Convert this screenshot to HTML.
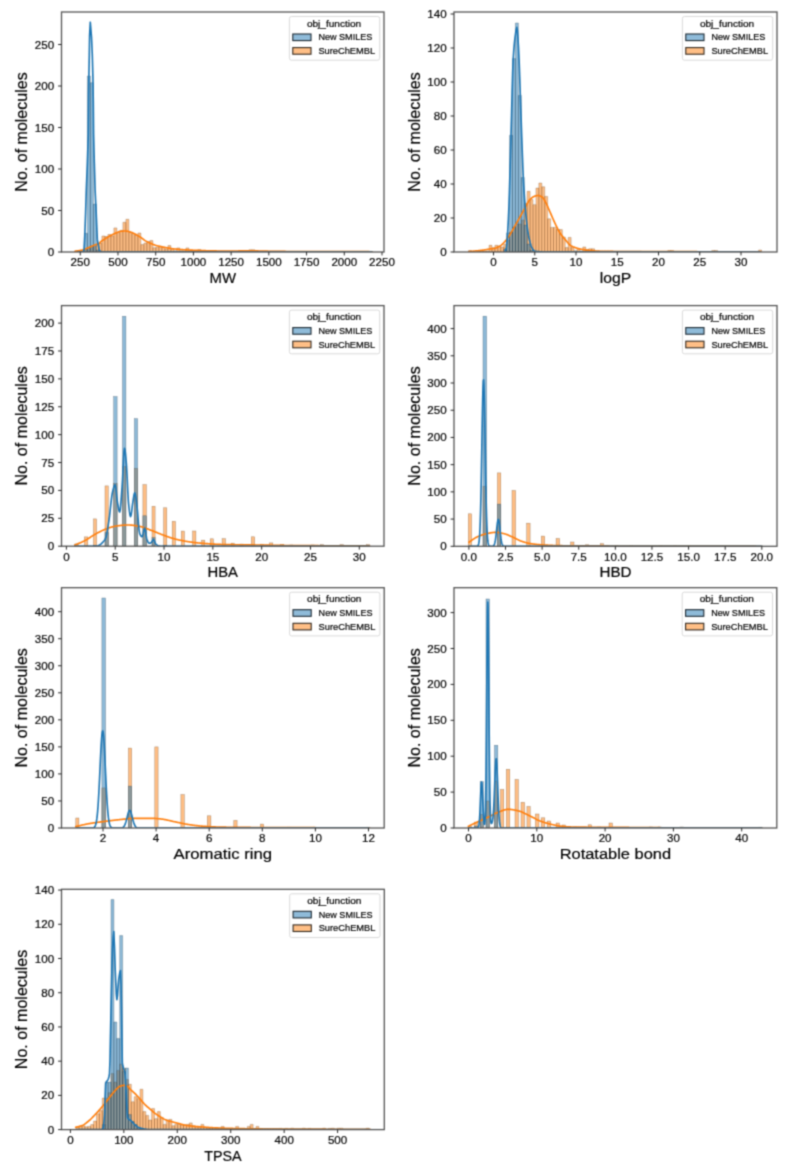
<!DOCTYPE html><html><head><meta charset="utf-8"><style>html,body{margin:0;padding:0;background:#fff;overflow:hidden;}svg{display:block;}svg text{stroke:#000000;stroke-width:0.2px;}</style></head><body>
<svg width="790" height="1174" viewBox="0 0 790 1174" font-family='"Liberation Sans", sans-serif' fill="#000000">
<rect width="790" height="1174" fill="#fff"/>
<defs><filter id="bl" x="0" y="0" width="790" height="1174" filterUnits="userSpaceOnUse" color-interpolation-filters="sRGB"><feConvolveMatrix order="3" kernelMatrix="1 3 1 3 9 3 1 3 1" edgeMode="none"/></filter></defs>
<g filter="url(#bl)">
<g>
<clipPath id="c1"><rect x="61.5" y="12" width="322.5" height="240"/></clipPath>
<g clip-path="url(#c1)">
<path d="M74.9 252V251.2H77.9V252ZM77.9 252V251.2H80.9V252ZM80.9 252V250.5H83.9V252ZM83.9 252V249.5H86.9V252ZM86.9 252V247.7H89.9V252ZM89.9 252V246.2H92.9V252ZM92.9 252V246.2H95.9V252ZM95.9 252V245.2H98.9V252ZM98.9 252V243.1H101.9V252ZM101.9 252V236H104.9V252ZM104.9 252V236.5H107.9V252ZM107.9 252V234.5H110.9V252ZM110.9 252V236H113.9V252ZM113.9 252V227.9H116.9V252ZM116.9 252V232.5H119.9V252ZM119.9 252V230.4H122.9V252ZM122.9 252V222.3H125.9V252ZM125.9 252V219.3H128.9V252ZM128.9 252V232.5H131.9V252ZM131.9 252V233.5H134.9V252ZM134.9 252V235H137.9V252ZM137.9 252V233H140.9V252ZM140.9 252V244.6H143.9V252ZM143.9 252V243.1H146.9V252ZM146.9 252V241.6H149.9V252ZM149.9 252V240.6H152.9V252ZM152.9 252V247.7H155.9V252ZM155.9 252V247.2H158.9V252ZM158.9 252V246.1H161.9V252ZM161.9 252V247.2H164.9V252ZM164.9 252V249H167.9V252ZM167.9 252V245.6H170.9V252ZM170.9 252V249.5H173.9V252ZM173.9 252V250.8H176.9V252ZM176.9 252V247.9H179.9V252ZM179.9 252V250.8H182.9V252ZM182.9 252V250.8H185.9V252ZM185.9 252V247.9H188.9V252ZM188.9 252V250.8H191.9V252ZM191.9 252V250.8H194.9V252ZM194.9 252V250.8H197.9V252ZM197.9 252V249.5H200.9V252ZM200.9 252V250.8H203.9V252ZM203.9 252V250.8H206.9V252ZM206.9 252V250.8H209.9V252ZM209.9 252V251.1H212.9V252ZM212.9 252V251.1H215.9V252ZM215.9 252V251.1H218.9V252ZM218.9 252V251.1H221.9V252ZM221.9 252V251.1H224.9V252ZM224.9 252V251.1H227.9V252ZM227.9 252V251.1H230.9V252ZM230.9 252V251.1H233.9V252ZM233.9 252V251.1H236.9V252ZM236.9 252V251.1H239.9V252ZM239.9 252V251.1H242.9V252ZM242.9 252V251.1H245.9V252ZM245.9 252V251.1H248.9V252ZM248.9 252V249.8H251.9V252ZM251.9 252V249.8H254.9V252ZM254.9 252V251.1H257.9V252ZM257.9 252V251.1H260.9V252ZM260.9 252V251.1H263.9V252ZM263.9 252V251.1H266.9V252ZM266.9 252V251.1H269.9V252ZM269.9 252V251.1H272.9V252ZM272.9 252V251.1H275.9V252ZM275.9 252V251.1H278.9V252ZM278.9 252V251.1H281.9V252ZM281.9 252V251.1H284.9V252ZM284.9 252V251.4H287.9V252ZM287.9 252V251.4H290.9V252ZM290.9 252V251.4H293.9V252ZM293.9 252V251.4H296.9V252ZM296.9 252V251.4H299.9V252ZM299.9 252V251.4H302.9V252ZM302.9 252V251.4H305.9V252ZM305.9 252V251.4H308.9V252ZM308.9 252V251.4H311.9V252ZM311.9 252V251.4H314.9V252ZM314.9 252V251.4H317.9V252ZM317.9 252V251.4H320.9V252ZM320.9 252V251.4H323.9V252ZM323.9 252V251.4H326.9V252ZM326.9 252V251.4H329.9V252ZM329.9 252V251.4H332.9V252ZM332.9 252V251.4H335.9V252ZM335.9 252V251.4H338.9V252ZM338.9 252V251.4H341.9V252ZM341.9 252V251.4H344.9V252ZM344.9 252V251.4H347.9V252ZM347.9 252V251.4H350.9V252ZM350.9 252V251.4H353.9V252ZM353.9 252V251.4H356.9V252ZM356.9 252V251.4H359.9V252ZM359.9 252V251.4H362.9V252ZM362.9 252V251.4H365.9V252ZM365.9 252V251.4H368.9V252ZM368.9 252V251.4H371.9V252Z" fill="#ff7f0e" fill-opacity="0.5" stroke="#5a3410" stroke-opacity="0.5" stroke-width="0.5"/>
<path d="M84.4 252V233.3H87.4V252ZM87.4 252V76H90.4V252ZM90.4 252V82.7H93.4V252ZM93.4 252V204H96.4V252ZM96.4 252V250H99.4V252Z" fill="#1f77b4" fill-opacity="0.5" stroke="#0d2a40" stroke-opacity="0.5" stroke-width="0.5"/>
<polyline points="75,251.2 75.5,251.13 76,251.07 76.5,251 77,250.94 77.5,250.88 78,250.81 78.5,250.74 79,250.67 79.5,250.59 80,250.5 80.5,250.4 81,250.3 81.5,250.19 82,250.06 82.5,249.93 83,249.8 83.5,249.65 84,249.5 84.5,249.34 85,249.16 85.5,248.96 86,248.76 86.5,248.55 87,248.33 87.5,248.1 88,247.87 88.5,247.65 89,247.43 89.5,247.21 90,247 90.5,246.79 91,246.58 91.5,246.36 92,246.15 92.5,245.93 93,245.72 93.5,245.5 94,245.3 94.5,245.1 95,244.91 95.5,244.72 96,244.56 96.5,244.4 97,244.28 97.5,244.17 98,244.06 98.5,243.9 99,243.59 99.5,243.11 100,242.54 100.5,241.97 101,241.5 101.51,241.11 102.03,240.74 102.54,240.39 103.05,240.06 103.56,239.74 104.07,239.43 104.59,239.12 105.1,238.8 105.61,238.48 106.12,238.17 106.63,237.86 107.14,237.55 107.65,237.24 108.16,236.94 108.67,236.65 109.18,236.36 109.69,236.08 110.2,235.8 110.71,235.53 111.22,235.26 111.73,234.99 112.24,234.73 112.75,234.47 113.26,234.22 113.77,233.98 114.28,233.74 114.79,233.51 115.3,233.3 115.8,233.09 116.3,232.87 116.8,232.65 117.3,232.43 117.8,232.21 118.3,232 118.8,231.81 119.3,231.63 119.8,231.48 120.3,231.36 120.8,231.26 121.3,231.2 121.81,231.16 122.33,231.12 122.84,231.09 123.35,231.06 123.86,231.03 124.38,231.02 124.89,231 125.4,231 125.9,231.02 126.4,231.06 126.9,231.14 127.4,231.23 127.9,231.34 128.4,231.45 128.9,231.58 129.4,231.7 129.91,231.83 130.42,231.99 130.93,232.17 131.43,232.37 131.94,232.58 132.45,232.81 132.96,233.04 133.47,233.29 133.97,233.54 134.48,233.79 134.99,234.05 135.5,234.3 136.01,234.56 136.52,234.83 137.03,235.11 137.54,235.4 138.05,235.7 138.56,236.01 139.07,236.33 139.58,236.65 140.09,236.97 140.6,237.3 141.1,237.64 141.6,238 142.1,238.37 142.6,238.75 143.1,239.14 143.6,239.52 144.1,239.9 144.6,240.26 145.1,240.59 145.6,240.9 146.11,241.19 146.62,241.47 147.13,241.74 147.64,242 148.15,242.24 148.66,242.49 149.17,242.72 149.68,242.95 150.19,243.18 150.7,243.4 151.21,243.62 151.72,243.84 152.23,244.06 152.74,244.28 153.25,244.49 153.76,244.69 154.27,244.88 154.78,245.07 155.29,245.24 155.8,245.4 156.3,245.54 156.8,245.68 157.3,245.81 157.8,245.93 158.3,246.05 158.8,246.16 159.3,246.28 159.8,246.38 160.3,246.49 160.8,246.6 161.31,246.71 161.82,246.81 162.33,246.92 162.84,247.02 163.35,247.12 163.86,247.22 164.37,247.31 164.88,247.41 165.39,247.5 165.9,247.6 166.4,247.69 166.9,247.79 167.4,247.89 167.9,247.98 168.4,248.08 168.9,248.17 169.4,248.26 169.9,248.34 170.4,248.42 170.9,248.5 171.41,248.57 171.93,248.64 172.44,248.71 172.95,248.77 173.46,248.83 173.97,248.89 174.49,248.95 175,249 175.5,249.05 176,249.1 176.5,249.14 177,249.19 177.5,249.24 178,249.28 178.5,249.32 179,249.37 179.5,249.41 180,249.45 180.5,249.49 181,249.53 181.5,249.56 182,249.6 182.5,249.64 183,249.67 183.5,249.7 184,249.74 184.5,249.77 185,249.8 185.5,249.83 186,249.86 186.5,249.89 187,249.92 187.5,249.95 188,249.97 188.5,250 189,250.03 189.5,250.05 190,250.08 190.5,250.1 191,250.12 191.5,250.15 192,250.17 192.5,250.19 193,250.22 193.5,250.24 194,250.26 194.5,250.28 195,250.3 195.5,250.32 196,250.34 196.5,250.36 197,250.38 197.5,250.4 198,250.42 198.5,250.44 199,250.46 199.5,250.48 200,250.5 200.5,250.51 201,250.53 201.5,250.55 202,250.57 202.5,250.59 203,250.6 203.5,250.62 204,250.64 204.5,250.65 205,250.67 205.5,250.68 206,250.7 206.5,250.71 207,250.73 207.5,250.74 208,250.75 208.5,250.77 209,250.78 209.5,250.79 210,250.8 210.5,250.81 211,250.82 211.5,250.83 212,250.84 212.5,250.85 213,250.86 213.5,250.87 214,250.89 214.5,250.9 215,250.91 215.5,250.92 216,250.93 216.5,250.94 217,250.95 217.5,250.96 218,250.97 218.5,250.98 219,250.98 219.5,250.99 220,251 220.5,251.01 221,251.02 221.5,251.03 222,251.03 222.5,251.04 223,251.05 223.5,251.06 224,251.06 224.5,251.07 225,251.07 225.5,251.08 226,251.08 226.5,251.09 227,251.09 227.5,251.09 228,251.1 228.5,251.1 229,251.1 229.5,251.1 230,251.1 230.5,251.1 231,251.1 231.5,251.09 232,251.09 232.5,251.08 233,251.08 233.5,251.07 234,251.06 234.5,251.05 235,251.04 235.5,251.03 236,251.01 236.5,251 237,250.99 237.5,250.97 238,250.96 238.5,250.94 239,250.93 239.5,250.91 240,250.9 240.5,250.89 241,250.87 241.5,250.86 242,250.84 242.5,250.83 243,250.81 243.5,250.8 244,250.79 244.5,250.77 245,250.76 245.5,250.75 246,250.74 246.5,250.73 247,250.72 247.5,250.72 248,250.71 248.5,250.71 249,250.7 249.5,250.7 250,250.7 250.5,250.7 251,250.71 251.5,250.71 252,250.72 252.5,250.74 253,250.75 253.5,250.76 254,250.78 254.5,250.8 255,250.82 255.5,250.84 256,250.86 256.5,250.88 257,250.9 257.5,250.92 258,250.94 258.5,250.96 259,250.97 259.5,250.99 260,251 260.5,251.01 261,251.02 261.5,251.04 262,251.05 262.5,251.06 263,251.07 263.5,251.09 264,251.1 264.5,251.11 265,251.12 265.5,251.14 266,251.15 266.5,251.16 267,251.17 267.5,251.18 268,251.2 268.5,251.21 269,251.22 269.5,251.23 270,251.24 270.5,251.25 271,251.26 271.5,251.27 272,251.28 272.5,251.29 273,251.3 273.5,251.31 274,251.32 274.5,251.33 275,251.34 275.5,251.34 276,251.35 276.5,251.36 277,251.37 277.5,251.37 278,251.38 278.5,251.39 279,251.39 279.5,251.4 280,251.4 280.5,251.4 281,251.41 281.5,251.41 282,251.42 282.5,251.42 283,251.42 283.5,251.43 284,251.43 284.5,251.44 285,251.44 285.5,251.44 286,251.45 286.5,251.45 287,251.45 287.5,251.46 288,251.46 288.5,251.46 289,251.47 289.5,251.47 290,251.47 290.5,251.48 291,251.48 291.5,251.48 292,251.49 292.5,251.49 293,251.49 293.5,251.5 294,251.5 294.5,251.5 295,251.5 295.5,251.51 296,251.51 296.5,251.51 297,251.51 297.5,251.52 298,251.52 298.5,251.52 299,251.52 299.5,251.53 300,251.53 300.5,251.53 301,251.53 301.5,251.54 302,251.54 302.5,251.54 303,251.54 303.5,251.54 304,251.55 304.5,251.55 305,251.55 305.5,251.55 306,251.55 306.5,251.56 307,251.56 307.5,251.56 308,251.56 308.5,251.56 309,251.57 309.5,251.57 310,251.57 310.5,251.57 311,251.57 311.5,251.57 312,251.58 312.5,251.58 313,251.58 313.5,251.58 314,251.58 314.5,251.58 315,251.59 315.5,251.59 316,251.59 316.5,251.59 317,251.59 317.5,251.59 318,251.59 318.5,251.6 319,251.6 319.5,251.6 320,251.6 320.5,251.6 321,251.6 321.5,251.6 322,251.61 322.5,251.61 323,251.61 323.5,251.61 324,251.61 324.5,251.61 325,251.61 325.5,251.61 326,251.62 326.5,251.62 327,251.62 327.5,251.62 328,251.62 328.5,251.62 329,251.62 329.5,251.62 330,251.63 330.5,251.63 331,251.63 331.5,251.63 332,251.63 332.5,251.63 333,251.63 333.5,251.63 334,251.63 334.5,251.63 335,251.64 335.5,251.64 336,251.64 336.5,251.64 337,251.64 337.5,251.64 338,251.64 338.5,251.64 339,251.64 339.5,251.64 340,251.65 340.5,251.65 341,251.65 341.5,251.65 342,251.65 342.5,251.65 343,251.65 343.5,251.65 344,251.65 344.5,251.65 345,251.65 345.5,251.66 346,251.66 346.5,251.66 347,251.66 347.5,251.66 348,251.66 348.5,251.66 349,251.66 349.5,251.66 350,251.66 350.5,251.66 351,251.66 351.5,251.67 352,251.67 352.5,251.67 353,251.67 353.5,251.67 354,251.67 354.5,251.67 355,251.67 355.5,251.67 356,251.67 356.5,251.67 357,251.67 357.5,251.67 358,251.68 358.5,251.68 359,251.68 359.5,251.68 360,251.68 360.5,251.68 361,251.68 361.5,251.68 362,251.68 362.5,251.68 363,251.68 363.5,251.68 364,251.69 364.5,251.69 365,251.69 365.5,251.69 366,251.69 366.5,251.69 367,251.69 367.5,251.69 368,251.69 368.5,251.69 369,251.69 369.5,251.7 370,251.7 370.5,251.7 371,251.7 371.5,251.7 372,251.7" fill="none" stroke="#ff7f0e" stroke-width="1.65" stroke-linejoin="round" stroke-linecap="round"/>
<polyline points="78,252 83,252 84,250 84.8,235.6 85.6,213 86.3,190 87.4,162 88.3,134 88.6,96 88.9,76 89.3,55 89.6,35 90.3,22.2 91.5,37 92.3,55 92.9,77 93.3,102 93.6,134 94.3,162 95.1,190 96.2,213 97.3,239.4 99.2,250 101,252 110,252 372,252" fill="none" stroke="#1f77b4" stroke-width="1.65" stroke-linejoin="round" stroke-linecap="round"/>
</g>
<rect x="61.5" y="12" width="322.5" height="240" fill="none" stroke="#555555" stroke-width="1.3"/>
<line x1="80.25" y1="252" x2="80.25" y2="255.4" stroke="#2a2a2a" stroke-width="1"/>
<text x="80.25" y="266.3" text-anchor="middle" font-size="11.6">250</text>
<line x1="117.97" y1="252" x2="117.97" y2="255.4" stroke="#2a2a2a" stroke-width="1"/>
<text x="117.97" y="266.3" text-anchor="middle" font-size="11.6">500</text>
<line x1="155.69" y1="252" x2="155.69" y2="255.4" stroke="#2a2a2a" stroke-width="1"/>
<text x="155.69" y="266.3" text-anchor="middle" font-size="11.6">750</text>
<line x1="193.41" y1="252" x2="193.41" y2="255.4" stroke="#2a2a2a" stroke-width="1"/>
<text x="193.41" y="266.3" text-anchor="middle" font-size="11.6">1000</text>
<line x1="231.12" y1="252" x2="231.12" y2="255.4" stroke="#2a2a2a" stroke-width="1"/>
<text x="231.12" y="266.3" text-anchor="middle" font-size="11.6">1250</text>
<line x1="268.84" y1="252" x2="268.84" y2="255.4" stroke="#2a2a2a" stroke-width="1"/>
<text x="268.84" y="266.3" text-anchor="middle" font-size="11.6">1500</text>
<line x1="306.56" y1="252" x2="306.56" y2="255.4" stroke="#2a2a2a" stroke-width="1"/>
<text x="306.56" y="266.3" text-anchor="middle" font-size="11.6">1750</text>
<line x1="344.28" y1="252" x2="344.28" y2="255.4" stroke="#2a2a2a" stroke-width="1"/>
<text x="344.28" y="266.3" text-anchor="middle" font-size="11.6">2000</text>
<line x1="382" y1="252" x2="382" y2="255.4" stroke="#2a2a2a" stroke-width="1"/>
<text x="382" y="266.3" text-anchor="middle" font-size="11.6">2250</text>
<line x1="58.1" y1="252" x2="61.5" y2="252" stroke="#2a2a2a" stroke-width="1"/>
<text x="54.1" y="256" text-anchor="end" font-size="11.6">0</text>
<line x1="58.1" y1="210.5" x2="61.5" y2="210.5" stroke="#2a2a2a" stroke-width="1"/>
<text x="54.1" y="214.5" text-anchor="end" font-size="11.6">50</text>
<line x1="58.1" y1="169" x2="61.5" y2="169" stroke="#2a2a2a" stroke-width="1"/>
<text x="54.1" y="173" text-anchor="end" font-size="11.6">100</text>
<line x1="58.1" y1="127.5" x2="61.5" y2="127.5" stroke="#2a2a2a" stroke-width="1"/>
<text x="54.1" y="131.5" text-anchor="end" font-size="11.6">150</text>
<line x1="58.1" y1="86" x2="61.5" y2="86" stroke="#2a2a2a" stroke-width="1"/>
<text x="54.1" y="90" text-anchor="end" font-size="11.6">200</text>
<line x1="58.1" y1="44.5" x2="61.5" y2="44.5" stroke="#2a2a2a" stroke-width="1"/>
<text x="54.1" y="48.5" text-anchor="end" font-size="11.6">250</text>
<text x="222.75" y="282.9" text-anchor="middle" font-size="15.4" textLength="26.5" lengthAdjust="spacingAndGlyphs">MW</text>
<text transform="translate(27.4 132) rotate(-90)" x="0" y="0" text-anchor="middle" font-size="15.8" textLength="119.4" lengthAdjust="spacingAndGlyphs">No. of molecules</text>
<rect x="289.4" y="16.5" width="90.3" height="43.7" rx="2" ry="2" fill="#fff" fill-opacity="0.8" stroke="#d6d6d6" stroke-width="0.9"/>
<text x="306.9" y="26.6" font-size="9.2" textLength="54.3" lengthAdjust="spacingAndGlyphs">obj_function</text>
<rect x="292.8" y="34" width="18.2" height="6.6" fill="#8fbbd9" stroke="#1e2a33" stroke-width="1.1"/>
<rect x="292.8" y="47.6" width="18.2" height="6.6" fill="#ffbf86" stroke="#33291f" stroke-width="1.1"/>
<text x="318.4" y="40.3" font-size="9.8" textLength="53.9" lengthAdjust="spacingAndGlyphs">New SMILES</text>
<text x="318.4" y="53.9" font-size="9.8" textLength="56.7" lengthAdjust="spacingAndGlyphs">SureChEMBL</text>
</g>
<g>
<clipPath id="c2"><rect x="454" y="12" width="323" height="240"/></clipPath>
<g clip-path="url(#c2)">
<path d="M468.55 252V250.5H471.48V252ZM471.48 252V251.5H474.41V252ZM477.34 252V251.5H480.27V252ZM480.27 252V251H483.2V252ZM483.2 252V251H486.13V252ZM486.13 252V251H489.06V252ZM489.06 252V245.3H491.99V252ZM491.99 252V247.8H494.92V252ZM494.92 252V245.3H497.85V252ZM497.85 252V246H500.78V252ZM500.78 252V247H503.71V252ZM503.71 252V244H506.64V252ZM506.64 252V240H509.57V252ZM509.57 252V232H512.5V252ZM512.5 252V227H515.43V252ZM515.43 252V224H518.36V252ZM518.36 252V224H521.29V252ZM521.29 252V220H524.22V252ZM524.22 252V203.4H527.15V252ZM527.15 252V191.3H530.08V252ZM530.08 252V199.6H533.01V252ZM533.01 252V204.7H535.94V252ZM535.94 252V188.1H538.87V252ZM538.87 252V183H541.8V252ZM541.8 252V186.8H544.73V252ZM544.73 252V196.4H547.66V252ZM547.66 252V218.8H550.59V252ZM550.59 252V227.4H553.52V252ZM553.52 252V227.4H556.45V252ZM556.45 252V229.6H559.38V252ZM559.38 252V229.6H562.31V252ZM562.31 252V237H565.24V252ZM565.24 252V247.6H568.17V252ZM568.17 252V237.4H571.1V252ZM571.1 252V247.6H574.03V252ZM574.03 252V250.7H576.96V252ZM576.96 252V249.5H579.89V252ZM579.89 252V251H582.82V252ZM582.82 252V247H585.75V252ZM585.75 252V249.5H588.68V252ZM588.68 252V248.8H591.61V252ZM591.61 252V248.8H594.54V252ZM594.54 252V251H597.47V252ZM597.47 252V251.2H600.4V252ZM600.4 252V251.2H603.33V252ZM603.33 252V251.2H606.26V252ZM606.26 252V251.2H609.19V252ZM609.19 252V251.2H612.12V252ZM612.12 252V251.2H615.05V252ZM615.05 252V251.2H617.98V252ZM617.98 252V251.2H620.91V252ZM620.91 252V251.2H623.84V252ZM623.84 252V251.2H626.77V252ZM626.77 252V251.2H629.7V252ZM629.7 252V251.2H632.63V252ZM632.63 252V251.2H635.56V252ZM635.56 252V251.2H638.49V252ZM638.49 252V251.2H641.42V252ZM667.79 252V250.5H670.72V252ZM670.72 252V250.5H673.65V252ZM711.74 252V250.5H714.67V252ZM714.67 252V250.5H717.6V252ZM758.62 252V250H761.55V252Z" fill="#ff7f0e" fill-opacity="0.5" stroke="#5a3410" stroke-opacity="0.5" stroke-width="0.5"/>
<path d="M503.71 252V249H506.64V252ZM506.64 252V232.9H509.57V252ZM509.57 252V135.3H512.5V252ZM512.5 252V58.6H515.43V252ZM515.43 252V23H518.36V252ZM518.36 252V95.4H521.29V252ZM521.29 252V177.5H524.22V252ZM524.22 252V225H527.15V252ZM527.15 252V244H530.08V252ZM530.08 252V250H533.01V252Z" fill="#1f77b4" fill-opacity="0.5" stroke="#0d2a40" stroke-opacity="0.5" stroke-width="0.5"/>
<polyline points="469,251.5 469.5,251.46 470,251.41 470.5,251.37 471,251.32 471.5,251.28 472,251.24 472.5,251.2 473,251.16 473.5,251.12 474,251.07 474.5,251.03 475,250.99 475.5,250.94 476,250.9 476.5,250.86 477,250.81 477.5,250.76 478,250.71 478.5,250.66 479,250.61 479.5,250.56 480,250.5 480.5,250.44 481,250.38 481.5,250.32 482,250.25 482.5,250.18 483,250.11 483.5,250.03 484,249.96 484.5,249.88 485,249.8 485.5,249.72 486,249.64 486.5,249.56 487,249.48 487.5,249.4 488,249.32 488.5,249.24 489,249.16 489.5,249.08 490,249 490.5,248.93 491,248.85 491.5,248.79 492,248.72 492.5,248.65 493,248.58 493.5,248.5 494,248.41 494.5,248.31 495,248.2 495.5,248.07 496,247.92 496.5,247.74 497,247.54 497.5,247.33 498,247.09 498.5,246.84 499,246.57 499.5,246.29 500,246 500.5,245.68 501,245.32 501.5,244.92 502,244.48 502.5,244.02 503,243.53 503.5,243.02 504,242.49 504.5,241.95 505,241.4 505.5,240.83 506,240.22 506.5,239.58 507,238.92 507.5,238.22 508,237.51 508.5,236.78 509,236.03 509.5,235.27 510,234.5 510.53,233.66 511.06,232.78 511.59,231.87 512.12,230.94 512.65,229.99 513.18,229.02 513.71,228.06 514.24,227.09 514.77,226.14 515.3,225.2 515.82,224.29 516.34,223.38 516.87,222.48 517.39,221.57 517.91,220.67 518.43,219.76 518.96,218.84 519.48,217.93 520,217 520.55,216.01 521.1,215.01 521.65,214 522.2,212.99 522.75,211.98 523.3,210.97 523.85,209.98 524.4,209 524.91,208.08 525.42,207.13 525.93,206.15 526.44,205.18 526.95,204.21 527.45,203.27 527.96,202.37 528.47,201.52 528.98,200.76 529.49,200.08 530,199.5 530.5,199 531,198.53 531.5,198.09 532,197.68 532.5,197.31 533,196.99 533.5,196.72 534,196.5 534.5,196.31 535,196.13 535.5,195.96 536,195.81 536.5,195.68 537,195.59 537.5,195.52 538,195.5 538.5,195.53 539,195.62 539.5,195.76 540,195.95 540.5,196.17 541,196.43 541.5,196.71 542,197 542.5,197.39 543,197.94 543.5,198.62 544,199.4 544.5,200.26 545,201.16 545.5,202.09 546,203 546.5,203.95 547,205 547.5,206.11 548,207.28 548.5,208.47 549,209.67 549.5,210.85 550,212 550.53,213.19 551.05,214.4 551.58,215.61 552.11,216.82 552.64,218.04 553.16,219.24 553.69,220.44 554.22,221.62 554.75,222.77 555.27,223.9 555.8,225 556.32,226.08 556.85,227.16 557.38,228.23 557.9,229.27 558.42,230.28 558.95,231.25 559.48,232.16 560,233 560.54,233.8 561.07,234.56 561.61,235.28 562.15,235.97 562.68,236.63 563.22,237.28 563.75,237.91 564.29,238.53 564.83,239.15 565.36,239.77 565.9,240.4 566.41,241.02 566.92,241.66 567.44,242.31 567.95,242.95 568.46,243.55 568.98,244.1 569.49,244.59 570,245 570.5,245.34 571,245.65 571.5,245.94 572,246.2 572.5,246.45 573,246.69 573.5,246.91 574,247.11 574.5,247.31 575,247.5 575.5,247.68 576,247.86 576.5,248.03 577,248.2 577.5,248.35 578,248.5 578.5,248.64 579,248.77 579.5,248.89 580,249 580.5,249.1 581,249.2 581.5,249.3 582,249.39 582.5,249.48 583,249.57 583.5,249.65 584,249.74 584.5,249.81 585,249.89 585.5,249.96 586,250.03 586.5,250.1 587,250.17 587.5,250.23 588,250.29 588.5,250.35 589,250.4 589.5,250.45 590,250.5 590.5,250.55 591,250.59 591.5,250.64 592,250.69 592.5,250.73 593,250.77 593.5,250.82 594,250.86 594.5,250.9 595,250.94 595.5,250.97 596,251.01 596.5,251.04 597,251.07 597.5,251.1 598,251.12 598.5,251.15 599,251.17 599.5,251.19 600,251.2 600.5,251.21 601,251.23 601.5,251.24 602,251.25 602.5,251.26 603,251.27 603.5,251.28 604,251.3 604.5,251.31 605,251.32 605.5,251.33 606,251.34 606.5,251.35 607,251.35 607.5,251.36 608,251.37 608.5,251.38 609,251.39 609.5,251.39 610,251.4 610.5,251.41 611,251.42 611.5,251.42 612,251.43 612.5,251.44 613,251.44 613.5,251.45 614,251.45 614.5,251.46 615,251.46 615.5,251.47 616,251.47 616.5,251.48 617,251.48 617.5,251.48 618,251.49 618.5,251.49 619,251.49 619.5,251.5 620,251.5 620.5,251.5 621,251.51 621.5,251.51 622,251.51 622.5,251.51 623,251.52 623.5,251.52 624,251.52 624.5,251.52 625,251.53 625.5,251.53 626,251.53 626.5,251.53 627,251.53 627.5,251.54 628,251.54 628.5,251.54 629,251.54 629.5,251.54 630,251.55 630.5,251.55 631,251.55 631.5,251.55 632,251.55 632.5,251.55 633,251.56 633.5,251.56 634,251.56 634.5,251.56 635,251.56 635.5,251.56 636,251.56 636.5,251.57 637,251.57 637.5,251.57 638,251.57 638.5,251.57 639,251.57 639.5,251.57 640,251.58 640.5,251.58 641,251.58 641.5,251.58 642,251.58 642.5,251.58 643,251.58 643.5,251.58 644,251.59 644.5,251.59 645,251.59 645.5,251.59 646,251.59 646.5,251.59 647,251.59 647.5,251.59 648,251.59 648.5,251.6 649,251.6 649.5,251.6 650,251.6 650.5,251.6 651,251.6 651.5,251.6 652,251.61 652.5,251.61 653,251.61 653.5,251.61 654,251.61 654.5,251.61 655,251.61 655.5,251.61 656,251.61 656.5,251.62 657,251.62 657.5,251.62 658,251.62 658.5,251.62 659,251.62 659.5,251.62 660,251.62 660.5,251.62 661,251.63 661.5,251.63 662,251.63 662.5,251.63 663,251.63 663.5,251.63 664,251.63 664.5,251.63 665,251.63 665.5,251.64 666,251.64 666.5,251.64 667,251.64 667.5,251.64 668,251.64 668.5,251.64 669,251.64 669.5,251.64 670,251.64 670.5,251.65 671,251.65 671.5,251.65 672,251.65 672.5,251.65 673,251.65 673.5,251.65 674,251.65 674.5,251.65 675,251.65 675.5,251.66 676,251.66 676.5,251.66 677,251.66 677.5,251.66 678,251.66 678.5,251.66 679,251.66 679.5,251.66 680,251.66 680.5,251.66 681,251.67 681.5,251.67 682,251.67 682.5,251.67 683,251.67 683.5,251.67 684,251.67 684.5,251.67 685,251.67 685.5,251.67 686,251.67 686.5,251.68 687,251.68 687.5,251.68 688,251.68 688.5,251.68 689,251.68 689.5,251.68 690,251.68 690.5,251.68 691,251.68 691.5,251.68 692,251.69 692.5,251.69 693,251.69 693.5,251.69 694,251.69 694.5,251.69 695,251.69 695.5,251.69 696,251.69 696.5,251.69 697,251.69 697.5,251.7 698,251.7 698.5,251.7 699,251.7 699.5,251.7 700,251.7 700.5,251.7 701,251.7 701.5,251.7 702,251.7 702.5,251.7 703,251.71 703.5,251.71 704,251.71 704.5,251.71 705,251.71 705.5,251.71 706,251.71 706.5,251.71 707,251.71 707.5,251.71 708,251.71 708.5,251.72 709,251.72 709.5,251.72 710,251.72 710.5,251.72 711,251.72 711.5,251.72 712,251.72 712.5,251.72 713,251.72 713.5,251.72 714,251.72 714.5,251.73 715,251.73 715.5,251.73 716,251.73 716.5,251.73 717,251.73 717.5,251.73 718,251.73 718.5,251.73 719,251.73 719.5,251.73 720,251.73 720.5,251.74 721,251.74 721.5,251.74 722,251.74 722.5,251.74 723,251.74 723.5,251.74 724,251.74 724.5,251.74 725,251.74 725.5,251.74 726,251.74 726.5,251.75 727,251.75 727.5,251.75 728,251.75 728.5,251.75 729,251.75 729.5,251.75 730,251.75 730.5,251.75 731,251.75 731.5,251.75 732,251.75 732.5,251.76 733,251.76 733.5,251.76 734,251.76 734.5,251.76 735,251.76 735.5,251.76 736,251.76 736.5,251.76 737,251.76 737.5,251.76 738,251.76 738.5,251.76 739,251.77 739.5,251.77 740,251.77 740.5,251.77 741,251.77 741.5,251.77 742,251.77 742.5,251.77 743,251.77 743.5,251.77 744,251.77 744.5,251.77 745,251.78 745.5,251.78 746,251.78 746.5,251.78 747,251.78 747.5,251.78 748,251.78 748.5,251.78 749,251.78 749.5,251.78 750,251.78 750.5,251.78 751,251.79 751.5,251.79 752,251.79 752.5,251.79 753,251.79 753.5,251.79 754,251.79 754.5,251.79 755,251.79 755.5,251.79 756,251.79 756.5,251.79 757,251.8 757.5,251.8 758,251.8 758.5,251.8 759,251.8 759.5,251.8 760,251.8" fill="none" stroke="#ff7f0e" stroke-width="1.65" stroke-linejoin="round" stroke-linecap="round"/>
<polyline points="505,252 505.65,250.28 506.3,248 506.82,243.92 507.35,237.23 507.88,228.67 508.4,219 508.92,206.82 509.44,191.01 509.96,172.99 510.48,154.18 511,136 511.55,115.34 512.1,92.89 512.65,72.74 513.2,59 513.78,50.43 514.35,43.64 514.92,38.28 515.5,34 516.15,29.61 516.8,27.4 517.37,30.46 517.93,37.88 518.5,47 519.1,59.99 519.7,77.24 520.3,95 521,115.6 521.7,136 522.3,152.85 522.9,168.97 523.5,182 524.06,191.42 524.62,199.75 525.18,207.07 525.74,213.46 526.3,219 526.84,223.75 527.38,228.07 527.92,231.92 528.46,235.24 529,238 529.5,240.21 530,242.26 530.5,244.1 531,245.7 531.5,247.01 532,248 532.5,248.79 533,249.51 533.5,250.14 534,250.65 534.5,251.01 535,251.2 535.5,251.29 536,251.36 536.5,251.44 537,251.51 537.5,251.57 538,251.63 538.5,251.69 539,251.74 539.5,251.78 540,251.82 540.5,251.86 541,251.89 541.5,251.91 542,251.94 542.5,251.96 543,251.97 543.5,251.99 544,251.99 544.5,252 545,252 545.5,252 546,252 546.5,252 547,252 547.5,252 548,252 548.5,252 549,252 549.5,252 550,252 550.5,252 551,252 551.5,252 552,252 552.5,252 553,252 553.5,252 554,252 554.5,252 555,252 555.5,252 556,252 556.5,252 557,252 557.5,252 558,252 558.5,252 559,252 559.5,252 560,252 560.5,252 561,252 561.5,252 562,252 562.5,252 563,252 563.5,252 564,252 564.5,252 565,252 565.5,252 566,252 566.5,252 567,252 567.5,252 568,252 568.5,252 569,252 569.5,252 570,252 570.5,252 571,252 571.5,252 572,252 572.5,252 573,252 573.5,252 574,252 574.5,252 575,252 575.5,252 576,252 576.5,252 577,252 577.5,252 578,252 578.5,252 579,252 579.5,252 580,252 580.5,252 581,252 581.5,252 582,252 582.5,252 583,252 583.5,252 584,252 584.5,252 585,252 585.5,252 586,252 586.5,252 587,252 587.5,252 588,252 588.5,252 589,252 589.5,252 590,252 590.5,252 591,252 591.5,252 592,252 592.5,252 593,252 593.5,252 594,252 594.5,252 595,252 595.5,252 596,252 596.5,252 597,252 597.5,252 598,252 598.5,252 599,252 599.5,252 600,252 600.5,252 601,252 601.5,252 602,252 602.5,252 603,252 603.5,252 604,252 604.5,252 605,252 605.5,252 606,252 606.5,252 607,252 607.5,252 608,252 608.5,252 609,252 609.5,252 610,252 610.5,252 611,252 611.5,252 612,252 612.5,252 613,252 613.5,252 614,252 614.5,252 615,252 615.5,252 616,252 616.5,252 617,252 617.5,252 618,252 618.5,252 619,252 619.5,252 620,252 620.5,252 621,252 621.5,252 622,252 622.5,252 623,252 623.5,252 624,252 624.5,252 625,252 625.5,252 626,252 626.5,252 627,252 627.5,252 628,252 628.5,252 629,252 629.5,252 630,252 630.5,252 631,252 631.5,252 632,252 632.5,252 633,252 633.5,252 634,252 634.5,252 635,252 635.5,252 636,252 636.5,252 637,252 637.5,252 638,252 638.5,252 639,252 639.5,252 640,252 640.5,252 641,252 641.5,252 642,252 642.5,252 643,252 643.5,252 644,252 644.5,252 645,252 645.5,252 646,252 646.5,252 647,252 647.5,252 648,252 648.5,252 649,252 649.5,252 650,252 650.5,252 651,252 651.5,252 652,252 652.5,252 653,252 653.5,252 654,252 654.5,252 655,252 655.5,252 656,252 656.5,252 657,252 657.5,252 658,252 658.5,252 659,252 659.5,252 660,252 660.5,252 661,252 661.5,252 662,252 662.5,252 663,252 663.5,252 664,252 664.5,252 665,252 665.5,252 666,252 666.5,252 667,252 667.5,252 668,252 668.5,252 669,252 669.5,252 670,252 670.5,252 671,252 671.5,252 672,252 672.5,252 673,252 673.5,252 674,252 674.5,252 675,252 675.5,252 676,252 676.5,252 677,252 677.5,252 678,252 678.5,252 679,252 679.5,252 680,252 680.5,252 681,252 681.5,252 682,252 682.5,252 683,252 683.5,252 684,252 684.5,252 685,252 685.5,252 686,252 686.5,252 687,252 687.5,252 688,252 688.5,252 689,252 689.5,252 690,252 690.5,252 691,252 691.5,252 692,252 692.5,252 693,252 693.5,252 694,252 694.5,252 695,252 695.5,252 696,252 696.5,252 697,252 697.5,252 698,252 698.5,252 699,252 699.5,252 700,252 700.5,252 701,252 701.5,252 702,252 702.5,252 703,252 703.5,252 704,252 704.5,252 705,252 705.5,252 706,252 706.5,252 707,252 707.5,252 708,252 708.5,252 709,252 709.5,252 710,252 710.5,252 711,252 711.5,252 712,252 712.5,252 713,252 713.5,252 714,252 714.5,252 715,252 715.5,252 716,252 716.5,252 717,252 717.5,252 718,252 718.5,252 719,252 719.5,252 720,252 720.5,252 721,252 721.5,252 722,252 722.5,252 723,252 723.5,252 724,252 724.5,252 725,252 725.5,252 726,252 726.5,252 727,252 727.5,252 728,252 728.5,252 729,252 729.5,252 730,252 730.5,252 731,252 731.5,252 732,252 732.5,252 733,252 733.5,252 734,252 734.5,252 735,252 735.5,252 736,252 736.5,252 737,252 737.5,252 738,252 738.5,252 739,252 739.5,252 740,252 740.5,252 741,252 741.5,252 742,252 742.5,252 743,252 743.5,252 744,252 744.5,252 745,252 745.5,252 746,252 746.5,252 747,252 747.5,252 748,252 748.5,252 749,252 749.5,252 750,252 750.5,252 751,252 751.5,252 752,252 752.5,252 753,252 753.5,252 754,252 754.5,252 755,252 755.5,252 756,252 756.5,252 757,252 757.5,252 758,252 758.5,252 759,252 759.5,252 760,252" fill="none" stroke="#1f77b4" stroke-width="1.65" stroke-linejoin="round" stroke-linecap="round"/>
</g>
<rect x="454" y="12" width="323" height="240" fill="none" stroke="#555555" stroke-width="1.3"/>
<line x1="493.5" y1="252" x2="493.5" y2="255.4" stroke="#2a2a2a" stroke-width="1"/>
<text x="493.5" y="266.3" text-anchor="middle" font-size="11.6">0</text>
<line x1="534.75" y1="252" x2="534.75" y2="255.4" stroke="#2a2a2a" stroke-width="1"/>
<text x="534.75" y="266.3" text-anchor="middle" font-size="11.6">5</text>
<line x1="576" y1="252" x2="576" y2="255.4" stroke="#2a2a2a" stroke-width="1"/>
<text x="576" y="266.3" text-anchor="middle" font-size="11.6">10</text>
<line x1="617.25" y1="252" x2="617.25" y2="255.4" stroke="#2a2a2a" stroke-width="1"/>
<text x="617.25" y="266.3" text-anchor="middle" font-size="11.6">15</text>
<line x1="658.5" y1="252" x2="658.5" y2="255.4" stroke="#2a2a2a" stroke-width="1"/>
<text x="658.5" y="266.3" text-anchor="middle" font-size="11.6">20</text>
<line x1="699.75" y1="252" x2="699.75" y2="255.4" stroke="#2a2a2a" stroke-width="1"/>
<text x="699.75" y="266.3" text-anchor="middle" font-size="11.6">25</text>
<line x1="741" y1="252" x2="741" y2="255.4" stroke="#2a2a2a" stroke-width="1"/>
<text x="741" y="266.3" text-anchor="middle" font-size="11.6">30</text>
<line x1="450.6" y1="252" x2="454" y2="252" stroke="#2a2a2a" stroke-width="1"/>
<text x="446.6" y="256" text-anchor="end" font-size="11.6">0</text>
<line x1="450.6" y1="218" x2="454" y2="218" stroke="#2a2a2a" stroke-width="1"/>
<text x="446.6" y="222" text-anchor="end" font-size="11.6">20</text>
<line x1="450.6" y1="184" x2="454" y2="184" stroke="#2a2a2a" stroke-width="1"/>
<text x="446.6" y="188" text-anchor="end" font-size="11.6">40</text>
<line x1="450.6" y1="150" x2="454" y2="150" stroke="#2a2a2a" stroke-width="1"/>
<text x="446.6" y="154" text-anchor="end" font-size="11.6">60</text>
<line x1="450.6" y1="116" x2="454" y2="116" stroke="#2a2a2a" stroke-width="1"/>
<text x="446.6" y="120" text-anchor="end" font-size="11.6">80</text>
<line x1="450.6" y1="82" x2="454" y2="82" stroke="#2a2a2a" stroke-width="1"/>
<text x="446.6" y="86" text-anchor="end" font-size="11.6">100</text>
<line x1="450.6" y1="48" x2="454" y2="48" stroke="#2a2a2a" stroke-width="1"/>
<text x="446.6" y="52" text-anchor="end" font-size="11.6">120</text>
<line x1="450.6" y1="14" x2="454" y2="14" stroke="#2a2a2a" stroke-width="1"/>
<text x="446.6" y="18" text-anchor="end" font-size="11.6">140</text>
<text x="615.5" y="282.9" text-anchor="middle" font-size="15.4" textLength="31.5" lengthAdjust="spacingAndGlyphs">logP</text>
<text transform="translate(419.9 132) rotate(-90)" x="0" y="0" text-anchor="middle" font-size="15.8" textLength="119.4" lengthAdjust="spacingAndGlyphs">No. of molecules</text>
<rect x="682.4" y="16.5" width="90.3" height="43.7" rx="2" ry="2" fill="#fff" fill-opacity="0.8" stroke="#d6d6d6" stroke-width="0.9"/>
<text x="699.9" y="26.6" font-size="9.2" textLength="54.3" lengthAdjust="spacingAndGlyphs">obj_function</text>
<rect x="685.8" y="34" width="18.2" height="6.6" fill="#8fbbd9" stroke="#1e2a33" stroke-width="1.1"/>
<rect x="685.8" y="47.6" width="18.2" height="6.6" fill="#ffbf86" stroke="#33291f" stroke-width="1.1"/>
<text x="711.4" y="40.3" font-size="9.8" textLength="53.9" lengthAdjust="spacingAndGlyphs">New SMILES</text>
<text x="711.4" y="53.9" font-size="9.8" textLength="56.7" lengthAdjust="spacingAndGlyphs">SureChEMBL</text>
</g>
<g>
<clipPath id="c3"><rect x="61.5" y="305.6" width="322.5" height="240.6"/></clipPath>
<g clip-path="url(#c3)">
<rect x="74.9" y="543.9" width="3.3" height="2.3" fill="#ff7f0e" fill-opacity="0.5" stroke="#5a3410" stroke-opacity="0.5" stroke-width="0.5"/>
<rect x="84.4" y="536.9" width="3.4" height="9.3" fill="#ff7f0e" fill-opacity="0.5" stroke="#5a3410" stroke-opacity="0.5" stroke-width="0.5"/>
<rect x="93.5" y="518.9" width="3.1" height="27.3" fill="#ff7f0e" fill-opacity="0.5" stroke="#5a3410" stroke-opacity="0.5" stroke-width="0.5"/>
<rect x="105" y="485.9" width="3.3" height="60.3" fill="#ff7f0e" fill-opacity="0.5" stroke="#5a3410" stroke-opacity="0.5" stroke-width="0.5"/>
<rect x="113.7" y="483.3" width="3.4" height="62.9" fill="#ff7f0e" fill-opacity="0.5" stroke="#5a3410" stroke-opacity="0.5" stroke-width="0.5"/>
<rect x="122.5" y="466.6" width="3.4" height="79.6" fill="#ff7f0e" fill-opacity="0.5" stroke="#5a3410" stroke-opacity="0.5" stroke-width="0.5"/>
<rect x="134.4" y="468.3" width="3.2" height="77.9" fill="#ff7f0e" fill-opacity="0.5" stroke="#5a3410" stroke-opacity="0.5" stroke-width="0.5"/>
<rect x="142.9" y="484.6" width="3.5" height="61.6" fill="#ff7f0e" fill-opacity="0.5" stroke="#5a3410" stroke-opacity="0.5" stroke-width="0.5"/>
<rect x="152" y="506.3" width="3.1" height="39.9" fill="#ff7f0e" fill-opacity="0.5" stroke="#5a3410" stroke-opacity="0.5" stroke-width="0.5"/>
<rect x="163.6" y="507.8" width="3.2" height="38.4" fill="#ff7f0e" fill-opacity="0.5" stroke="#5a3410" stroke-opacity="0.5" stroke-width="0.5"/>
<rect x="172.2" y="521.3" width="3.3" height="24.9" fill="#ff7f0e" fill-opacity="0.5" stroke="#5a3410" stroke-opacity="0.5" stroke-width="0.5"/>
<rect x="181.3" y="531.1" width="3.1" height="15.1" fill="#ff7f0e" fill-opacity="0.5" stroke="#5a3410" stroke-opacity="0.5" stroke-width="0.5"/>
<rect x="192.6" y="531" width="3.3" height="15.2" fill="#ff7f0e" fill-opacity="0.5" stroke="#5a3410" stroke-opacity="0.5" stroke-width="0.5"/>
<rect x="201.6" y="540.2" width="3.2" height="6" fill="#ff7f0e" fill-opacity="0.5" stroke="#5a3410" stroke-opacity="0.5" stroke-width="0.5"/>
<rect x="210.2" y="538.8" width="3.2" height="7.4" fill="#ff7f0e" fill-opacity="0.5" stroke="#5a3410" stroke-opacity="0.5" stroke-width="0.5"/>
<rect x="222.1" y="538.7" width="3.4" height="7.5" fill="#ff7f0e" fill-opacity="0.5" stroke="#5a3410" stroke-opacity="0.5" stroke-width="0.5"/>
<rect x="231.2" y="543.2" width="3.1" height="3" fill="#ff7f0e" fill-opacity="0.5" stroke="#5a3410" stroke-opacity="0.5" stroke-width="0.5"/>
<rect x="240" y="544.1" width="3.1" height="2.1" fill="#ff7f0e" fill-opacity="0.5" stroke="#5a3410" stroke-opacity="0.5" stroke-width="0.5"/>
<rect x="251.3" y="536.8" width="3.4" height="9.4" fill="#ff7f0e" fill-opacity="0.5" stroke="#5a3410" stroke-opacity="0.5" stroke-width="0.5"/>
<rect x="260.3" y="544.2" width="3.1" height="2" fill="#ff7f0e" fill-opacity="0.5" stroke="#5a3410" stroke-opacity="0.5" stroke-width="0.5"/>
<rect x="269.5" y="542.9" width="3.3" height="3.3" fill="#ff7f0e" fill-opacity="0.5" stroke="#5a3410" stroke-opacity="0.5" stroke-width="0.5"/>
<rect x="280.6" y="544.4" width="3.2" height="1.8" fill="#ff7f0e" fill-opacity="0.5" stroke="#5a3410" stroke-opacity="0.5" stroke-width="0.5"/>
<rect x="289.8" y="545" width="3.1" height="1.2" fill="#ff7f0e" fill-opacity="0.5" stroke="#5a3410" stroke-opacity="0.5" stroke-width="0.5"/>
<rect x="311" y="545" width="3.2" height="1.2" fill="#ff7f0e" fill-opacity="0.5" stroke="#5a3410" stroke-opacity="0.5" stroke-width="0.5"/>
<rect x="320.2" y="544.7" width="3.1" height="1.5" fill="#ff7f0e" fill-opacity="0.5" stroke="#5a3410" stroke-opacity="0.5" stroke-width="0.5"/>
<rect x="340" y="544.7" width="3.2" height="1.5" fill="#ff7f0e" fill-opacity="0.5" stroke="#5a3410" stroke-opacity="0.5" stroke-width="0.5"/>
<rect x="366.4" y="544.7" width="3.2" height="1.5" fill="#ff7f0e" fill-opacity="0.5" stroke="#5a3410" stroke-opacity="0.5" stroke-width="0.5"/>
<rect x="93.5" y="545.2" width="3.1" height="1" fill="#1f77b4" fill-opacity="0.5" stroke="#0d2a40" stroke-opacity="0.5" stroke-width="0.5"/>
<rect x="105" y="532.7" width="3.3" height="13.5" fill="#1f77b4" fill-opacity="0.5" stroke="#0d2a40" stroke-opacity="0.5" stroke-width="0.5"/>
<rect x="113.7" y="396.6" width="3.4" height="149.6" fill="#1f77b4" fill-opacity="0.5" stroke="#0d2a40" stroke-opacity="0.5" stroke-width="0.5"/>
<rect x="122.5" y="316.3" width="3.4" height="229.9" fill="#1f77b4" fill-opacity="0.5" stroke="#0d2a40" stroke-opacity="0.5" stroke-width="0.5"/>
<rect x="134.4" y="418.7" width="3.2" height="127.5" fill="#1f77b4" fill-opacity="0.5" stroke="#0d2a40" stroke-opacity="0.5" stroke-width="0.5"/>
<rect x="142.9" y="515.8" width="3.5" height="30.4" fill="#1f77b4" fill-opacity="0.5" stroke="#0d2a40" stroke-opacity="0.5" stroke-width="0.5"/>
<rect x="152" y="537.6" width="3.1" height="8.6" fill="#1f77b4" fill-opacity="0.5" stroke="#0d2a40" stroke-opacity="0.5" stroke-width="0.5"/>
<rect x="163.6" y="545.2" width="3.2" height="1" fill="#1f77b4" fill-opacity="0.5" stroke="#0d2a40" stroke-opacity="0.5" stroke-width="0.5"/>
<polyline points="74.8,545.1 75.31,544.87 75.83,544.65 76.34,544.43 76.86,544.21 77.38,543.99 77.89,543.77 78.41,543.55 78.92,543.34 79.44,543.12 79.95,542.9 80.47,542.68 80.98,542.45 81.49,542.23 82.01,542 82.52,541.76 83.04,541.52 83.55,541.28 84.07,541.02 84.58,540.77 85.1,540.5 85.61,540.23 86.11,539.94 86.62,539.64 87.12,539.34 87.63,539.02 88.13,538.69 88.64,538.36 89.14,538.03 89.65,537.69 90.16,537.35 90.66,537.01 91.17,536.68 91.67,536.35 92.18,536.02 92.68,535.7 93.19,535.39 93.69,535.09 94.2,534.8 94.72,534.51 95.24,534.22 95.75,533.93 96.27,533.64 96.79,533.35 97.31,533.06 97.83,532.78 98.35,532.49 98.86,532.21 99.38,531.94 99.9,531.67 100.42,531.4 100.94,531.14 101.45,530.88 101.97,530.63 102.49,530.39 103.01,530.15 103.53,529.92 104.05,529.7 104.56,529.49 105.08,529.29 105.6,529.1 106.12,528.91 106.64,528.73 107.15,528.54 107.67,528.36 108.19,528.18 108.71,528 109.23,527.82 109.75,527.65 110.26,527.48 110.78,527.32 111.3,527.16 111.82,527.01 112.34,526.86 112.85,526.72 113.37,526.59 113.89,526.47 114.41,526.35 114.93,526.24 115.45,526.14 115.96,526.05 116.48,525.97 117,525.9 117.52,525.84 118.04,525.77 118.55,525.71 119.07,525.65 119.59,525.59 120.11,525.53 120.63,525.48 121.15,525.42 121.66,525.37 122.18,525.32 122.7,525.27 123.22,525.23 123.74,525.19 124.25,525.15 124.77,525.12 125.29,525.09 125.81,525.06 126.33,525.04 126.85,525.02 127.36,525.01 127.88,525 128.4,525 128.91,525 129.43,525.02 129.94,525.04 130.45,525.07 130.97,525.1 131.48,525.14 132,525.19 132.51,525.25 133.02,525.31 133.54,525.37 134.05,525.44 134.56,525.52 135.08,525.6 135.59,525.68 136.1,525.76 136.62,525.85 137.13,525.94 137.65,526.03 138.16,526.12 138.67,526.21 139.19,526.31 139.7,526.4 140.22,526.5 140.74,526.62 141.25,526.74 141.77,526.88 142.29,527.03 142.81,527.18 143.33,527.35 143.85,527.53 144.36,527.71 144.88,527.89 145.4,528.09 145.92,528.28 146.44,528.48 146.95,528.69 147.47,528.89 147.99,529.1 148.51,529.3 149.03,529.51 149.55,529.71 150.06,529.91 150.58,530.11 151.1,530.3 151.62,530.49 152.14,530.69 152.65,530.89 153.17,531.09 153.69,531.29 154.21,531.5 154.73,531.71 155.25,531.92 155.76,532.13 156.28,532.34 156.8,532.55 157.32,532.76 157.84,532.97 158.35,533.18 158.87,533.39 159.39,533.6 159.91,533.81 160.43,534.01 160.95,534.21 161.46,534.41 161.98,534.61 162.5,534.8 163.02,534.99 163.54,535.18 164.05,535.37 164.57,535.57 165.09,535.76 165.61,535.95 166.13,536.14 166.65,536.33 167.16,536.52 167.68,536.71 168.2,536.89 168.72,537.07 169.24,537.25 169.75,537.43 170.27,537.6 170.79,537.77 171.31,537.94 171.83,538.1 172.35,538.26 172.86,538.41 173.38,538.56 173.9,538.7 174.42,538.84 174.94,538.97 175.45,539.11 175.97,539.24 176.49,539.36 177.01,539.49 177.53,539.61 178.05,539.74 178.56,539.86 179.08,539.97 179.6,540.09 180.12,540.2 180.64,540.31 181.15,540.42 181.67,540.52 182.19,540.63 182.71,540.73 183.23,540.83 183.75,540.92 184.26,541.02 184.78,541.11 185.3,541.2 185.82,541.29 186.34,541.38 186.85,541.46 187.37,541.55 187.89,541.63 188.41,541.71 188.93,541.79 189.45,541.87 189.96,541.95 190.48,542.03 191,542.1 191.52,542.17 192.04,542.24 192.55,542.31 193.07,542.38 193.59,542.45 194.11,542.51 194.63,542.57 195.15,542.63 195.66,542.69 196.18,542.75 196.7,542.8 197.22,542.85 197.74,542.9 198.25,542.95 198.77,543 199.29,543.04 199.81,543.09 200.33,543.13 200.85,543.17 201.36,543.22 201.88,543.26 202.4,543.3 202.92,543.33 203.44,543.37 203.95,543.41 204.47,543.45 204.99,543.48 205.51,543.52 206.03,543.56 206.55,543.59 207.06,543.63 207.58,543.66 208.1,543.7 208.62,543.74 209.14,543.77 209.65,543.81 210.17,543.85 210.69,543.88 211.21,543.92 211.73,543.96 212.25,544 212.76,544.03 213.28,544.07 213.8,544.1 214.32,544.14 214.84,544.17 215.35,544.2 215.87,544.23 216.39,544.26 216.91,544.29 217.43,544.32 217.95,544.34 218.46,544.36 218.98,544.38 219.5,544.4 220,544.42 220.5,544.43 221,544.44 221.5,544.46 222,544.47 222.5,544.49 223,544.5 223.5,544.51 224,544.52 224.5,544.54 225,544.55 225.5,544.56 226,544.57 226.5,544.58 227,544.59 227.5,544.6 228,544.61 228.5,544.62 229,544.63 229.5,544.64 230,544.65 230.5,544.66 231,544.67 231.5,544.68 232,544.68 232.5,544.69 233,544.7 233.5,544.71 234,544.72 234.5,544.72 235,544.73 235.5,544.74 236,544.75 236.5,544.75 237,544.76 237.5,544.77 238,544.77 238.5,544.78 239,544.79 239.5,544.79 240,544.8 240.5,544.81 241,544.81 241.5,544.82 242,544.82 242.5,544.83 243,544.84 243.5,544.84 244,544.85 244.5,544.85 245,544.86 245.5,544.86 246,544.87 246.5,544.87 247,544.87 247.5,544.88 248,544.88 248.5,544.89 249,544.89 249.5,544.9 250,544.9 250.5,544.9 251,544.91 251.5,544.91 252,544.92 252.5,544.92 253,544.93 253.5,544.93 254,544.93 254.5,544.94 255,544.94 255.5,544.95 256,544.95 256.5,544.96 257,544.96 257.5,544.97 258,544.98 258.5,544.98 259,544.99 259.5,544.99 260,545 260.5,545.01 261,545.01 261.5,545.02 262,545.03 262.5,545.04 263,545.05 263.5,545.06 264,545.07 264.5,545.08 265,545.09 265.5,545.1 266,545.11 266.5,545.12 267,545.13 267.5,545.15 268,545.16 268.5,545.17 269,545.18 269.5,545.19 270,545.2 270.5,545.22 271,545.23 271.5,545.24 272,545.25 272.5,545.26 273,545.27 273.5,545.29 274,545.3 274.5,545.31 275,545.32 275.5,545.33 276,545.34 276.5,545.35 277,545.36 277.5,545.36 278,545.37 278.5,545.38 279,545.39 279.5,545.39 280,545.4 280.5,545.41 281,545.41 281.5,545.42 282,545.42 282.5,545.43 283,545.43 283.5,545.44 284,545.44 284.5,545.45 285,545.46 285.5,545.46 286,545.47 286.5,545.47 287,545.48 287.5,545.48 288,545.49 288.5,545.49 289,545.5 289.5,545.5 290,545.51 290.5,545.51 291,545.51 291.5,545.52 292,545.52 292.5,545.53 293,545.53 293.5,545.54 294,545.54 294.5,545.55 295,545.55 295.5,545.56 296,545.56 296.5,545.56 297,545.57 297.5,545.57 298,545.58 298.5,545.58 299,545.58 299.5,545.59 300,545.59 300.5,545.59 301,545.6 301.5,545.6 302,545.61 302.5,545.61 303,545.61 303.5,545.62 304,545.62 304.5,545.62 305,545.63 305.5,545.63 306,545.63 306.5,545.64 307,545.64 307.5,545.64 308,545.65 308.5,545.65 309,545.65 309.5,545.65 310,545.66 310.5,545.66 311,545.66 311.5,545.66 312,545.67 312.5,545.67 313,545.67 313.5,545.67 314,545.68 314.5,545.68 315,545.68 315.5,545.68 316,545.69 316.5,545.69 317,545.69 317.5,545.69 318,545.69 318.5,545.69 319,545.7 319.5,545.7 320,545.7 320.5,545.7 321,545.7 321.5,545.7 322,545.71 322.5,545.71 323,545.71 323.5,545.71 324,545.71 324.5,545.71 325,545.72 325.5,545.72 326,545.72 326.5,545.72 327,545.72 327.5,545.72 328,545.72 328.5,545.72 329,545.73 329.5,545.73 330,545.73 330.5,545.73 331,545.73 331.5,545.73 332,545.73 332.5,545.73 333,545.73 333.5,545.74 334,545.74 334.5,545.74 335,545.74 335.5,545.74 336,545.74 336.5,545.74 337,545.74 337.5,545.74 338,545.75 338.5,545.75 339,545.75 339.5,545.75 340,545.75 340.5,545.75 341,545.75 341.5,545.75 342,545.75 342.5,545.75 343,545.75 343.5,545.76 344,545.76 344.5,545.76 345,545.76 345.5,545.76 346,545.76 346.5,545.76 347,545.76 347.5,545.76 348,545.76 348.5,545.76 349,545.76 349.5,545.77 350,545.77 350.5,545.77 351,545.77 351.5,545.77 352,545.77 352.5,545.77 353,545.77 353.5,545.77 354,545.77 354.5,545.77 355,545.77 355.5,545.78 356,545.78 356.5,545.78 357,545.78 357.5,545.78 358,545.78 358.5,545.78 359,545.78 359.5,545.78 360,545.78 360.5,545.78 361,545.78 361.5,545.79 362,545.79 362.5,545.79 363,545.79 363.5,545.79 364,545.79 364.5,545.79 365,545.79 365.5,545.79 366,545.79 366.5,545.79 367,545.8 367.5,545.8 368,545.8 368.5,545.8 369,545.8 369.5,545.8" fill="none" stroke="#ff7f0e" stroke-width="1.65" stroke-linejoin="round" stroke-linecap="round"/>
<polyline points="74.9,546.2 75.4,546.2 75.9,546.2 76.41,546.2 76.91,546.2 77.41,546.2 77.91,546.2 78.42,546.2 78.92,546.2 79.42,546.2 79.92,546.2 80.43,546.2 80.93,546.2 81.43,546.2 81.93,546.2 82.43,546.2 82.94,546.2 83.44,546.2 83.94,546.2 84.44,546.2 84.95,546.2 85.45,546.2 85.95,546.2 86.45,546.2 86.96,546.2 87.46,546.2 87.96,546.2 88.46,546.2 88.97,546.2 89.47,546.2 89.97,546.2 90.47,546.2 90.97,546.2 91.48,546.2 91.98,546.2 92.48,546.2 92.98,546.2 93.49,546.2 93.99,546.2 94.49,546.2 94.99,546.2 95.5,546.2 96,546.2 96.5,546.2 97,546.15 97.5,546.02 98,545.83 98.5,545.58 99,545.3 99.5,545 100,544.7 100.55,544.33 101.1,543.87 101.65,543.36 102.2,542.8 102.77,542.22 103.33,541.63 103.9,540.98 104.47,540.22 105.03,539.31 105.6,538.2 106.17,536.51 106.73,534.01 107.3,530.91 107.87,527.41 108.43,523.71 109,520 109.57,515.78 110.13,510.76 110.7,505.43 111.27,500.3 111.83,495.89 112.4,492.7 112.94,490.4 113.48,488.23 114.02,486.41 114.56,485.16 115.1,484.7 115.67,486.77 116.25,491.65 116.83,497.33 117.4,501.8 117.98,505.19 118.55,508.5 119.12,511.01 119.7,512 120.28,509.62 120.85,503.65 121.42,495.89 122,488.1 122.5,479.95 123,469.58 123.5,459.3 124,451.44 124.5,448.3 125,449.86 125.5,453.88 126,459.39 126.5,465.4 127.13,476.76 127.77,491.2 128.4,501.8 128.95,507.23 129.5,511.97 130.05,515.33 130.6,516.6 131.18,514.9 131.75,510.82 132.32,505.94 132.9,501.8 133.5,497.94 134.1,494.31 134.7,492.7 135.27,494.03 135.85,497.37 136.43,501.78 137,506.3 137.54,511.52 138.08,518.24 138.62,525.1 139.16,530.71 139.7,533.7 140.27,534.9 140.85,535.85 141.43,536.48 142,536.7 142.56,535.8 143.12,533.64 143.68,531.06 144.24,528.9 144.8,528 145.4,530.23 146,534.72 146.6,538.2 147.2,540.03 147.8,541.63 148.4,542.77 149,543.2 149.53,543.17 150.05,543.09 150.57,542.96 151.1,542.8 151.68,542.16 152.25,541 152.82,539.9 153.4,539.4 153.97,540.01 154.55,541.4 155.12,542.92 155.7,543.9 156.21,544.32 156.72,544.72 157.23,545.08 157.74,545.4 158.26,545.67 158.77,545.89 159.28,546.06 159.79,546.16 160.3,546.2 160.8,546.2 161.3,546.2 161.8,546.2 162.3,546.2 162.8,546.2 163.3,546.2 163.8,546.2 164.3,546.2 164.8,546.2 165.3,546.2 165.81,546.2 166.31,546.2 166.81,546.2 167.31,546.2 167.81,546.2 168.31,546.2 168.81,546.2 169.31,546.2 169.81,546.2 170.31,546.2 170.81,546.2 171.31,546.2 171.81,546.2 172.31,546.2 172.81,546.2 173.31,546.2 173.81,546.2 174.31,546.2 174.81,546.2 175.31,546.2 175.81,546.2 176.32,546.2 176.82,546.2 177.32,546.2 177.82,546.2 178.32,546.2 178.82,546.2 179.32,546.2 179.82,546.2 180.32,546.2 180.82,546.2 181.32,546.2 181.82,546.2 182.32,546.2 182.82,546.2 183.32,546.2 183.82,546.2 184.32,546.2 184.82,546.2 185.32,546.2 185.82,546.2 186.32,546.2 186.83,546.2 187.33,546.2 187.83,546.2 188.33,546.2 188.83,546.2 189.33,546.2 189.83,546.2 190.33,546.2 190.83,546.2 191.33,546.2 191.83,546.2 192.33,546.2 192.83,546.2 193.33,546.2 193.83,546.2 194.33,546.2 194.83,546.2 195.33,546.2 195.83,546.2 196.33,546.2 196.83,546.2 197.34,546.2 197.84,546.2 198.34,546.2 198.84,546.2 199.34,546.2 199.84,546.2 200.34,546.2 200.84,546.2 201.34,546.2 201.84,546.2 202.34,546.2 202.84,546.2 203.34,546.2 203.84,546.2 204.34,546.2 204.84,546.2 205.34,546.2 205.84,546.2 206.34,546.2 206.84,546.2 207.34,546.2 207.85,546.2 208.35,546.2 208.85,546.2 209.35,546.2 209.85,546.2 210.35,546.2 210.85,546.2 211.35,546.2 211.85,546.2 212.35,546.2 212.85,546.2 213.35,546.2 213.85,546.2 214.35,546.2 214.85,546.2 215.35,546.2 215.85,546.2 216.35,546.2 216.85,546.2 217.35,546.2 217.86,546.2 218.36,546.2 218.86,546.2 219.36,546.2 219.86,546.2 220.36,546.2 220.86,546.2 221.36,546.2 221.86,546.2 222.36,546.2 222.86,546.2 223.36,546.2 223.86,546.2 224.36,546.2 224.86,546.2 225.36,546.2 225.86,546.2 226.36,546.2 226.86,546.2 227.36,546.2 227.86,546.2 228.37,546.2 228.87,546.2 229.37,546.2 229.87,546.2 230.37,546.2 230.87,546.2 231.37,546.2 231.87,546.2 232.37,546.2 232.87,546.2 233.37,546.2 233.87,546.2 234.37,546.2 234.87,546.2 235.37,546.2 235.87,546.2 236.37,546.2 236.87,546.2 237.37,546.2 237.87,546.2 238.37,546.2 238.88,546.2 239.38,546.2 239.88,546.2 240.38,546.2 240.88,546.2 241.38,546.2 241.88,546.2 242.38,546.2 242.88,546.2 243.38,546.2 243.88,546.2 244.38,546.2 244.88,546.2 245.38,546.2 245.88,546.2 246.38,546.2 246.88,546.2 247.38,546.2 247.88,546.2 248.38,546.2 248.88,546.2 249.39,546.2 249.89,546.2 250.39,546.2 250.89,546.2 251.39,546.2 251.89,546.2 252.39,546.2 252.89,546.2 253.39,546.2 253.89,546.2 254.39,546.2 254.89,546.2 255.39,546.2 255.89,546.2 256.39,546.2 256.89,546.2 257.39,546.2 257.89,546.2 258.39,546.2 258.89,546.2 259.39,546.2 259.9,546.2 260.4,546.2 260.9,546.2 261.4,546.2 261.9,546.2 262.4,546.2 262.9,546.2 263.4,546.2 263.9,546.2 264.4,546.2 264.9,546.2 265.4,546.2 265.9,546.2 266.4,546.2 266.9,546.2 267.4,546.2 267.9,546.2 268.4,546.2 268.9,546.2 269.4,546.2 269.9,546.2 270.41,546.2 270.91,546.2 271.41,546.2 271.91,546.2 272.41,546.2 272.91,546.2 273.41,546.2 273.91,546.2 274.41,546.2 274.91,546.2 275.41,546.2 275.91,546.2 276.41,546.2 276.91,546.2 277.41,546.2 277.91,546.2 278.41,546.2 278.91,546.2 279.41,546.2 279.91,546.2 280.41,546.2 280.92,546.2 281.42,546.2 281.92,546.2 282.42,546.2 282.92,546.2 283.42,546.2 283.92,546.2 284.42,546.2 284.92,546.2 285.42,546.2 285.92,546.2 286.42,546.2 286.92,546.2 287.42,546.2 287.92,546.2 288.42,546.2 288.92,546.2 289.42,546.2 289.92,546.2 290.42,546.2 290.92,546.2 291.43,546.2 291.93,546.2 292.43,546.2 292.93,546.2 293.43,546.2 293.93,546.2 294.43,546.2 294.93,546.2 295.43,546.2 295.93,546.2 296.43,546.2 296.93,546.2 297.43,546.2 297.93,546.2 298.43,546.2 298.93,546.2 299.43,546.2 299.93,546.2 300.43,546.2 300.93,546.2 301.43,546.2 301.94,546.2 302.44,546.2 302.94,546.2 303.44,546.2 303.94,546.2 304.44,546.2 304.94,546.2 305.44,546.2 305.94,546.2 306.44,546.2 306.94,546.2 307.44,546.2 307.94,546.2 308.44,546.2 308.94,546.2 309.44,546.2 309.94,546.2 310.44,546.2 310.94,546.2 311.44,546.2 311.94,546.2 312.45,546.2 312.95,546.2 313.45,546.2 313.95,546.2 314.45,546.2 314.95,546.2 315.45,546.2 315.95,546.2 316.45,546.2 316.95,546.2 317.45,546.2 317.95,546.2 318.45,546.2 318.95,546.2 319.45,546.2 319.95,546.2 320.45,546.2 320.95,546.2 321.45,546.2 321.95,546.2 322.46,546.2 322.96,546.2 323.46,546.2 323.96,546.2 324.46,546.2 324.96,546.2 325.46,546.2 325.96,546.2 326.46,546.2 326.96,546.2 327.46,546.2 327.96,546.2 328.46,546.2 328.96,546.2 329.46,546.2 329.96,546.2 330.46,546.2 330.96,546.2 331.46,546.2 331.96,546.2 332.46,546.2 332.97,546.2 333.47,546.2 333.97,546.2 334.47,546.2 334.97,546.2 335.47,546.2 335.97,546.2 336.47,546.2 336.97,546.2 337.47,546.2 337.97,546.2 338.47,546.2 338.97,546.2 339.47,546.2 339.97,546.2 340.47,546.2 340.97,546.2 341.47,546.2 341.97,546.2 342.47,546.2 342.97,546.2 343.48,546.2 343.98,546.2 344.48,546.2 344.98,546.2 345.48,546.2 345.98,546.2 346.48,546.2 346.98,546.2 347.48,546.2 347.98,546.2 348.48,546.2 348.98,546.2 349.48,546.2 349.98,546.2 350.48,546.2 350.98,546.2 351.48,546.2 351.98,546.2 352.48,546.2 352.98,546.2 353.48,546.2 353.99,546.2 354.49,546.2 354.99,546.2 355.49,546.2 355.99,546.2 356.49,546.2 356.99,546.2 357.49,546.2 357.99,546.2 358.49,546.2 358.99,546.2 359.49,546.2 359.99,546.2 360.49,546.2 360.99,546.2 361.49,546.2 361.99,546.2 362.49,546.2 362.99,546.2 363.49,546.2 363.99,546.2 364.5,546.2 365,546.2 365.5,546.2 366,546.2 366.5,546.2 367,546.2 367.5,546.2 368,546.2 368.5,546.2 369,546.2 369.5,546.2" fill="none" stroke="#1f77b4" stroke-width="1.65" stroke-linejoin="round" stroke-linecap="round"/>
</g>
<rect x="61.5" y="305.6" width="322.5" height="240.6" fill="none" stroke="#555555" stroke-width="1.3"/>
<line x1="66.4" y1="546.2" x2="66.4" y2="549.6" stroke="#2a2a2a" stroke-width="1"/>
<text x="66.4" y="560.5" text-anchor="middle" font-size="11.6">0</text>
<line x1="115.22" y1="546.2" x2="115.22" y2="549.6" stroke="#2a2a2a" stroke-width="1"/>
<text x="115.22" y="560.5" text-anchor="middle" font-size="11.6">5</text>
<line x1="164.03" y1="546.2" x2="164.03" y2="549.6" stroke="#2a2a2a" stroke-width="1"/>
<text x="164.03" y="560.5" text-anchor="middle" font-size="11.6">10</text>
<line x1="212.85" y1="546.2" x2="212.85" y2="549.6" stroke="#2a2a2a" stroke-width="1"/>
<text x="212.85" y="560.5" text-anchor="middle" font-size="11.6">15</text>
<line x1="261.67" y1="546.2" x2="261.67" y2="549.6" stroke="#2a2a2a" stroke-width="1"/>
<text x="261.67" y="560.5" text-anchor="middle" font-size="11.6">20</text>
<line x1="310.48" y1="546.2" x2="310.48" y2="549.6" stroke="#2a2a2a" stroke-width="1"/>
<text x="310.48" y="560.5" text-anchor="middle" font-size="11.6">25</text>
<line x1="359.3" y1="546.2" x2="359.3" y2="549.6" stroke="#2a2a2a" stroke-width="1"/>
<text x="359.3" y="560.5" text-anchor="middle" font-size="11.6">30</text>
<line x1="58.1" y1="546.2" x2="61.5" y2="546.2" stroke="#2a2a2a" stroke-width="1"/>
<text x="54.1" y="550.2" text-anchor="end" font-size="11.6">0</text>
<line x1="58.1" y1="518.31" x2="61.5" y2="518.31" stroke="#2a2a2a" stroke-width="1"/>
<text x="54.1" y="522.31" text-anchor="end" font-size="11.6">25</text>
<line x1="58.1" y1="490.43" x2="61.5" y2="490.43" stroke="#2a2a2a" stroke-width="1"/>
<text x="54.1" y="494.43" text-anchor="end" font-size="11.6">50</text>
<line x1="58.1" y1="462.54" x2="61.5" y2="462.54" stroke="#2a2a2a" stroke-width="1"/>
<text x="54.1" y="466.54" text-anchor="end" font-size="11.6">75</text>
<line x1="58.1" y1="434.65" x2="61.5" y2="434.65" stroke="#2a2a2a" stroke-width="1"/>
<text x="54.1" y="438.65" text-anchor="end" font-size="11.6">100</text>
<line x1="58.1" y1="406.76" x2="61.5" y2="406.76" stroke="#2a2a2a" stroke-width="1"/>
<text x="54.1" y="410.76" text-anchor="end" font-size="11.6">125</text>
<line x1="58.1" y1="378.88" x2="61.5" y2="378.88" stroke="#2a2a2a" stroke-width="1"/>
<text x="54.1" y="382.88" text-anchor="end" font-size="11.6">150</text>
<line x1="58.1" y1="350.99" x2="61.5" y2="350.99" stroke="#2a2a2a" stroke-width="1"/>
<text x="54.1" y="354.99" text-anchor="end" font-size="11.6">175</text>
<line x1="58.1" y1="323.1" x2="61.5" y2="323.1" stroke="#2a2a2a" stroke-width="1"/>
<text x="54.1" y="327.1" text-anchor="end" font-size="11.6">200</text>
<text x="222.75" y="577.1" text-anchor="middle" font-size="15.4" textLength="30.5" lengthAdjust="spacingAndGlyphs">HBA</text>
<text transform="translate(27.4 425.9) rotate(-90)" x="0" y="0" text-anchor="middle" font-size="15.8" textLength="119.4" lengthAdjust="spacingAndGlyphs">No. of molecules</text>
<rect x="289.4" y="310.1" width="90.3" height="43.7" rx="2" ry="2" fill="#fff" fill-opacity="0.8" stroke="#d6d6d6" stroke-width="0.9"/>
<text x="306.9" y="320.2" font-size="9.2" textLength="54.3" lengthAdjust="spacingAndGlyphs">obj_function</text>
<rect x="292.8" y="327.6" width="18.2" height="6.6" fill="#8fbbd9" stroke="#1e2a33" stroke-width="1.1"/>
<rect x="292.8" y="341.2" width="18.2" height="6.6" fill="#ffbf86" stroke="#33291f" stroke-width="1.1"/>
<text x="318.4" y="333.9" font-size="9.8" textLength="53.9" lengthAdjust="spacingAndGlyphs">New SMILES</text>
<text x="318.4" y="347.5" font-size="9.8" textLength="56.7" lengthAdjust="spacingAndGlyphs">SureChEMBL</text>
</g>
<g>
<clipPath id="c4"><rect x="454" y="305.6" width="323" height="240.7"/></clipPath>
<g clip-path="url(#c4)">
<rect x="468.3" y="513.8" width="3.3" height="32.5" fill="#ff7f0e" fill-opacity="0.5" stroke="#5a3410" stroke-opacity="0.5" stroke-width="0.5"/>
<rect x="483" y="486.2" width="3.6" height="60.1" fill="#ff7f0e" fill-opacity="0.5" stroke="#5a3410" stroke-opacity="0.5" stroke-width="0.5"/>
<rect x="497.4" y="472.9" width="3.4" height="73.4" fill="#ff7f0e" fill-opacity="0.5" stroke="#5a3410" stroke-opacity="0.5" stroke-width="0.5"/>
<rect x="512" y="490.5" width="3.6" height="55.8" fill="#ff7f0e" fill-opacity="0.5" stroke="#5a3410" stroke-opacity="0.5" stroke-width="0.5"/>
<rect x="526.7" y="523.2" width="3.4" height="23.1" fill="#ff7f0e" fill-opacity="0.5" stroke="#5a3410" stroke-opacity="0.5" stroke-width="0.5"/>
<rect x="541.3" y="536.1" width="3.4" height="10.2" fill="#ff7f0e" fill-opacity="0.5" stroke="#5a3410" stroke-opacity="0.5" stroke-width="0.5"/>
<rect x="556.1" y="538.5" width="3.5" height="7.8" fill="#ff7f0e" fill-opacity="0.5" stroke="#5a3410" stroke-opacity="0.5" stroke-width="0.5"/>
<rect x="570.6" y="542" width="3.4" height="4.3" fill="#ff7f0e" fill-opacity="0.5" stroke="#5a3410" stroke-opacity="0.5" stroke-width="0.5"/>
<rect x="585.4" y="544.8" width="3.4" height="1.5" fill="#ff7f0e" fill-opacity="0.5" stroke="#5a3410" stroke-opacity="0.5" stroke-width="0.5"/>
<rect x="600.3" y="543.7" width="3.3" height="2.6" fill="#ff7f0e" fill-opacity="0.5" stroke="#5a3410" stroke-opacity="0.5" stroke-width="0.5"/>
<rect x="614.85" y="545.5" width="3.4" height="0.8" fill="#ff7f0e" fill-opacity="0.5" stroke="#5a3410" stroke-opacity="0.5" stroke-width="0.5"/>
<rect x="629.5" y="545.7" width="3.4" height="0.6" fill="#ff7f0e" fill-opacity="0.5" stroke="#5a3410" stroke-opacity="0.5" stroke-width="0.5"/>
<rect x="658.78" y="545.7" width="3.4" height="0.6" fill="#ff7f0e" fill-opacity="0.5" stroke="#5a3410" stroke-opacity="0.5" stroke-width="0.5"/>
<rect x="673.43" y="545.8" width="3.4" height="0.5" fill="#ff7f0e" fill-opacity="0.5" stroke="#5a3410" stroke-opacity="0.5" stroke-width="0.5"/>
<rect x="688.07" y="545.8" width="3.4" height="0.5" fill="#ff7f0e" fill-opacity="0.5" stroke="#5a3410" stroke-opacity="0.5" stroke-width="0.5"/>
<rect x="483" y="316.2" width="3.6" height="230.1" fill="#1f77b4" fill-opacity="0.5" stroke="#0d2a40" stroke-opacity="0.5" stroke-width="0.5"/>
<rect x="497.4" y="504.1" width="3.4" height="42.2" fill="#1f77b4" fill-opacity="0.5" stroke="#0d2a40" stroke-opacity="0.5" stroke-width="0.5"/>
<polyline points="468.9,542.3 469.41,541.96 469.91,541.61 470.42,541.25 470.93,540.89 471.43,540.53 471.94,540.16 472.45,539.8 472.95,539.44 473.46,539.09 473.97,538.75 474.47,538.42 474.98,538.11 475.49,537.82 475.99,537.55 476.5,537.3 477.01,537.06 477.53,536.83 478.04,536.6 478.56,536.37 479.07,536.15 479.59,535.94 480.1,535.73 480.61,535.52 481.13,535.32 481.64,535.13 482.16,534.94 482.67,534.76 483.19,534.59 483.7,534.43 484.21,534.27 484.73,534.12 485.24,533.98 485.76,533.85 486.27,533.72 486.79,533.61 487.3,533.5 487.81,533.4 488.31,533.3 488.82,533.2 489.32,533.1 489.83,533 490.34,532.91 490.84,532.82 491.35,532.73 491.85,532.65 492.36,532.57 492.86,532.51 493.37,532.45 493.88,532.4 494.38,532.36 494.89,532.33 495.39,532.31 495.9,532.3 496.41,532.31 496.91,532.33 497.42,532.37 497.92,532.42 498.43,532.48 498.94,532.56 499.44,532.64 499.95,532.74 500.45,532.84 500.96,532.95 501.46,533.06 501.97,533.18 502.48,533.3 502.98,533.43 503.49,533.55 503.99,533.68 504.5,533.8 505.01,533.93 505.51,534.08 506.02,534.24 506.52,534.42 507.03,534.61 507.54,534.81 508.04,535.02 508.55,535.24 509.05,535.46 509.56,535.69 510.06,535.92 510.57,536.15 511.08,536.39 511.58,536.62 512.09,536.85 512.59,537.08 513.1,537.3 513.61,537.52 514.11,537.76 514.62,538 515.12,538.25 515.63,538.5 516.14,538.76 516.64,539.02 517.15,539.27 517.65,539.53 518.16,539.78 518.66,540.03 519.17,540.27 519.68,540.5 520.18,540.72 520.69,540.93 521.19,541.12 521.7,541.3 522.21,541.47 522.71,541.64 523.22,541.8 523.72,541.97 524.23,542.12 524.74,542.28 525.24,542.43 525.75,542.57 526.25,542.71 526.76,542.85 527.26,542.98 527.77,543.1 528.28,543.21 528.78,543.32 529.29,543.42 529.79,543.52 530.3,543.6 530.81,543.68 531.33,543.76 531.84,543.84 532.36,543.91 532.87,543.98 533.39,544.05 533.9,544.12 534.41,544.18 534.93,544.24 535.44,544.3 535.96,544.36 536.47,544.41 536.99,544.46 537.5,544.51 538.01,544.56 538.53,544.61 539.04,544.65 539.56,544.69 540.07,544.73 540.59,544.77 541.1,544.8 541.6,544.83 542.1,544.86 542.6,544.89 543.1,544.93 543.6,544.96 544.1,544.99 544.6,545.02 545.1,545.05 545.6,545.07 546.1,545.1 546.6,545.13 547.1,545.16 547.6,545.19 548.1,545.21 548.6,545.24 549.1,545.26 549.6,545.29 550.1,545.31 550.6,545.34 551.1,545.36 551.6,545.38 552.1,545.41 552.6,545.43 553.1,545.45 553.6,545.47 554.1,545.49 554.6,545.51 555.1,545.52 555.6,545.54 556.1,545.56 556.6,545.57 557.1,545.59 557.6,545.6 558.1,545.62 558.6,545.63 559.1,545.64 559.6,545.65 560.1,545.66 560.6,545.67 561.1,545.68 561.6,545.69 562.1,545.69 562.6,545.7 563.11,545.71 563.61,545.71 564.12,545.71 564.62,545.72 565.13,545.72 565.63,545.73 566.14,545.73 566.64,545.74 567.15,545.74 567.65,545.75 568.16,545.75 568.66,545.75 569.17,545.76 569.68,545.76 570.18,545.76 570.69,545.77 571.19,545.77 571.7,545.78 572.2,545.78 572.71,545.78 573.21,545.78 573.72,545.79 574.22,545.79 574.73,545.79 575.24,545.8 575.74,545.8 576.25,545.8 576.75,545.8 577.26,545.81 577.76,545.81 578.27,545.81 578.77,545.81 579.28,545.82 579.78,545.82 580.29,545.82 580.79,545.82 581.3,545.83 581.81,545.83 582.31,545.83 582.82,545.83 583.32,545.83 583.83,545.84 584.33,545.84 584.84,545.84 585.34,545.84 585.85,545.84 586.35,545.85 586.86,545.85 587.36,545.85 587.87,545.85 588.38,545.85 588.88,545.86 589.39,545.86 589.89,545.86 590.4,545.86 590.9,545.86 591.41,545.87 591.91,545.87 592.42,545.87 592.92,545.87 593.43,545.87 593.94,545.87 594.44,545.88 594.95,545.88 595.45,545.88 595.96,545.88 596.46,545.88 596.97,545.89 597.47,545.89 597.98,545.89 598.48,545.89 598.99,545.9 599.49,545.9 600,545.9 600.5,545.9 601,545.9 601.5,545.91 602,545.91 602.5,545.91 603,545.91 603.5,545.92 604,545.92 604.5,545.92 605,545.92 605.5,545.93 606,545.93 606.5,545.93 607,545.93 607.5,545.94 608,545.94 608.5,545.94 609,545.94 609.5,545.95 610,545.95 610.5,545.95 611,545.95 611.5,545.96 612,545.96 612.5,545.96 613,545.96 613.5,545.96 614,545.97 614.5,545.97 615,545.97 615.5,545.97 616,545.98 616.5,545.98 617,545.98 617.5,545.98 618,545.99 618.5,545.99 619,545.99 619.5,545.99 620,546 620.5,546 621,546 621.5,546 622,546.01 622.5,546.01 623,546.01 623.5,546.01 624,546.01 624.5,546.02 625,546.02 625.5,546.02 626,546.02 626.5,546.03 627,546.03 627.5,546.03 628,546.03 628.5,546.03 629,546.04 629.5,546.04 630,546.04 630.5,546.04 631,546.04 631.5,546.05 632,546.05 632.5,546.05 633,546.05 633.5,546.05 634,546.06 634.5,546.06 635,546.06 635.5,546.06 636,546.06 636.5,546.06 637,546.07 637.5,546.07 638,546.07 638.5,546.07 639,546.07 639.5,546.07 640,546.08 640.5,546.08 641,546.08 641.5,546.08 642,546.08 642.5,546.08 643,546.08 643.5,546.09 644,546.09 644.5,546.09 645,546.09 645.5,546.09 646,546.09 646.5,546.09 647,546.09 647.5,546.1 648,546.1 648.5,546.1 649,546.1 649.5,546.1 650,546.1 650.5,546.1 651,546.1 651.5,546.1 652.01,546.1 652.51,546.1 653.01,546.1 653.51,546.11 654.01,546.11 654.51,546.11 655.01,546.11 655.51,546.11 656.02,546.11 656.52,546.11 657.02,546.11 657.52,546.11 658.02,546.11 658.52,546.11 659.02,546.11 659.53,546.11 660.03,546.11 660.53,546.12 661.03,546.12 661.53,546.12 662.03,546.12 662.53,546.12 663.03,546.12 663.54,546.12 664.04,546.12 664.54,546.12 665.04,546.12 665.54,546.12 666.04,546.12 666.54,546.12 667.05,546.12 667.55,546.12 668.05,546.12 668.55,546.13 669.05,546.13 669.55,546.13 670.05,546.13 670.56,546.13 671.06,546.13 671.56,546.13 672.06,546.13 672.56,546.13 673.06,546.13 673.56,546.13 674.06,546.13 674.57,546.13 675.07,546.13 675.57,546.13 676.07,546.13 676.57,546.13 677.07,546.14 677.57,546.14 678.08,546.14 678.58,546.14 679.08,546.14 679.58,546.14 680.08,546.14 680.58,546.14 681.08,546.14 681.58,546.14 682.09,546.14 682.59,546.14 683.09,546.14 683.59,546.14 684.09,546.14 684.59,546.14 685.09,546.14 685.6,546.14 686.1,546.14 686.6,546.14 687.1,546.14 687.6,546.15 688.1,546.15 688.6,546.15 689.1,546.15 689.61,546.15 690.11,546.15 690.61,546.15 691.11,546.15 691.61,546.15 692.11,546.15 692.61,546.15 693.12,546.15 693.62,546.15 694.12,546.15 694.62,546.15 695.12,546.15 695.62,546.15 696.12,546.15 696.63,546.15 697.13,546.15 697.63,546.15 698.13,546.15 698.63,546.15 699.13,546.15 699.63,546.16 700.13,546.16 700.64,546.16 701.14,546.16 701.64,546.16 702.14,546.16 702.64,546.16 703.14,546.16 703.64,546.16 704.15,546.16 704.65,546.16 705.15,546.16 705.65,546.16 706.15,546.16 706.65,546.16 707.15,546.16 707.65,546.16 708.16,546.16 708.66,546.16 709.16,546.16 709.66,546.16 710.16,546.16 710.66,546.16 711.16,546.16 711.67,546.16 712.17,546.16 712.67,546.16 713.17,546.16 713.67,546.17 714.17,546.17 714.67,546.17 715.17,546.17 715.68,546.17 716.18,546.17 716.68,546.17 717.18,546.17 717.68,546.17 718.18,546.17 718.68,546.17 719.19,546.17 719.69,546.17 720.19,546.17 720.69,546.17 721.19,546.17 721.69,546.17 722.19,546.17 722.7,546.17 723.2,546.17 723.7,546.17 724.2,546.17 724.7,546.17 725.2,546.17 725.7,546.17 726.2,546.17 726.71,546.17 727.21,546.17 727.71,546.17 728.21,546.17 728.71,546.18 729.21,546.18 729.71,546.18 730.22,546.18 730.72,546.18 731.22,546.18 731.72,546.18 732.22,546.18 732.72,546.18 733.22,546.18 733.72,546.18 734.23,546.18 734.73,546.18 735.23,546.18 735.73,546.18 736.23,546.18 736.73,546.18 737.23,546.18 737.74,546.18 738.24,546.18 738.74,546.18 739.24,546.18 739.74,546.18 740.24,546.18 740.74,546.18 741.24,546.18 741.75,546.18 742.25,546.18 742.75,546.18 743.25,546.19 743.75,546.19 744.25,546.19 744.75,546.19 745.26,546.19 745.76,546.19 746.26,546.19 746.76,546.19 747.26,546.19 747.76,546.19 748.26,546.19 748.77,546.19 749.27,546.19 749.77,546.19 750.27,546.19 750.77,546.19 751.27,546.19 751.77,546.19 752.27,546.19 752.78,546.19 753.28,546.19 753.78,546.19 754.28,546.19 754.78,546.19 755.28,546.19 755.78,546.19 756.29,546.2 756.79,546.2 757.29,546.2 757.79,546.2 758.29,546.2 758.79,546.2 759.29,546.2 759.79,546.2 760.3,546.2 760.8,546.2 761.3,546.2 761.8,546.2" fill="none" stroke="#ff7f0e" stroke-width="1.65" stroke-linejoin="round" stroke-linecap="round"/>
<polyline points="468.9,546.3 469.2,546.3 469.5,546.3 469.8,546.3 470.1,546.3 470.4,546.3 470.7,546.3 471,546.3 471.3,546.3 471.6,546.3 471.9,546.3 472.2,546.3 472.5,546.3 472.8,546.3 473.1,546.3 473.4,546.3 473.7,546.3 474,546.3 474.3,546.3 474.6,546.3 474.9,546.3 475.2,546.3 475.5,546.3 475.8,546.3 476.1,546.3 476.4,546.3 476.7,546.3 477,546.3 477.3,546.3 477.6,546.3 477.9,546.3 478.2,545.34 478.5,544.61 478.8,543.41 479.1,541.54 479.4,538.69 479.7,534.54 480,528.72 480.3,520.86 480.6,510.7 480.9,498.1 481.2,483.17 481.5,466.29 481.8,448.2 482.1,429.92 482.4,412.74 482.7,398 483,386.99 483.3,380.72 483.6,379.81 483.9,384.33 484.2,393.85 484.5,407.49 484.8,424.01 485.1,442.07 485.4,460.35 485.7,477.73 486,493.37 486.3,506.77 486.6,517.74 486.9,526.34 487.2,532.8 487.5,537.47 487.8,540.71 488.1,542.88 488.4,544.27 488.7,545.14 489,545.66 489.3,546.3 489.6,546.3 489.9,546.3 490.2,546.3 490.5,546.3 490.8,546.3 491.1,546.3 491.4,546.3 491.7,546.3 492,546.3 492.3,546.3 492.6,546.3 492.9,546.3 493.2,546.3 493.5,546.3 493.8,545.49 494.1,545.03 494.4,544.36 494.7,543.44 495,542.21 495.3,540.63 495.6,538.68 495.9,536.37 496.2,533.76 496.5,530.94 496.8,528.07 497.1,525.33 497.4,522.92 497.7,521.02 498,519.82 498.3,519.4 498.6,519.82 498.9,521.02 499.2,522.92 499.5,525.33 499.8,528.07 500.1,530.94 500.4,533.76 500.7,536.37 501,538.68 501.3,540.63 501.6,542.21 501.9,543.44 502.2,544.36 502.5,545.03 502.8,545.49 503.1,546.3 503.4,546.3 503.7,546.3 504,546.3 504.3,546.3 504.6,546.3 504.9,546.3 505.2,546.3 505.5,546.3 505.8,546.3 506.1,546.3 506.4,546.3 506.7,546.3 507,546.3 507.3,546.3 507.6,546.3 507.9,546.3 508.2,546.3 508.5,546.3 508.8,546.3 509.1,546.3 509.4,546.3 509.7,546.3 510,546.3 510.3,546.3 510.6,546.3 510.9,546.3 511.2,546.3 511.5,546.3 511.8,546.3 512.3,546.3 512.8,546.3 513.3,546.3 513.8,546.3 514.31,546.3 514.81,546.3 515.31,546.3 515.81,546.3 516.31,546.3 516.81,546.3 517.31,546.3 517.81,546.3 518.31,546.3 518.81,546.3 519.32,546.3 519.82,546.3 520.32,546.3 520.82,546.3 521.32,546.3 521.82,546.3 522.32,546.3 522.82,546.3 523.32,546.3 523.82,546.3 524.33,546.3 524.83,546.3 525.33,546.3 525.83,546.3 526.33,546.3 526.83,546.3 527.33,546.3 527.83,546.3 528.33,546.3 528.83,546.3 529.34,546.3 529.84,546.3 530.34,546.3 530.84,546.3 531.34,546.3 531.84,546.3 532.34,546.3 532.84,546.3 533.34,546.3 533.84,546.3 534.35,546.3 534.85,546.3 535.35,546.3 535.85,546.3 536.35,546.3 536.85,546.3 537.35,546.3 537.85,546.3 538.35,546.3 538.85,546.3 539.36,546.3 539.86,546.3 540.36,546.3 540.86,546.3 541.36,546.3 541.86,546.3 542.36,546.3 542.86,546.3 543.36,546.3 543.86,546.3 544.37,546.3 544.87,546.3 545.37,546.3 545.87,546.3 546.37,546.3 546.87,546.3 547.37,546.3 547.87,546.3 548.37,546.3 548.87,546.3 549.38,546.3 549.88,546.3 550.38,546.3 550.88,546.3 551.38,546.3 551.88,546.3 552.38,546.3 552.88,546.3 553.38,546.3 553.88,546.3 554.39,546.3 554.89,546.3 555.39,546.3 555.89,546.3 556.39,546.3 556.89,546.3 557.39,546.3 557.89,546.3 558.39,546.3 558.89,546.3 559.4,546.3 559.9,546.3 560.4,546.3 560.9,546.3 561.4,546.3 561.9,546.3 562.4,546.3 562.9,546.3 563.4,546.3 563.9,546.3 564.41,546.3 564.91,546.3 565.41,546.3 565.91,546.3 566.41,546.3 566.91,546.3 567.41,546.3 567.91,546.3 568.41,546.3 568.91,546.3 569.42,546.3 569.92,546.3 570.42,546.3 570.92,546.3 571.42,546.3 571.92,546.3 572.42,546.3 572.92,546.3 573.42,546.3 573.92,546.3 574.43,546.3 574.93,546.3 575.43,546.3 575.93,546.3 576.43,546.3 576.93,546.3 577.43,546.3 577.93,546.3 578.43,546.3 578.93,546.3 579.44,546.3 579.94,546.3 580.44,546.3 580.94,546.3 581.44,546.3 581.94,546.3 582.44,546.3 582.94,546.3 583.44,546.3 583.94,546.3 584.45,546.3 584.95,546.3 585.45,546.3 585.95,546.3 586.45,546.3 586.95,546.3 587.45,546.3 587.95,546.3 588.45,546.3 588.95,546.3 589.46,546.3 589.96,546.3 590.46,546.3 590.96,546.3 591.46,546.3 591.96,546.3 592.46,546.3 592.96,546.3 593.46,546.3 593.96,546.3 594.47,546.3 594.97,546.3 595.47,546.3 595.97,546.3 596.47,546.3 596.97,546.3 597.47,546.3 597.97,546.3 598.47,546.3 598.97,546.3 599.48,546.3 599.98,546.3 600.48,546.3 600.98,546.3 601.48,546.3 601.98,546.3 602.48,546.3 602.98,546.3 603.48,546.3 603.98,546.3 604.49,546.3 604.99,546.3 605.49,546.3 605.99,546.3 606.49,546.3 606.99,546.3 607.49,546.3 607.99,546.3 608.49,546.3 608.99,546.3 609.5,546.3 610,546.3 610.5,546.3 611,546.3 611.5,546.3 612,546.3 612.5,546.3 613,546.3 613.5,546.3 614,546.3 614.51,546.3 615.01,546.3 615.51,546.3 616.01,546.3 616.51,546.3 617.01,546.3 617.51,546.3 618.01,546.3 618.51,546.3 619.01,546.3 619.52,546.3 620.02,546.3 620.52,546.3 621.02,546.3 621.52,546.3 622.02,546.3 622.52,546.3 623.02,546.3 623.52,546.3 624.02,546.3 624.53,546.3 625.03,546.3 625.53,546.3 626.03,546.3 626.53,546.3 627.03,546.3 627.53,546.3 628.03,546.3 628.53,546.3 629.03,546.3 629.54,546.3 630.04,546.3 630.54,546.3 631.04,546.3 631.54,546.3 632.04,546.3 632.54,546.3 633.04,546.3 633.54,546.3 634.04,546.3 634.55,546.3 635.05,546.3 635.55,546.3 636.05,546.3 636.55,546.3 637.05,546.3 637.55,546.3 638.05,546.3 638.55,546.3 639.05,546.3 639.56,546.3 640.06,546.3 640.56,546.3 641.06,546.3 641.56,546.3 642.06,546.3 642.56,546.3 643.06,546.3 643.56,546.3 644.06,546.3 644.57,546.3 645.07,546.3 645.57,546.3 646.07,546.3 646.57,546.3 647.07,546.3 647.57,546.3 648.07,546.3 648.57,546.3 649.07,546.3 649.58,546.3 650.08,546.3 650.58,546.3 651.08,546.3 651.58,546.3 652.08,546.3 652.58,546.3 653.08,546.3 653.58,546.3 654.08,546.3 654.59,546.3 655.09,546.3 655.59,546.3 656.09,546.3 656.59,546.3 657.09,546.3 657.59,546.3 658.09,546.3 658.59,546.3 659.09,546.3 659.6,546.3 660.1,546.3 660.6,546.3 661.1,546.3 661.6,546.3 662.1,546.3 662.6,546.3 663.1,546.3 663.6,546.3 664.1,546.3 664.61,546.3 665.11,546.3 665.61,546.3 666.11,546.3 666.61,546.3 667.11,546.3 667.61,546.3 668.11,546.3 668.61,546.3 669.11,546.3 669.62,546.3 670.12,546.3 670.62,546.3 671.12,546.3 671.62,546.3 672.12,546.3 672.62,546.3 673.12,546.3 673.62,546.3 674.12,546.3 674.63,546.3 675.13,546.3 675.63,546.3 676.13,546.3 676.63,546.3 677.13,546.3 677.63,546.3 678.13,546.3 678.63,546.3 679.13,546.3 679.64,546.3 680.14,546.3 680.64,546.3 681.14,546.3 681.64,546.3 682.14,546.3 682.64,546.3 683.14,546.3 683.64,546.3 684.14,546.3 684.65,546.3 685.15,546.3 685.65,546.3 686.15,546.3 686.65,546.3 687.15,546.3 687.65,546.3 688.15,546.3 688.65,546.3 689.15,546.3 689.66,546.3 690.16,546.3 690.66,546.3 691.16,546.3 691.66,546.3 692.16,546.3 692.66,546.3 693.16,546.3 693.66,546.3 694.16,546.3 694.67,546.3 695.17,546.3 695.67,546.3 696.17,546.3 696.67,546.3 697.17,546.3 697.67,546.3 698.17,546.3 698.67,546.3 699.17,546.3 699.68,546.3 700.18,546.3 700.68,546.3 701.18,546.3 701.68,546.3 702.18,546.3 702.68,546.3 703.18,546.3 703.68,546.3 704.18,546.3 704.69,546.3 705.19,546.3 705.69,546.3 706.19,546.3 706.69,546.3 707.19,546.3 707.69,546.3 708.19,546.3 708.69,546.3 709.19,546.3 709.7,546.3 710.2,546.3 710.7,546.3 711.2,546.3 711.7,546.3 712.2,546.3 712.7,546.3 713.2,546.3 713.7,546.3 714.2,546.3 714.71,546.3 715.21,546.3 715.71,546.3 716.21,546.3 716.71,546.3 717.21,546.3 717.71,546.3 718.21,546.3 718.71,546.3 719.21,546.3 719.72,546.3 720.22,546.3 720.72,546.3 721.22,546.3 721.72,546.3 722.22,546.3 722.72,546.3 723.22,546.3 723.72,546.3 724.22,546.3 724.73,546.3 725.23,546.3 725.73,546.3 726.23,546.3 726.73,546.3 727.23,546.3 727.73,546.3 728.23,546.3 728.73,546.3 729.23,546.3 729.74,546.3 730.24,546.3 730.74,546.3 731.24,546.3 731.74,546.3 732.24,546.3 732.74,546.3 733.24,546.3 733.74,546.3 734.24,546.3 734.75,546.3 735.25,546.3 735.75,546.3 736.25,546.3 736.75,546.3 737.25,546.3 737.75,546.3 738.25,546.3 738.75,546.3 739.25,546.3 739.76,546.3 740.26,546.3 740.76,546.3 741.26,546.3 741.76,546.3 742.26,546.3 742.76,546.3 743.26,546.3 743.76,546.3 744.26,546.3 744.77,546.3 745.27,546.3 745.77,546.3 746.27,546.3 746.77,546.3 747.27,546.3 747.77,546.3 748.27,546.3 748.77,546.3 749.27,546.3 749.78,546.3 750.28,546.3 750.78,546.3 751.28,546.3 751.78,546.3 752.28,546.3 752.78,546.3 753.28,546.3 753.78,546.3 754.28,546.3 754.79,546.3 755.29,546.3 755.79,546.3 756.29,546.3 756.79,546.3 757.29,546.3 757.79,546.3 758.29,546.3 758.79,546.3 759.29,546.3 759.8,546.3 760.3,546.3 760.8,546.3 761.3,546.3 761.8,546.3" fill="none" stroke="#1f77b4" stroke-width="1.65" stroke-linejoin="round" stroke-linecap="round"/>
</g>
<rect x="454" y="305.6" width="323" height="240.7" fill="none" stroke="#555555" stroke-width="1.3"/>
<line x1="468.9" y1="546.3" x2="468.9" y2="549.7" stroke="#2a2a2a" stroke-width="1"/>
<text x="468.9" y="560.6" text-anchor="middle" font-size="11.6">0.0</text>
<line x1="505.51" y1="546.3" x2="505.51" y2="549.7" stroke="#2a2a2a" stroke-width="1"/>
<text x="505.51" y="560.6" text-anchor="middle" font-size="11.6">2.5</text>
<line x1="542.12" y1="546.3" x2="542.12" y2="549.7" stroke="#2a2a2a" stroke-width="1"/>
<text x="542.12" y="560.6" text-anchor="middle" font-size="11.6">5.0</text>
<line x1="578.74" y1="546.3" x2="578.74" y2="549.7" stroke="#2a2a2a" stroke-width="1"/>
<text x="578.74" y="560.6" text-anchor="middle" font-size="11.6">7.5</text>
<line x1="615.35" y1="546.3" x2="615.35" y2="549.7" stroke="#2a2a2a" stroke-width="1"/>
<text x="615.35" y="560.6" text-anchor="middle" font-size="11.6">10.0</text>
<line x1="651.96" y1="546.3" x2="651.96" y2="549.7" stroke="#2a2a2a" stroke-width="1"/>
<text x="651.96" y="560.6" text-anchor="middle" font-size="11.6">12.5</text>
<line x1="688.57" y1="546.3" x2="688.57" y2="549.7" stroke="#2a2a2a" stroke-width="1"/>
<text x="688.57" y="560.6" text-anchor="middle" font-size="11.6">15.0</text>
<line x1="725.19" y1="546.3" x2="725.19" y2="549.7" stroke="#2a2a2a" stroke-width="1"/>
<text x="725.19" y="560.6" text-anchor="middle" font-size="11.6">17.5</text>
<line x1="761.8" y1="546.3" x2="761.8" y2="549.7" stroke="#2a2a2a" stroke-width="1"/>
<text x="761.8" y="560.6" text-anchor="middle" font-size="11.6">20.0</text>
<line x1="450.6" y1="546.3" x2="454" y2="546.3" stroke="#2a2a2a" stroke-width="1"/>
<text x="446.6" y="550.3" text-anchor="end" font-size="11.6">0</text>
<line x1="450.6" y1="519.08" x2="454" y2="519.08" stroke="#2a2a2a" stroke-width="1"/>
<text x="446.6" y="523.08" text-anchor="end" font-size="11.6">50</text>
<line x1="450.6" y1="491.87" x2="454" y2="491.87" stroke="#2a2a2a" stroke-width="1"/>
<text x="446.6" y="495.87" text-anchor="end" font-size="11.6">100</text>
<line x1="450.6" y1="464.65" x2="454" y2="464.65" stroke="#2a2a2a" stroke-width="1"/>
<text x="446.6" y="468.65" text-anchor="end" font-size="11.6">150</text>
<line x1="450.6" y1="437.44" x2="454" y2="437.44" stroke="#2a2a2a" stroke-width="1"/>
<text x="446.6" y="441.44" text-anchor="end" font-size="11.6">200</text>
<line x1="450.6" y1="410.22" x2="454" y2="410.22" stroke="#2a2a2a" stroke-width="1"/>
<text x="446.6" y="414.22" text-anchor="end" font-size="11.6">250</text>
<line x1="450.6" y1="383.01" x2="454" y2="383.01" stroke="#2a2a2a" stroke-width="1"/>
<text x="446.6" y="387.01" text-anchor="end" font-size="11.6">300</text>
<line x1="450.6" y1="355.79" x2="454" y2="355.79" stroke="#2a2a2a" stroke-width="1"/>
<text x="446.6" y="359.79" text-anchor="end" font-size="11.6">350</text>
<line x1="450.6" y1="328.58" x2="454" y2="328.58" stroke="#2a2a2a" stroke-width="1"/>
<text x="446.6" y="332.58" text-anchor="end" font-size="11.6">400</text>
<text x="615.5" y="577.2" text-anchor="middle" font-size="15.4" textLength="32" lengthAdjust="spacingAndGlyphs">HBD</text>
<text transform="translate(419.9 425.95) rotate(-90)" x="0" y="0" text-anchor="middle" font-size="15.8" textLength="119.4" lengthAdjust="spacingAndGlyphs">No. of molecules</text>
<rect x="682.4" y="310.1" width="90.3" height="43.7" rx="2" ry="2" fill="#fff" fill-opacity="0.8" stroke="#d6d6d6" stroke-width="0.9"/>
<text x="699.9" y="320.2" font-size="9.2" textLength="54.3" lengthAdjust="spacingAndGlyphs">obj_function</text>
<rect x="685.8" y="327.6" width="18.2" height="6.6" fill="#8fbbd9" stroke="#1e2a33" stroke-width="1.1"/>
<rect x="685.8" y="341.2" width="18.2" height="6.6" fill="#ffbf86" stroke="#33291f" stroke-width="1.1"/>
<text x="711.4" y="333.9" font-size="9.8" textLength="53.9" lengthAdjust="spacingAndGlyphs">New SMILES</text>
<text x="711.4" y="347.5" font-size="9.8" textLength="56.7" lengthAdjust="spacingAndGlyphs">SureChEMBL</text>
</g>
<g>
<clipPath id="c5"><rect x="61.5" y="587.7" width="322.7" height="240.3"/></clipPath>
<g clip-path="url(#c5)">
<rect x="75.8" y="818" width="3.1" height="10" fill="#ff7f0e" fill-opacity="0.5" stroke="#5a3410" stroke-opacity="0.5" stroke-width="0.5"/>
<rect x="101.9" y="787.9" width="3.6" height="40.1" fill="#ff7f0e" fill-opacity="0.5" stroke="#5a3410" stroke-opacity="0.5" stroke-width="0.5"/>
<rect x="128.4" y="748.1" width="3.3" height="79.9" fill="#ff7f0e" fill-opacity="0.5" stroke="#5a3410" stroke-opacity="0.5" stroke-width="0.5"/>
<rect x="154.8" y="746.9" width="3.3" height="81.1" fill="#ff7f0e" fill-opacity="0.5" stroke="#5a3410" stroke-opacity="0.5" stroke-width="0.5"/>
<rect x="180.9" y="794.6" width="3.4" height="33.4" fill="#ff7f0e" fill-opacity="0.5" stroke="#5a3410" stroke-opacity="0.5" stroke-width="0.5"/>
<rect x="207.3" y="815.8" width="3.6" height="12.2" fill="#ff7f0e" fill-opacity="0.5" stroke="#5a3410" stroke-opacity="0.5" stroke-width="0.5"/>
<rect x="233.8" y="820.4" width="3.3" height="7.6" fill="#ff7f0e" fill-opacity="0.5" stroke="#5a3410" stroke-opacity="0.5" stroke-width="0.5"/>
<rect x="260.5" y="824.1" width="3.1" height="3.9" fill="#ff7f0e" fill-opacity="0.5" stroke="#5a3410" stroke-opacity="0.5" stroke-width="0.5"/>
<rect x="287.05" y="827.2" width="3.2" height="0.8" fill="#ff7f0e" fill-opacity="0.5" stroke="#5a3410" stroke-opacity="0.5" stroke-width="0.5"/>
<rect x="313.6" y="827.2" width="3.2" height="0.8" fill="#ff7f0e" fill-opacity="0.5" stroke="#5a3410" stroke-opacity="0.5" stroke-width="0.5"/>
<rect x="340.15" y="827.4" width="3.2" height="0.6" fill="#ff7f0e" fill-opacity="0.5" stroke="#5a3410" stroke-opacity="0.5" stroke-width="0.5"/>
<rect x="366.7" y="827.2" width="3.2" height="0.8" fill="#ff7f0e" fill-opacity="0.5" stroke="#5a3410" stroke-opacity="0.5" stroke-width="0.5"/>
<rect x="101.9" y="598" width="3.6" height="230" fill="#1f77b4" fill-opacity="0.5" stroke="#0d2a40" stroke-opacity="0.5" stroke-width="0.5"/>
<rect x="128.4" y="786.1" width="3.3" height="41.9" fill="#1f77b4" fill-opacity="0.5" stroke="#0d2a40" stroke-opacity="0.5" stroke-width="0.5"/>
<polyline points="75.8,826.5 76.3,826.39 76.81,826.28 77.31,826.17 77.81,826.06 78.32,825.95 78.82,825.84 79.32,825.72 79.83,825.61 80.33,825.49 80.83,825.38 81.34,825.27 81.84,825.15 82.34,825.04 82.85,824.92 83.35,824.81 83.86,824.7 84.36,824.59 84.86,824.48 85.37,824.37 85.87,824.27 86.37,824.16 86.88,824.06 87.38,823.96 87.88,823.86 88.39,823.76 88.89,823.67 89.39,823.57 89.9,823.49 90.4,823.4 90.91,823.32 91.41,823.23 91.92,823.15 92.43,823.07 92.93,822.99 93.44,822.92 93.95,822.84 94.45,822.77 94.96,822.69 95.47,822.62 95.97,822.55 96.48,822.48 96.99,822.41 97.49,822.34 98,822.27 98.51,822.21 99.01,822.14 99.52,822.07 100.03,822.01 100.53,821.94 101.04,821.88 101.55,821.81 102.05,821.75 102.56,821.68 103.07,821.62 103.57,821.56 104.08,821.49 104.59,821.43 105.09,821.36 105.6,821.3 106.11,821.24 106.61,821.17 107.12,821.11 107.63,821.04 108.13,820.98 108.64,820.91 109.15,820.85 109.65,820.78 110.16,820.72 110.67,820.65 111.17,820.59 111.68,820.53 112.19,820.46 112.69,820.4 113.2,820.34 113.71,820.28 114.21,820.22 114.72,820.15 115.23,820.1 115.73,820.04 116.24,819.98 116.75,819.92 117.25,819.86 117.76,819.81 118.27,819.76 118.77,819.7 119.28,819.65 119.79,819.6 120.29,819.55 120.8,819.5 121.31,819.45 121.81,819.4 122.32,819.35 122.83,819.3 123.33,819.24 123.84,819.19 124.35,819.14 124.85,819.08 125.36,819.03 125.87,818.98 126.37,818.92 126.88,818.87 127.39,818.82 127.89,818.77 128.4,818.72 128.91,818.67 129.41,818.63 129.92,818.58 130.43,818.54 130.93,818.5 131.44,818.47 131.95,818.44 132.45,818.41 132.96,818.38 133.47,818.36 133.97,818.34 134.48,818.32 134.99,818.31 135.49,818.3 136,818.3 136.5,818.3 137.01,818.3 137.51,818.3 138.01,818.3 138.52,818.3 139.02,818.3 139.52,818.3 140.03,818.3 140.53,818.3 141.03,818.3 141.54,818.3 142.04,818.3 142.54,818.3 143.05,818.3 143.55,818.3 144.05,818.3 144.56,818.3 145.06,818.3 145.56,818.3 146.07,818.3 146.57,818.3 147.07,818.3 147.58,818.3 148.08,818.3 148.58,818.3 149.09,818.3 149.59,818.3 150.09,818.3 150.6,818.3 151.1,818.3 151.61,818.3 152.12,818.31 152.63,818.32 153.14,818.34 153.66,818.36 154.17,818.39 154.68,818.42 155.19,818.45 155.7,818.49 156.21,818.53 156.72,818.57 157.23,818.62 157.74,818.66 158.26,818.71 158.77,818.76 159.28,818.8 159.79,818.85 160.3,818.9 160.8,818.95 161.31,819.01 161.81,819.07 162.31,819.14 162.82,819.22 163.32,819.3 163.82,819.38 164.33,819.47 164.83,819.57 165.33,819.66 165.84,819.76 166.34,819.87 166.84,819.98 167.35,820.09 167.85,820.2 168.35,820.31 168.86,820.43 169.36,820.54 169.86,820.66 170.37,820.78 170.87,820.89 171.37,821.01 171.88,821.13 172.38,821.24 172.88,821.36 173.39,821.47 173.89,821.58 174.39,821.69 174.9,821.8 175.4,821.9 175.91,822 176.42,822.11 176.93,822.22 177.43,822.33 177.94,822.44 178.45,822.55 178.96,822.66 179.47,822.78 179.97,822.89 180.48,823 180.99,823.11 181.5,823.23 182.01,823.34 182.52,823.45 183.03,823.55 183.53,823.66 184.04,823.76 184.55,823.86 185.06,823.96 185.57,824.06 186.07,824.15 186.58,824.24 187.09,824.32 187.6,824.4 188.11,824.48 188.61,824.55 189.12,824.63 189.63,824.7 190.13,824.78 190.64,824.85 191.15,824.92 191.65,824.99 192.16,825.06 192.67,825.13 193.17,825.2 193.68,825.26 194.19,825.33 194.69,825.39 195.2,825.45 195.71,825.51 196.21,825.57 196.72,825.63 197.23,825.69 197.73,825.74 198.24,825.8 198.75,825.85 199.25,825.9 199.76,825.95 200.27,826 200.77,826.04 201.28,826.08 201.79,826.12 202.29,826.16 202.8,826.2 203.31,826.24 203.81,826.27 204.32,826.31 204.82,826.34 205.33,826.37 205.83,826.41 206.34,826.44 206.84,826.47 207.35,826.5 207.86,826.54 208.36,826.57 208.87,826.6 209.37,826.63 209.88,826.65 210.38,826.68 210.89,826.71 211.39,826.74 211.9,826.76 212.41,826.79 212.91,826.81 213.42,826.84 213.92,826.86 214.43,826.88 214.93,826.91 215.44,826.93 215.94,826.95 216.45,826.97 216.96,826.99 217.46,827 217.97,827.02 218.47,827.04 218.98,827.05 219.48,827.06 219.99,827.08 220.49,827.09 221,827.1 221.5,827.11 222,827.12 222.5,827.13 223,827.14 223.5,827.15 224,827.16 224.5,827.17 225,827.17 225.5,827.18 226,827.19 226.5,827.2 227,827.21 227.5,827.21 228,827.22 228.5,827.23 229,827.24 229.5,827.24 230,827.25 230.5,827.26 231,827.26 231.5,827.27 232,827.28 232.5,827.28 233,827.29 233.5,827.29 234,827.3 234.5,827.3 235,827.31 235.5,827.31 236,827.32 236.5,827.33 237,827.33 237.5,827.34 238,827.34 238.5,827.34 239,827.35 239.5,827.35 240,827.36 240.5,827.36 241,827.37 241.5,827.37 242,827.38 242.5,827.38 243,827.38 243.5,827.39 244,827.39 244.5,827.4 245,827.4 245.5,827.4 246,827.41 246.5,827.41 247,827.42 247.5,827.42 248,827.42 248.5,827.43 249,827.43 249.5,827.43 250,827.44 250.5,827.44 251,827.45 251.5,827.45 252,827.45 252.5,827.46 253,827.46 253.5,827.46 254,827.47 254.5,827.47 255,827.47 255.5,827.48 256,827.48 256.5,827.48 257,827.49 257.5,827.49 258,827.49 258.5,827.5 259,827.5 259.5,827.5 260,827.51 260.5,827.51 261,827.51 261.5,827.51 262,827.52 262.5,827.52 263,827.52 263.5,827.53 264,827.53 264.5,827.53 265,827.53 265.5,827.54 266,827.54 266.5,827.54 267,827.54 267.5,827.55 268,827.55 268.5,827.55 269,827.55 269.5,827.56 270,827.56 270.5,827.56 271,827.56 271.5,827.57 272,827.57 272.5,827.57 273,827.57 273.5,827.57 274,827.58 274.5,827.58 275,827.58 275.5,827.58 276,827.59 276.5,827.59 277,827.59 277.5,827.59 278,827.59 278.5,827.59 279,827.6 279.5,827.6 280,827.6 280.5,827.6 281,827.6 281.5,827.61 282,827.61 282.5,827.61 283,827.61 283.5,827.61 284,827.61 284.5,827.62 285,827.62 285.5,827.62 286,827.62 286.5,827.62 287,827.62 287.5,827.62 288,827.63 288.5,827.63 289,827.63 289.5,827.63 290,827.63 290.5,827.63 291,827.63 291.5,827.64 292,827.64 292.5,827.64 293,827.64 293.5,827.64 294,827.64 294.5,827.64 295,827.65 295.5,827.65 296,827.65 296.5,827.65 297,827.65 297.5,827.65 298,827.65 298.5,827.66 299,827.66 299.5,827.66 300,827.66 300.5,827.66 301,827.66 301.5,827.66 302,827.66 302.5,827.67 303,827.67 303.5,827.67 304,827.67 304.5,827.67 305,827.67 305.5,827.67 306,827.67 306.5,827.68 307,827.68 307.5,827.68 308,827.68 308.5,827.68 309,827.68 309.5,827.68 310,827.68 310.5,827.68 311,827.69 311.5,827.69 312,827.69 312.5,827.69 313,827.69 313.5,827.69 314,827.69 314.5,827.69 315,827.69 315.5,827.7 316,827.7 316.5,827.7 317,827.7 317.5,827.7 318,827.7 318.5,827.7 319,827.7 319.5,827.7 320,827.7 320.5,827.71 321,827.71 321.5,827.71 322,827.71 322.5,827.71 323,827.71 323.5,827.71 324,827.71 324.5,827.71 325,827.71 325.5,827.72 326,827.72 326.5,827.72 327,827.72 327.5,827.72 328,827.72 328.5,827.72 329,827.72 329.5,827.72 330,827.72 330.5,827.73 331,827.73 331.5,827.73 332,827.73 332.5,827.73 333,827.73 333.5,827.73 334,827.73 334.5,827.73 335,827.73 335.5,827.73 336,827.74 336.5,827.74 337,827.74 337.5,827.74 338,827.74 338.5,827.74 339,827.74 339.5,827.74 340,827.74 340.5,827.74 341,827.74 341.5,827.75 342,827.75 342.5,827.75 343,827.75 343.5,827.75 344,827.75 344.5,827.75 345,827.75 345.5,827.75 346,827.75 346.5,827.76 347,827.76 347.5,827.76 348,827.76 348.5,827.76 349,827.76 349.5,827.76 350,827.76 350.5,827.76 351,827.76 351.5,827.76 352,827.77 352.5,827.77 353,827.77 353.5,827.77 354,827.77 354.5,827.77 355,827.77 355.5,827.77 356,827.77 356.5,827.77 357,827.78 357.5,827.78 358,827.78 358.5,827.78 359,827.78 359.5,827.78 360,827.78 360.5,827.78 361,827.78 361.5,827.78 362,827.79 362.5,827.79 363,827.79 363.5,827.79 364,827.79 364.5,827.79 365,827.79 365.5,827.79 366,827.79 366.5,827.8 367,827.8 367.5,827.8 368,827.8 368.5,827.8" fill="none" stroke="#ff7f0e" stroke-width="1.65" stroke-linejoin="round" stroke-linecap="round"/>
<polyline points="76.45,828 76.85,828 77.25,828 77.65,828 78.05,828 78.45,828 78.85,828 79.25,828 79.65,828 80.05,828 80.45,828 80.85,828 81.25,828 81.65,828 82.05,828 82.45,828 82.85,828 83.25,828 83.65,828 84.05,828 84.45,828 84.85,828 85.25,828 85.65,828 86.05,828 86.45,828 86.85,828 87.25,828 87.65,828 88.05,828 88.45,828 88.85,828 89.25,828 89.65,828 90.05,828 90.45,828 90.85,828 91.25,828 91.65,828 92.05,828 92.45,828 92.85,828 93.25,828 93.65,828 94.05,828 94.45,827.09 94.85,826.58 95.25,825.84 95.65,824.79 96.05,823.32 96.45,821.33 96.85,818.7 97.25,815.33 97.65,811.09 98.05,805.94 98.45,799.84 98.85,792.83 99.25,785.03 99.65,776.65 100.05,767.95 100.45,759.31 100.85,751.14 101.25,743.85 101.65,737.88 102.05,733.58 102.45,731.22 102.85,730.95 103.25,732.8 103.65,736.63 104.05,742.22 104.45,749.21 104.85,757.21 105.25,765.77 105.65,774.49 106.05,782.98 106.45,790.95 106.85,798.17 107.25,804.5 107.65,809.89 108.05,814.35 108.45,817.93 108.85,820.74 109.25,822.87 109.65,824.46 110.05,825.61 110.45,826.42 110.85,826.98 111.25,827.35 111.65,828 112.05,828 112.45,828 112.85,828 113.25,828 113.65,828 114.05,828 114.45,828 114.85,828 115.25,828 115.65,828 116.05,828 116.45,828 116.85,828 117.25,828 117.65,828 118.05,828 118.45,828 118.85,828 119.25,828 119.65,828 120.05,828 120.45,828 120.85,828 121.25,828 121.65,828 122.05,828 122.45,828 122.85,828 123.25,827.19 123.65,826.83 124.05,826.34 124.45,825.71 124.85,824.91 125.25,823.93 125.65,822.77 126.05,821.43 126.45,819.94 126.85,818.35 127.25,816.71 127.65,815.1 128.05,813.61 128.45,812.32 128.85,811.32 129.25,810.66 129.65,810.4 130.05,810.56 130.45,811.12 130.85,812.04 131.25,813.27 131.65,814.71 132.05,816.3 132.45,817.94 132.85,819.55 133.25,821.07 133.65,822.45 134.05,823.66 134.45,824.68 134.85,825.53 135.25,826.2 135.65,826.72 136.05,827.11 136.45,827.39 136.85,828 137.25,828 137.65,828 138.05,828 138.45,828 138.85,828 139.25,828 139.65,828 140.05,828 140.45,828 140.85,828 141.25,828 141.65,828 142.05,828 142.45,828 142.85,828 143.25,828 143.65,828 144.05,828 144.45,828 144.85,828 145.25,828 145.65,828 146.05,828 146.45,828 146.85,828 147.25,828 147.65,828 148.05,828 148.45,828 148.85,828 149.25,828 149.65,828 150.15,828 150.65,828 151.15,828 151.65,828 152.15,828 152.65,828 153.16,828 153.66,828 154.16,828 154.66,828 155.16,828 155.66,828 156.16,828 156.66,828 157.16,828 157.66,828 158.16,828 158.66,828 159.17,828 159.67,828 160.17,828 160.67,828 161.17,828 161.67,828 162.17,828 162.67,828 163.17,828 163.67,828 164.17,828 164.67,828 165.17,828 165.68,828 166.18,828 166.68,828 167.18,828 167.68,828 168.18,828 168.68,828 169.18,828 169.68,828 170.18,828 170.68,828 171.18,828 171.69,828 172.19,828 172.69,828 173.19,828 173.69,828 174.19,828 174.69,828 175.19,828 175.69,828 176.19,828 176.69,828 177.19,828 177.69,828 178.2,828 178.7,828 179.2,828 179.7,828 180.2,828 180.7,828 181.2,828 181.7,828 182.2,828 182.7,828 183.2,828 183.7,828 184.21,828 184.71,828 185.21,828 185.71,828 186.21,828 186.71,828 187.21,828 187.71,828 188.21,828 188.71,828 189.21,828 189.71,828 190.21,828 190.72,828 191.22,828 191.72,828 192.22,828 192.72,828 193.22,828 193.72,828 194.22,828 194.72,828 195.22,828 195.72,828 196.22,828 196.73,828 197.23,828 197.73,828 198.23,828 198.73,828 199.23,828 199.73,828 200.23,828 200.73,828 201.23,828 201.73,828 202.23,828 202.73,828 203.24,828 203.74,828 204.24,828 204.74,828 205.24,828 205.74,828 206.24,828 206.74,828 207.24,828 207.74,828 208.24,828 208.74,828 209.25,828 209.75,828 210.25,828 210.75,828 211.25,828 211.75,828 212.25,828 212.75,828 213.25,828 213.75,828 214.25,828 214.75,828 215.25,828 215.76,828 216.26,828 216.76,828 217.26,828 217.76,828 218.26,828 218.76,828 219.26,828 219.76,828 220.26,828 220.76,828 221.26,828 221.77,828 222.27,828 222.77,828 223.27,828 223.77,828 224.27,828 224.77,828 225.27,828 225.77,828 226.27,828 226.77,828 227.27,828 227.77,828 228.28,828 228.78,828 229.28,828 229.78,828 230.28,828 230.78,828 231.28,828 231.78,828 232.28,828 232.78,828 233.28,828 233.78,828 234.29,828 234.79,828 235.29,828 235.79,828 236.29,828 236.79,828 237.29,828 237.79,828 238.29,828 238.79,828 239.29,828 239.79,828 240.29,828 240.8,828 241.3,828 241.8,828 242.3,828 242.8,828 243.3,828 243.8,828 244.3,828 244.8,828 245.3,828 245.8,828 246.3,828 246.81,828 247.31,828 247.81,828 248.31,828 248.81,828 249.31,828 249.81,828 250.31,828 250.81,828 251.31,828 251.81,828 252.31,828 252.81,828 253.32,828 253.82,828 254.32,828 254.82,828 255.32,828 255.82,828 256.32,828 256.82,828 257.32,828 257.82,828 258.32,828 258.82,828 259.33,828 259.83,828 260.33,828 260.83,828 261.33,828 261.83,828 262.33,828 262.83,828 263.33,828 263.83,828 264.33,828 264.83,828 265.34,828 265.84,828 266.34,828 266.84,828 267.34,828 267.84,828 268.34,828 268.84,828 269.34,828 269.84,828 270.34,828 270.84,828 271.34,828 271.85,828 272.35,828 272.85,828 273.35,828 273.85,828 274.35,828 274.85,828 275.35,828 275.85,828 276.35,828 276.85,828 277.35,828 277.86,828 278.36,828 278.86,828 279.36,828 279.86,828 280.36,828 280.86,828 281.36,828 281.86,828 282.36,828 282.86,828 283.36,828 283.86,828 284.37,828 284.87,828 285.37,828 285.87,828 286.37,828 286.87,828 287.37,828 287.87,828 288.37,828 288.87,828 289.37,828 289.87,828 290.38,828 290.88,828 291.38,828 291.88,828 292.38,828 292.88,828 293.38,828 293.88,828 294.38,828 294.88,828 295.38,828 295.88,828 296.38,828 296.89,828 297.39,828 297.89,828 298.39,828 298.89,828 299.39,828 299.89,828 300.39,828 300.89,828 301.39,828 301.89,828 302.39,828 302.9,828 303.4,828 303.9,828 304.4,828 304.9,828 305.4,828 305.9,828 306.4,828 306.9,828 307.4,828 307.9,828 308.4,828 308.9,828 309.41,828 309.91,828 310.41,828 310.91,828 311.41,828 311.91,828 312.41,828 312.91,828 313.41,828 313.91,828 314.41,828 314.91,828 315.42,828 315.92,828 316.42,828 316.92,828 317.42,828 317.92,828 318.42,828 318.92,828 319.42,828 319.92,828 320.42,828 320.92,828 321.42,828 321.93,828 322.43,828 322.93,828 323.43,828 323.93,828 324.43,828 324.93,828 325.43,828 325.93,828 326.43,828 326.93,828 327.43,828 327.94,828 328.44,828 328.94,828 329.44,828 329.94,828 330.44,828 330.94,828 331.44,828 331.94,828 332.44,828 332.94,828 333.44,828 333.94,828 334.45,828 334.95,828 335.45,828 335.95,828 336.45,828 336.95,828 337.45,828 337.95,828 338.45,828 338.95,828 339.45,828 339.95,828 340.46,828 340.96,828 341.46,828 341.96,828 342.46,828 342.96,828 343.46,828 343.96,828 344.46,828 344.96,828 345.46,828 345.96,828 346.46,828 346.97,828 347.47,828 347.97,828 348.47,828 348.97,828 349.47,828 349.97,828 350.47,828 350.97,828 351.47,828 351.97,828 352.47,828 352.98,828 353.48,828 353.98,828 354.48,828 354.98,828 355.48,828 355.98,828 356.48,828 356.98,828 357.48,828 357.98,828 358.48,828 358.98,828 359.49,828 359.99,828 360.49,828 360.99,828 361.49,828 361.99,828 362.49,828 362.99,828 363.49,828 363.99,828 364.49,828 364.99,828 365.5,828 366,828 366.5,828 367,828 367.5,828 368,828 368.5,828" fill="none" stroke="#1f77b4" stroke-width="1.65" stroke-linejoin="round" stroke-linecap="round"/>
</g>
<rect x="61.5" y="587.7" width="322.7" height="240.3" fill="none" stroke="#555555" stroke-width="1.3"/>
<line x1="103" y1="828" x2="103" y2="831.4" stroke="#2a2a2a" stroke-width="1"/>
<text x="103" y="842.3" text-anchor="middle" font-size="11.6">2</text>
<line x1="156.1" y1="828" x2="156.1" y2="831.4" stroke="#2a2a2a" stroke-width="1"/>
<text x="156.1" y="842.3" text-anchor="middle" font-size="11.6">4</text>
<line x1="209.2" y1="828" x2="209.2" y2="831.4" stroke="#2a2a2a" stroke-width="1"/>
<text x="209.2" y="842.3" text-anchor="middle" font-size="11.6">6</text>
<line x1="262.3" y1="828" x2="262.3" y2="831.4" stroke="#2a2a2a" stroke-width="1"/>
<text x="262.3" y="842.3" text-anchor="middle" font-size="11.6">8</text>
<line x1="315.4" y1="828" x2="315.4" y2="831.4" stroke="#2a2a2a" stroke-width="1"/>
<text x="315.4" y="842.3" text-anchor="middle" font-size="11.6">10</text>
<line x1="368.5" y1="828" x2="368.5" y2="831.4" stroke="#2a2a2a" stroke-width="1"/>
<text x="368.5" y="842.3" text-anchor="middle" font-size="11.6">12</text>
<line x1="58.1" y1="828" x2="61.5" y2="828" stroke="#2a2a2a" stroke-width="1"/>
<text x="54.1" y="832" text-anchor="end" font-size="11.6">0</text>
<line x1="58.1" y1="800.96" x2="61.5" y2="800.96" stroke="#2a2a2a" stroke-width="1"/>
<text x="54.1" y="804.96" text-anchor="end" font-size="11.6">50</text>
<line x1="58.1" y1="773.92" x2="61.5" y2="773.92" stroke="#2a2a2a" stroke-width="1"/>
<text x="54.1" y="777.92" text-anchor="end" font-size="11.6">100</text>
<line x1="58.1" y1="746.88" x2="61.5" y2="746.88" stroke="#2a2a2a" stroke-width="1"/>
<text x="54.1" y="750.88" text-anchor="end" font-size="11.6">150</text>
<line x1="58.1" y1="719.84" x2="61.5" y2="719.84" stroke="#2a2a2a" stroke-width="1"/>
<text x="54.1" y="723.84" text-anchor="end" font-size="11.6">200</text>
<line x1="58.1" y1="692.8" x2="61.5" y2="692.8" stroke="#2a2a2a" stroke-width="1"/>
<text x="54.1" y="696.8" text-anchor="end" font-size="11.6">250</text>
<line x1="58.1" y1="665.76" x2="61.5" y2="665.76" stroke="#2a2a2a" stroke-width="1"/>
<text x="54.1" y="669.76" text-anchor="end" font-size="11.6">300</text>
<line x1="58.1" y1="638.72" x2="61.5" y2="638.72" stroke="#2a2a2a" stroke-width="1"/>
<text x="54.1" y="642.72" text-anchor="end" font-size="11.6">350</text>
<line x1="58.1" y1="611.68" x2="61.5" y2="611.68" stroke="#2a2a2a" stroke-width="1"/>
<text x="54.1" y="615.68" text-anchor="end" font-size="11.6">400</text>
<text x="222.85" y="858.9" text-anchor="middle" font-size="15.4" textLength="98.5" lengthAdjust="spacingAndGlyphs">Aromatic ring</text>
<text transform="translate(27.4 707.85) rotate(-90)" x="0" y="0" text-anchor="middle" font-size="15.8" textLength="119.4" lengthAdjust="spacingAndGlyphs">No. of molecules</text>
<rect x="289.6" y="592.2" width="90.3" height="43.7" rx="2" ry="2" fill="#fff" fill-opacity="0.8" stroke="#d6d6d6" stroke-width="0.9"/>
<text x="307.1" y="602.3" font-size="9.2" textLength="54.3" lengthAdjust="spacingAndGlyphs">obj_function</text>
<rect x="293" y="609.7" width="18.2" height="6.6" fill="#8fbbd9" stroke="#1e2a33" stroke-width="1.1"/>
<rect x="293" y="623.3" width="18.2" height="6.6" fill="#ffbf86" stroke="#33291f" stroke-width="1.1"/>
<text x="318.6" y="616" font-size="9.8" textLength="53.9" lengthAdjust="spacingAndGlyphs">New SMILES</text>
<text x="318.6" y="629.6" font-size="9.8" textLength="56.7" lengthAdjust="spacingAndGlyphs">SureChEMBL</text>
</g>
<g>
<clipPath id="c6"><rect x="454" y="587.7" width="322.8" height="240.3"/></clipPath>
<g clip-path="url(#c6)">
<rect x="468.3" y="826.5" width="3.3" height="1.5" fill="#ff7f0e" fill-opacity="0.5" stroke="#5a3410" stroke-opacity="0.5" stroke-width="0.5"/>
<rect x="474.5" y="822.1" width="3.1" height="5.9" fill="#ff7f0e" fill-opacity="0.5" stroke="#5a3410" stroke-opacity="0.5" stroke-width="0.5"/>
<rect x="480.2" y="814.5" width="3.1" height="13.5" fill="#ff7f0e" fill-opacity="0.5" stroke="#5a3410" stroke-opacity="0.5" stroke-width="0.5"/>
<rect x="486" y="801" width="3.4" height="27" fill="#ff7f0e" fill-opacity="0.5" stroke="#5a3410" stroke-opacity="0.5" stroke-width="0.5"/>
<rect x="494.5" y="781" width="3.3" height="47" fill="#ff7f0e" fill-opacity="0.5" stroke="#5a3410" stroke-opacity="0.5" stroke-width="0.5"/>
<rect x="500.4" y="789.5" width="3.4" height="38.5" fill="#ff7f0e" fill-opacity="0.5" stroke="#5a3410" stroke-opacity="0.5" stroke-width="0.5"/>
<rect x="506.3" y="769.3" width="3.5" height="58.7" fill="#ff7f0e" fill-opacity="0.5" stroke="#5a3410" stroke-opacity="0.5" stroke-width="0.5"/>
<rect x="515" y="779.5" width="3.4" height="48.5" fill="#ff7f0e" fill-opacity="0.5" stroke="#5a3410" stroke-opacity="0.5" stroke-width="0.5"/>
<rect x="521" y="802.3" width="3.6" height="25.7" fill="#ff7f0e" fill-opacity="0.5" stroke="#5a3410" stroke-opacity="0.5" stroke-width="0.5"/>
<rect x="526.9" y="806.5" width="3.3" height="21.5" fill="#ff7f0e" fill-opacity="0.5" stroke="#5a3410" stroke-opacity="0.5" stroke-width="0.5"/>
<rect x="535.4" y="814" width="3.6" height="14" fill="#ff7f0e" fill-opacity="0.5" stroke="#5a3410" stroke-opacity="0.5" stroke-width="0.5"/>
<rect x="541.2" y="817.8" width="3.6" height="10.2" fill="#ff7f0e" fill-opacity="0.5" stroke="#5a3410" stroke-opacity="0.5" stroke-width="0.5"/>
<rect x="547.1" y="821" width="3.6" height="7" fill="#ff7f0e" fill-opacity="0.5" stroke="#5a3410" stroke-opacity="0.5" stroke-width="0.5"/>
<rect x="556.1" y="823" width="3.3" height="5" fill="#ff7f0e" fill-opacity="0.5" stroke="#5a3410" stroke-opacity="0.5" stroke-width="0.5"/>
<rect x="562" y="825" width="3.3" height="3" fill="#ff7f0e" fill-opacity="0.5" stroke="#5a3410" stroke-opacity="0.5" stroke-width="0.5"/>
<rect x="567.7" y="826.6" width="3.2" height="1.4" fill="#ff7f0e" fill-opacity="0.5" stroke="#5a3410" stroke-opacity="0.5" stroke-width="0.5"/>
<rect x="574" y="827" width="3.2" height="1" fill="#ff7f0e" fill-opacity="0.5" stroke="#5a3410" stroke-opacity="0.5" stroke-width="0.5"/>
<rect x="588.1" y="824.8" width="3.4" height="3.2" fill="#ff7f0e" fill-opacity="0.5" stroke="#5a3410" stroke-opacity="0.5" stroke-width="0.5"/>
<rect x="597.5" y="827" width="3.3" height="1" fill="#ff7f0e" fill-opacity="0.5" stroke="#5a3410" stroke-opacity="0.5" stroke-width="0.5"/>
<rect x="609" y="823" width="3.4" height="5" fill="#ff7f0e" fill-opacity="0.5" stroke="#5a3410" stroke-opacity="0.5" stroke-width="0.5"/>
<rect x="649.2" y="827" width="3.3" height="1" fill="#ff7f0e" fill-opacity="0.5" stroke="#5a3410" stroke-opacity="0.5" stroke-width="0.5"/>
<rect x="658" y="827" width="3.3" height="1" fill="#ff7f0e" fill-opacity="0.5" stroke="#5a3410" stroke-opacity="0.5" stroke-width="0.5"/>
<rect x="680" y="827" width="3.3" height="1" fill="#ff7f0e" fill-opacity="0.5" stroke="#5a3410" stroke-opacity="0.5" stroke-width="0.5"/>
<rect x="758.6" y="827.2" width="3.2" height="0.8" fill="#ff7f0e" fill-opacity="0.5" stroke="#5a3410" stroke-opacity="0.5" stroke-width="0.5"/>
<rect x="474.5" y="826" width="3.1" height="2" fill="#1f77b4" fill-opacity="0.5" stroke="#0d2a40" stroke-opacity="0.5" stroke-width="0.5"/>
<rect x="480.2" y="781.7" width="3.1" height="46.3" fill="#1f77b4" fill-opacity="0.5" stroke="#0d2a40" stroke-opacity="0.5" stroke-width="0.5"/>
<rect x="486" y="599" width="3.4" height="229" fill="#1f77b4" fill-opacity="0.5" stroke="#0d2a40" stroke-opacity="0.5" stroke-width="0.5"/>
<rect x="494.5" y="745.3" width="3.3" height="82.7" fill="#1f77b4" fill-opacity="0.5" stroke="#0d2a40" stroke-opacity="0.5" stroke-width="0.5"/>
<polyline points="468.4,826.3 468.93,826.05 469.45,825.79 469.98,825.54 470.51,825.28 471.03,825.02 471.56,824.77 472.09,824.51 472.61,824.25 473.14,824 473.67,823.74 474.19,823.49 474.72,823.24 475.25,822.99 475.77,822.74 476.3,822.5 476.8,822.27 477.31,822.04 477.81,821.81 478.32,821.59 478.82,821.36 479.33,821.14 479.83,820.92 480.34,820.7 480.84,820.48 481.35,820.27 481.85,820.05 482.36,819.83 482.86,819.61 483.37,819.39 483.87,819.17 484.38,818.95 484.88,818.72 485.39,818.5 485.89,818.27 486.4,818.03 486.9,817.8 487.41,817.56 487.92,817.31 488.43,817.05 488.94,816.79 489.45,816.52 489.96,816.25 490.47,815.98 490.98,815.71 491.49,815.43 492,815.16 492.5,814.89 493.01,814.62 493.52,814.36 494.03,814.1 494.54,813.84 495.05,813.6 495.56,813.36 496.07,813.13 496.58,812.91 497.09,812.7 497.6,812.5 498.1,812.31 498.61,812.11 499.11,811.91 499.62,811.7 500.12,811.49 500.63,811.29 501.13,811.08 501.64,810.88 502.14,810.68 502.65,810.49 503.15,810.31 503.66,810.14 504.16,809.98 504.67,809.84 505.17,809.7 505.68,809.59 506.18,809.49 506.69,809.41 507.19,809.35 507.7,809.31 508.2,809.3 508.7,809.31 509.21,809.32 509.71,809.35 510.22,809.39 510.72,809.44 511.23,809.49 511.73,809.56 512.24,809.63 512.74,809.71 513.25,809.79 513.75,809.89 514.26,809.98 514.76,810.08 515.27,810.19 515.77,810.3 516.28,810.41 516.78,810.53 517.29,810.64 517.79,810.76 518.3,810.88 518.8,811 519.31,811.13 519.82,811.27 520.33,811.44 520.84,811.61 521.35,811.8 521.86,812.01 522.37,812.22 522.88,812.44 523.39,812.68 523.9,812.92 524.4,813.16 524.91,813.41 525.42,813.67 525.93,813.93 526.44,814.19 526.95,814.44 527.46,814.7 527.97,814.96 528.48,815.21 528.99,815.46 529.5,815.7 530,815.94 530.51,816.19 531.01,816.44 531.52,816.71 532.02,816.97 532.53,817.24 533.03,817.51 533.54,817.79 534.04,818.06 534.55,818.33 535.05,818.61 535.56,818.88 536.06,819.14 536.57,819.4 537.07,819.66 537.58,819.9 538.08,820.14 538.59,820.37 539.09,820.59 539.6,820.8 540.1,821 540.6,821.19 541.11,821.37 541.61,821.55 542.12,821.73 542.62,821.9 543.13,822.07 543.63,822.23 544.14,822.4 544.64,822.55 545.15,822.71 545.65,822.86 546.16,823.01 546.66,823.15 547.17,823.29 547.67,823.43 548.18,823.57 548.68,823.7 549.19,823.83 549.69,823.95 550.2,824.08 550.7,824.2 551.21,824.32 551.72,824.44 552.23,824.57 552.74,824.69 553.25,824.81 553.76,824.93 554.27,825.05 554.78,825.16 555.29,825.28 555.8,825.39 556.3,825.5 556.81,825.6 557.32,825.7 557.83,825.8 558.34,825.89 558.85,825.97 559.36,826.05 559.87,826.12 560.38,826.19 560.89,826.25 561.4,826.3 561.9,826.35 562.41,826.39 562.91,826.44 563.41,826.48 563.92,826.52 564.42,826.56 564.93,826.6 565.43,826.64 565.93,826.68 566.44,826.72 566.94,826.75 567.44,826.79 567.95,826.82 568.45,826.85 568.96,826.88 569.46,826.91 569.96,826.94 570.47,826.96 570.97,826.98 571.47,827.01 571.98,827.03 572.48,827.04 572.99,827.06 573.49,827.07 573.99,827.08 574.5,827.09 575,827.1 575.5,827.11 576,827.11 576.5,827.12 577,827.12 577.5,827.13 578,827.13 578.5,827.14 579,827.14 579.5,827.15 580,827.15 580.5,827.16 581,827.16 581.5,827.17 582,827.17 582.5,827.17 583,827.18 583.5,827.18 584,827.18 584.5,827.19 585,827.19 585.5,827.19 586,827.19 586.5,827.19 587,827.2 587.5,827.2 588,827.2 588.5,827.2 589,827.2 589.5,827.2 590,827.2 590.5,827.2 591,827.2 591.5,827.2 592,827.2 592.5,827.2 593,827.2 593.5,827.2 594,827.2 594.5,827.2 595,827.2 595.5,827.2 596,827.2 596.5,827.2 597,827.2 597.5,827.2 598,827.2 598.5,827.2 599,827.2 599.5,827.2 600,827.2 600.5,827.2 601,827.2 601.5,827.2 602,827.2 602.5,827.2 603,827.2 603.5,827.2 604,827.2 604.5,827.2 605,827.2 605.5,827.2 606,827.2 606.5,827.2 607,827.2 607.5,827.2 608,827.2 608.5,827.2 609,827.2 609.5,827.2 610,827.2 610.5,827.2 611,827.2 611.5,827.2 612,827.2 612.5,827.2 613,827.2 613.5,827.2 614,827.21 614.5,827.21 615,827.21 615.5,827.21 616,827.22 616.5,827.22 617,827.23 617.5,827.24 618,827.24 618.5,827.25 619,827.25 619.5,827.26 620,827.27 620.5,827.28 621,827.29 621.5,827.29 622,827.3 622.5,827.31 623,827.32 623.5,827.33 624,827.34 624.5,827.35 625,827.36 625.5,827.37 626,827.38 626.5,827.39 627,827.4 627.5,827.41 628,827.42 628.5,827.43 629,827.44 629.5,827.45 630,827.46 630.5,827.47 631,827.48 631.5,827.49 632,827.5 632.5,827.51 633,827.51 633.5,827.52 634,827.53 634.5,827.54 635,827.55 635.5,827.55 636,827.56 636.5,827.57 637,827.57 637.5,827.58 638,827.58 638.5,827.59 639,827.59 639.5,827.6 640,827.6 640.5,827.6 641,827.61 641.5,827.61 642,827.61 642.5,827.61 643,827.62 643.5,827.62 644,827.62 644.5,827.63 645,827.63 645.5,827.63 646,827.63 646.5,827.64 647,827.64 647.5,827.64 648,827.64 648.5,827.65 649,827.65 649.5,827.65 650,827.65 650.5,827.65 651,827.66 651.5,827.66 652,827.66 652.5,827.66 653,827.67 653.5,827.67 654,827.67 654.5,827.67 655,827.67 655.5,827.68 656,827.68 656.5,827.68 657,827.68 657.5,827.68 658,827.69 658.5,827.69 659,827.69 659.5,827.69 660,827.69 660.5,827.7 661,827.7 661.5,827.7 662,827.7 662.5,827.7 663,827.7 663.5,827.71 664,827.71 664.5,827.71 665,827.71 665.5,827.71 666,827.71 666.5,827.72 667,827.72 667.5,827.72 668,827.72 668.5,827.72 669,827.72 669.5,827.73 670,827.73 670.5,827.73 671,827.73 671.5,827.73 672,827.73 672.5,827.73 673,827.74 673.5,827.74 674,827.74 674.5,827.74 675,827.74 675.5,827.74 676,827.74 676.5,827.75 677,827.75 677.5,827.75 678,827.75 678.5,827.75 679,827.75 679.5,827.75 680,827.75 680.5,827.76 681,827.76 681.5,827.76 682,827.76 682.5,827.76 683,827.76 683.5,827.76 684,827.76 684.5,827.77 685,827.77 685.5,827.77 686,827.77 686.5,827.77 687,827.77 687.5,827.77 688,827.77 688.5,827.77 689,827.78 689.5,827.78 690,827.78 690.5,827.78 691,827.78 691.5,827.78 692,827.78 692.5,827.78 693,827.78 693.5,827.79 694,827.79 694.5,827.79 695,827.79 695.5,827.79 696,827.79 696.5,827.79 697,827.79 697.5,827.79 698,827.8 698.5,827.8 699,827.8 699.5,827.8 700,827.8 700.5,827.8 701,827.8 701.51,827.8 702.01,827.8 702.51,827.81 703.01,827.81 703.52,827.81 704.02,827.81 704.52,827.81 705.02,827.81 705.53,827.81 706.03,827.81 706.53,827.81 707.03,827.81 707.54,827.82 708.04,827.82 708.54,827.82 709.04,827.82 709.55,827.82 710.05,827.82 710.55,827.82 711.05,827.82 711.56,827.82 712.06,827.82 712.56,827.82 713.06,827.83 713.57,827.83 714.07,827.83 714.57,827.83 715.07,827.83 715.58,827.83 716.08,827.83 716.58,827.83 717.08,827.83 717.59,827.83 718.09,827.83 718.59,827.84 719.09,827.84 719.6,827.84 720.1,827.84 720.6,827.84 721.1,827.84 721.6,827.84 722.11,827.84 722.61,827.84 723.11,827.84 723.61,827.84 724.12,827.84 724.62,827.84 725.12,827.85 725.62,827.85 726.13,827.85 726.63,827.85 727.13,827.85 727.63,827.85 728.14,827.85 728.64,827.85 729.14,827.85 729.64,827.85 730.15,827.85 730.65,827.85 731.15,827.85 731.65,827.86 732.16,827.86 732.66,827.86 733.16,827.86 733.66,827.86 734.17,827.86 734.67,827.86 735.17,827.86 735.67,827.86 736.18,827.86 736.68,827.86 737.18,827.86 737.68,827.86 738.19,827.86 738.69,827.87 739.19,827.87 739.69,827.87 740.2,827.87 740.7,827.87 741.2,827.87 741.7,827.87 742.2,827.87 742.71,827.87 743.21,827.87 743.71,827.87 744.21,827.87 744.72,827.87 745.22,827.88 745.72,827.88 746.22,827.88 746.73,827.88 747.23,827.88 747.73,827.88 748.23,827.88 748.74,827.88 749.24,827.88 749.74,827.88 750.24,827.88 750.75,827.88 751.25,827.88 751.75,827.88 752.25,827.89 752.76,827.89 753.26,827.89 753.76,827.89 754.26,827.89 754.77,827.89 755.27,827.89 755.77,827.89 756.27,827.89 756.78,827.89 757.28,827.89 757.78,827.89 758.28,827.89 758.79,827.9 759.29,827.9 759.79,827.9 760.29,827.9 760.8,827.9 761.3,827.9 761.8,827.9" fill="none" stroke="#ff7f0e" stroke-width="1.65" stroke-linejoin="round" stroke-linecap="round"/>
<polyline points="468.5,828 468.75,828 469,828 469.25,828 469.5,828 469.75,828 470,828 470.25,828 470.5,828 470.75,828 471,828 471.25,828 471.5,828 471.75,828 472,828 472.25,828 472.5,828 472.75,828 473,828 473.25,828 473.5,828 473.75,828 474,828 474.25,828 474.5,828 474.75,828 475,828 475.25,828 475.5,828 475.75,828 476,828 476.25,828 476.5,828 476.75,828 477,828 477.25,828 477.5,828 477.75,828 478,828 478.25,827.34 478.5,826.78 478.75,825.87 479,824.43 479.25,822.3 479.5,819.32 479.75,815.39 480,810.52 480.25,804.91 480.5,798.89 480.75,793 481,787.85 481.25,784.08 481.5,782.17 481.75,782.39 482,784.7 482.25,788.79 482.5,794.13 482.75,800.1 483,806.07 483.25,811.55 483.5,816.2 483.75,819.85 484,822.46 484.25,824.02 484.5,824.47 484.75,823.59 485,820.96 485.25,815.85 485.5,807.32 485.75,794.31 486,775.95 486.25,751.94 486.5,722.94 486.75,690.86 487,658.84 487.25,630.84 487.5,610.86 487.75,602.02 488,605.74 488.25,621.41 488.5,646.49 488.75,677.22 489,709.51 489.25,739.83 489.5,765.76 489.75,786.15 490,800.99 490.25,810.99 490.5,817.24 490.75,820.81 491,822.64 491.25,823.39 491.5,823.51 491.75,823.24 492,822.69 492.25,821.86 492.5,820.72 492.75,819.16 493,817.07 493.25,814.35 493.5,810.89 493.75,806.64 494,801.58 494.25,795.8 494.5,789.48 494.75,782.88 495,776.35 495.25,770.31 495.5,765.18 495.75,761.35 496,759.14 496.25,758.75 496.5,760.22 496.75,763.44 497,768.18 497.25,774.07 497.5,780.7 497.75,787.65 498,794.52 498.25,800.97 498.5,806.78 498.75,811.8 499,815.97 499.25,819.31 499.5,821.89 499.75,823.83 500,825.22 500.25,826.21 500.5,826.87 500.75,827.31 501,828 501.25,828 501.5,828 501.75,828 502,828 502.25,828 502.5,828 502.75,828 503,828 503.25,828 503.5,828 503.75,828 504,828 504.25,828 504.5,828 504.75,828 505,828 505.25,828 505.5,828 505.75,828 506,828 506.25,828 506.5,828 506.75,828 507,828 507.25,828 507.5,828 507.75,828 508,828 508.25,828 508.5,828 508.75,828 509,828 509.25,828 509.5,828 509.75,828 510,828 510.5,828 511,828 511.5,828 512,828 512.5,828 513,828 513.5,828 514,828 514.51,828 515.01,828 515.51,828 516.01,828 516.51,828 517.01,828 517.51,828 518.01,828 518.51,828 519.01,828 519.51,828 520.01,828 520.51,828 521.01,828 521.51,828 522.01,828 522.51,828 523.02,828 523.52,828 524.02,828 524.52,828 525.02,828 525.52,828 526.02,828 526.52,828 527.02,828 527.52,828 528.02,828 528.52,828 529.02,828 529.52,828 530.02,828 530.52,828 531.03,828 531.53,828 532.03,828 532.53,828 533.03,828 533.53,828 534.03,828 534.53,828 535.03,828 535.53,828 536.03,828 536.53,828 537.03,828 537.53,828 538.03,828 538.53,828 539.03,828 539.54,828 540.04,828 540.54,828 541.04,828 541.54,828 542.04,828 542.54,828 543.04,828 543.54,828 544.04,828 544.54,828 545.04,828 545.54,828 546.04,828 546.54,828 547.04,828 547.54,828 548.05,828 548.55,828 549.05,828 549.55,828 550.05,828 550.55,828 551.05,828 551.55,828 552.05,828 552.55,828 553.05,828 553.55,828 554.05,828 554.55,828 555.05,828 555.55,828 556.05,828 556.56,828 557.06,828 557.56,828 558.06,828 558.56,828 559.06,828 559.56,828 560.06,828 560.56,828 561.06,828 561.56,828 562.06,828 562.56,828 563.06,828 563.56,828 564.06,828 564.57,828 565.07,828 565.57,828 566.07,828 566.57,828 567.07,828 567.57,828 568.07,828 568.57,828 569.07,828 569.57,828 570.07,828 570.57,828 571.07,828 571.57,828 572.07,828 572.57,828 573.08,828 573.58,828 574.08,828 574.58,828 575.08,828 575.58,828 576.08,828 576.58,828 577.08,828 577.58,828 578.08,828 578.58,828 579.08,828 579.58,828 580.08,828 580.58,828 581.08,828 581.59,828 582.09,828 582.59,828 583.09,828 583.59,828 584.09,828 584.59,828 585.09,828 585.59,828 586.09,828 586.59,828 587.09,828 587.59,828 588.09,828 588.59,828 589.09,828 589.59,828 590.1,828 590.6,828 591.1,828 591.6,828 592.1,828 592.6,828 593.1,828 593.6,828 594.1,828 594.6,828 595.1,828 595.6,828 596.1,828 596.6,828 597.1,828 597.6,828 598.1,828 598.61,828 599.11,828 599.61,828 600.11,828 600.61,828 601.11,828 601.61,828 602.11,828 602.61,828 603.11,828 603.61,828 604.11,828 604.61,828 605.11,828 605.61,828 606.11,828 606.62,828 607.12,828 607.62,828 608.12,828 608.62,828 609.12,828 609.62,828 610.12,828 610.62,828 611.12,828 611.62,828 612.12,828 612.62,828 613.12,828 613.62,828 614.12,828 614.62,828 615.13,828 615.63,828 616.13,828 616.63,828 617.13,828 617.63,828 618.13,828 618.63,828 619.13,828 619.63,828 620.13,828 620.63,828 621.13,828 621.63,828 622.13,828 622.63,828 623.13,828 623.64,828 624.14,828 624.64,828 625.14,828 625.64,828 626.14,828 626.64,828 627.14,828 627.64,828 628.14,828 628.64,828 629.14,828 629.64,828 630.14,828 630.64,828 631.14,828 631.64,828 632.15,828 632.65,828 633.15,828 633.65,828 634.15,828 634.65,828 635.15,828 635.65,828 636.15,828 636.65,828 637.15,828 637.65,828 638.15,828 638.65,828 639.15,828 639.65,828 640.16,828 640.66,828 641.16,828 641.66,828 642.16,828 642.66,828 643.16,828 643.66,828 644.16,828 644.66,828 645.16,828 645.66,828 646.16,828 646.66,828 647.16,828 647.66,828 648.16,828 648.67,828 649.17,828 649.67,828 650.17,828 650.67,828 651.17,828 651.67,828 652.17,828 652.67,828 653.17,828 653.67,828 654.17,828 654.67,828 655.17,828 655.67,828 656.17,828 656.67,828 657.18,828 657.68,828 658.18,828 658.68,828 659.18,828 659.68,828 660.18,828 660.68,828 661.18,828 661.68,828 662.18,828 662.68,828 663.18,828 663.68,828 664.18,828 664.68,828 665.18,828 665.69,828 666.19,828 666.69,828 667.19,828 667.69,828 668.19,828 668.69,828 669.19,828 669.69,828 670.19,828 670.69,828 671.19,828 671.69,828 672.19,828 672.69,828 673.19,828 673.7,828 674.2,828 674.7,828 675.2,828 675.7,828 676.2,828 676.7,828 677.2,828 677.7,828 678.2,828 678.7,828 679.2,828 679.7,828 680.2,828 680.7,828 681.2,828 681.7,828 682.21,828 682.71,828 683.21,828 683.71,828 684.21,828 684.71,828 685.21,828 685.71,828 686.21,828 686.71,828 687.21,828 687.71,828 688.21,828 688.71,828 689.21,828 689.71,828 690.21,828 690.72,828 691.22,828 691.72,828 692.22,828 692.72,828 693.22,828 693.72,828 694.22,828 694.72,828 695.22,828 695.72,828 696.22,828 696.72,828 697.22,828 697.72,828 698.22,828 698.72,828 699.23,828 699.73,828 700.23,828 700.73,828 701.23,828 701.73,828 702.23,828 702.73,828 703.23,828 703.73,828 704.23,828 704.73,828 705.23,828 705.73,828 706.23,828 706.73,828 707.23,828 707.74,828 708.24,828 708.74,828 709.24,828 709.74,828 710.24,828 710.74,828 711.24,828 711.74,828 712.24,828 712.74,828 713.24,828 713.74,828 714.24,828 714.74,828 715.24,828 715.75,828 716.25,828 716.75,828 717.25,828 717.75,828 718.25,828 718.75,828 719.25,828 719.75,828 720.25,828 720.75,828 721.25,828 721.75,828 722.25,828 722.75,828 723.25,828 723.75,828 724.26,828 724.76,828 725.26,828 725.76,828 726.26,828 726.76,828 727.26,828 727.76,828 728.26,828 728.76,828 729.26,828 729.76,828 730.26,828 730.76,828 731.26,828 731.76,828 732.26,828 732.77,828 733.27,828 733.77,828 734.27,828 734.77,828 735.27,828 735.77,828 736.27,828 736.77,828 737.27,828 737.77,828 738.27,828 738.77,828 739.27,828 739.77,828 740.27,828 740.77,828 741.28,828 741.78,828 742.28,828 742.78,828 743.28,828 743.78,828 744.28,828 744.78,828 745.28,828 745.78,828 746.28,828 746.78,828 747.28,828 747.78,828 748.28,828 748.78,828 749.29,828 749.79,828 750.29,828 750.79,828 751.29,828 751.79,828 752.29,828 752.79,828 753.29,828 753.79,828 754.29,828 754.79,828 755.29,828 755.79,828 756.29,828 756.79,828 757.29,828 757.8,828 758.3,828 758.8,828 759.3,828 759.8,828 760.3,828 760.8,828 761.3,828 761.8,828" fill="none" stroke="#1f77b4" stroke-width="1.65" stroke-linejoin="round" stroke-linecap="round"/>
</g>
<rect x="454" y="587.7" width="322.8" height="240.3" fill="none" stroke="#555555" stroke-width="1.3"/>
<line x1="468.5" y1="828" x2="468.5" y2="831.4" stroke="#2a2a2a" stroke-width="1"/>
<text x="468.5" y="842.3" text-anchor="middle" font-size="11.6">0</text>
<line x1="536.8" y1="828" x2="536.8" y2="831.4" stroke="#2a2a2a" stroke-width="1"/>
<text x="536.8" y="842.3" text-anchor="middle" font-size="11.6">10</text>
<line x1="605.1" y1="828" x2="605.1" y2="831.4" stroke="#2a2a2a" stroke-width="1"/>
<text x="605.1" y="842.3" text-anchor="middle" font-size="11.6">20</text>
<line x1="673.4" y1="828" x2="673.4" y2="831.4" stroke="#2a2a2a" stroke-width="1"/>
<text x="673.4" y="842.3" text-anchor="middle" font-size="11.6">30</text>
<line x1="741.7" y1="828" x2="741.7" y2="831.4" stroke="#2a2a2a" stroke-width="1"/>
<text x="741.7" y="842.3" text-anchor="middle" font-size="11.6">40</text>
<line x1="450.6" y1="828" x2="454" y2="828" stroke="#2a2a2a" stroke-width="1"/>
<text x="446.6" y="832" text-anchor="end" font-size="11.6">0</text>
<line x1="450.6" y1="792.1" x2="454" y2="792.1" stroke="#2a2a2a" stroke-width="1"/>
<text x="446.6" y="796.1" text-anchor="end" font-size="11.6">50</text>
<line x1="450.6" y1="756.2" x2="454" y2="756.2" stroke="#2a2a2a" stroke-width="1"/>
<text x="446.6" y="760.2" text-anchor="end" font-size="11.6">100</text>
<line x1="450.6" y1="720.3" x2="454" y2="720.3" stroke="#2a2a2a" stroke-width="1"/>
<text x="446.6" y="724.3" text-anchor="end" font-size="11.6">150</text>
<line x1="450.6" y1="684.4" x2="454" y2="684.4" stroke="#2a2a2a" stroke-width="1"/>
<text x="446.6" y="688.4" text-anchor="end" font-size="11.6">200</text>
<line x1="450.6" y1="648.5" x2="454" y2="648.5" stroke="#2a2a2a" stroke-width="1"/>
<text x="446.6" y="652.5" text-anchor="end" font-size="11.6">250</text>
<line x1="450.6" y1="612.6" x2="454" y2="612.6" stroke="#2a2a2a" stroke-width="1"/>
<text x="446.6" y="616.6" text-anchor="end" font-size="11.6">300</text>
<text x="615.4" y="858.9" text-anchor="middle" font-size="15.4" textLength="111.5" lengthAdjust="spacingAndGlyphs">Rotatable bond</text>
<text transform="translate(419.9 707.85) rotate(-90)" x="0" y="0" text-anchor="middle" font-size="15.8" textLength="119.4" lengthAdjust="spacingAndGlyphs">No. of molecules</text>
<rect x="682.2" y="592.2" width="90.3" height="43.7" rx="2" ry="2" fill="#fff" fill-opacity="0.8" stroke="#d6d6d6" stroke-width="0.9"/>
<text x="699.7" y="602.3" font-size="9.2" textLength="54.3" lengthAdjust="spacingAndGlyphs">obj_function</text>
<rect x="685.6" y="609.7" width="18.2" height="6.6" fill="#8fbbd9" stroke="#1e2a33" stroke-width="1.1"/>
<rect x="685.6" y="623.3" width="18.2" height="6.6" fill="#ffbf86" stroke="#33291f" stroke-width="1.1"/>
<text x="711.2" y="616" font-size="9.8" textLength="53.9" lengthAdjust="spacingAndGlyphs">New SMILES</text>
<text x="711.2" y="629.6" font-size="9.8" textLength="56.7" lengthAdjust="spacingAndGlyphs">SureChEMBL</text>
</g>
<g>
<clipPath id="c7"><rect x="61.5" y="889.3" width="322.8" height="240.3"/></clipPath>
<g clip-path="url(#c7)">
<path d="M76.2 1129.6V1126.8H79.1V1129.6ZM79.1 1129.6V1126.4H82V1129.6ZM82 1129.6V1125.8H84.9V1129.6ZM84.9 1129.6V1126.8H87.8V1129.6ZM87.8 1129.6V1126.4H90.7V1129.6ZM90.7 1129.6V1124.6H93.6V1129.6ZM93.6 1129.6V1121.1H96.5V1129.6ZM96.5 1129.6V1113.8H99.4V1129.6ZM99.4 1129.6V1110.6H102.3V1129.6ZM102.3 1129.6V1098.1H105.2V1129.6ZM105.2 1129.6V1098.1H108.1V1129.6ZM108.1 1129.6V1092.7H111V1129.6ZM111 1129.6V1073.6H113.9V1129.6ZM113.9 1129.6V1082.1H116.8V1129.6ZM116.8 1129.6V1070.4H119.7V1129.6ZM119.7 1129.6V1064H122.6V1129.6ZM122.6 1129.6V1068.2H125.5V1129.6ZM125.5 1129.6V1079.6H128.4V1129.6ZM128.4 1129.6V1084.3H131.3V1129.6ZM131.3 1129.6V1101.8H134.2V1129.6ZM134.2 1129.6V1096.7H137.1V1129.6ZM137.1 1129.6V1098.7H140V1129.6ZM140 1129.6V1089.3H142.9V1129.6ZM142.9 1129.6V1111.6H145.8V1129.6ZM145.8 1129.6V1115.4H148.7V1129.6ZM148.7 1129.6V1120H151.6V1129.6ZM151.6 1129.6V1108.6H154.5V1129.6ZM154.5 1129.6V1118.7H157.4V1129.6ZM157.4 1129.6V1111.6H160.3V1129.6ZM160.3 1129.6V1117.4H163.2V1129.6ZM163.2 1129.6V1124.4H166.1V1129.6ZM166.1 1129.6V1120H169V1129.6ZM169 1129.6V1119.4H171.9V1129.6ZM171.9 1129.6V1125.8H174.8V1129.6ZM174.8 1129.6V1124.4H177.7V1129.6ZM177.7 1129.6V1124.4H180.6V1129.6ZM180.6 1129.6V1125H183.5V1129.6ZM183.5 1129.6V1125H186.4V1129.6ZM186.4 1129.6V1124.4H189.3V1129.6ZM189.3 1129.6V1122.9H192.2V1129.6ZM192.2 1129.6V1125.8H195.1V1129.6ZM195.1 1129.6V1126.7H198V1129.6ZM198 1129.6V1127.6H200.9V1129.6ZM200.9 1129.6V1124.4H203.8V1129.6ZM203.8 1129.6V1127.3H206.7V1129.6ZM206.7 1129.6V1128.1H209.6V1129.6ZM209.6 1129.6V1128.1H212.5V1129.6ZM212.5 1129.6V1128.1H215.4V1129.6ZM215.4 1129.6V1128.1H218.3V1129.6ZM218.3 1129.6V1128.1H221.2V1129.6ZM221.2 1129.6V1126.4H224.1V1129.6ZM224.1 1129.6V1128.6H227V1129.6ZM227 1129.6V1128.6H229.9V1129.6ZM229.9 1129.6V1128.6H232.8V1129.6ZM232.8 1129.6V1128.6H235.7V1129.6ZM235.7 1129.6V1126.4H238.6V1129.6ZM238.6 1129.6V1128.6H241.5V1129.6ZM241.5 1129.6V1128.6H244.4V1129.6ZM244.4 1129.6V1128.6H247.3V1129.6ZM247.3 1129.6V1126.4H250.2V1129.6ZM250.2 1129.6V1124.4H253.1V1129.6ZM253.1 1129.6V1128.6H256V1129.6ZM256 1129.6V1126.4H258.9V1129.6ZM258.9 1129.6V1128.6H261.8V1129.6ZM261.8 1129.6V1128.6H264.7V1129.6ZM264.7 1129.6V1128.6H267.6V1129.6ZM267.6 1129.6V1128.6H270.5V1129.6ZM270.5 1129.6V1128.6H273.4V1129.6ZM273.4 1129.6V1128.6H276.3V1129.6ZM276.3 1129.6V1128.6H279.2V1129.6ZM279.2 1129.6V1128.4H282.1V1129.6ZM285 1129.6V1128.4H287.9V1129.6ZM290.8 1129.6V1128.2H293.7V1129.6ZM302.4 1129.6V1128.2H305.3V1129.6ZM308.2 1129.6V1128.4H311.1V1129.6ZM322.7 1129.6V1128.2H325.6V1129.6ZM328.5 1129.6V1128.4H331.4V1129.6ZM331.4 1129.6V1128.2H334.3V1129.6ZM337.2 1129.6V1128.2H340.1V1129.6ZM340.1 1129.6V1128.2H343V1129.6ZM366.2 1129.6V1128.2H369.1V1129.6Z" fill="#ff7f0e" fill-opacity="0.5" stroke="#5a3410" stroke-opacity="0.5" stroke-width="0.5"/>
<path d="M102.3 1129.6V1124.6H105.2V1129.6ZM105.2 1129.6V1082.1H108.1V1129.6ZM108.1 1129.6V1082.1H111V1129.6ZM111 1129.6V899.6H113.9V1129.6ZM113.9 1129.6V1022H116.8V1129.6ZM116.8 1129.6V1038.6H119.7V1129.6ZM119.7 1129.6V935.6H122.6V1129.6ZM122.6 1129.6V1071.6H125.5V1129.6ZM125.5 1129.6V1068.1H128.4V1129.6ZM128.4 1129.6V1114.6H131.3V1129.6ZM131.3 1129.6V1121.6H134.2V1129.6ZM134.2 1129.6V1124.6H137.1V1129.6ZM137.1 1129.6V1127.6H140V1129.6Z" fill="#1f77b4" fill-opacity="0.5" stroke="#0d2a40" stroke-opacity="0.5" stroke-width="0.5"/>
<polyline points="75.7,1127.4 76.2,1127.25 76.7,1127.1 77.2,1126.96 77.7,1126.82 78.2,1126.69 78.7,1126.55 79.2,1126.41 79.7,1126.27 80.2,1126.12 80.7,1125.96 81.2,1125.79 81.7,1125.61 82.2,1125.41 82.7,1125.2 83.23,1124.95 83.75,1124.67 84.28,1124.35 84.8,1124.01 85.33,1123.65 85.85,1123.26 86.38,1122.86 86.9,1122.44 87.42,1122.01 87.95,1121.58 88.47,1121.14 89,1120.7 89.53,1120.25 90.05,1119.78 90.58,1119.29 91.1,1118.78 91.62,1118.26 92.15,1117.72 92.67,1117.18 93.2,1116.63 93.72,1116.07 94.25,1115.51 94.77,1114.95 95.3,1114.4 95.83,1113.85 96.35,1113.29 96.88,1112.72 97.4,1112.15 97.92,1111.58 98.45,1111 98.97,1110.41 99.5,1109.82 100.02,1109.23 100.55,1108.62 101.07,1108.02 101.6,1107.4 102.1,1106.8 102.6,1106.2 103.1,1105.58 103.6,1104.96 104.1,1104.33 104.6,1103.7 105.1,1103.07 105.6,1102.43 106.1,1101.8 106.6,1101.17 107.1,1100.52 107.6,1099.88 108.1,1099.23 108.6,1098.58 109.1,1097.93 109.6,1097.29 110.1,1096.65 110.6,1096.02 111.1,1095.4 111.64,1094.72 112.19,1094.04 112.73,1093.35 113.28,1092.67 113.82,1092.01 114.37,1091.36 114.91,1090.74 115.46,1090.15 116,1089.6 116.5,1089.11 117,1088.61 117.5,1088.11 118,1087.64 118.5,1087.21 119,1086.83 119.5,1086.52 120,1086.3 120.5,1086.13 121,1085.96 121.5,1085.81 122,1085.67 122.5,1085.56 123,1085.47 123.5,1085.42 124,1085.4 124.5,1085.42 125,1085.49 125.5,1085.6 126,1085.74 126.5,1085.92 127,1086.13 127.5,1086.35 128,1086.6 128.53,1087.04 129.05,1087.71 129.57,1088.45 130.1,1089.1 130.64,1089.65 131.19,1090.18 131.73,1090.67 132.28,1091.15 132.82,1091.62 133.37,1092.1 133.91,1092.58 134.46,1093.08 135,1093.6 135.52,1094.12 136.04,1094.66 136.56,1095.21 137.08,1095.76 137.6,1096.33 138.12,1096.9 138.64,1097.47 139.16,1098.05 139.68,1098.63 140.2,1099.2 140.73,1099.8 141.27,1100.41 141.8,1101.03 142.33,1101.65 142.87,1102.27 143.4,1102.88 143.93,1103.48 144.47,1104.05 145,1104.6 145.53,1105.12 146.06,1105.62 146.59,1106.1 147.12,1106.57 147.65,1107.03 148.18,1107.49 148.71,1107.94 149.24,1108.39 149.77,1108.84 150.3,1109.3 150.82,1109.76 151.34,1110.22 151.87,1110.68 152.39,1111.14 152.91,1111.6 153.43,1112.04 153.96,1112.48 154.48,1112.9 155,1113.3 155.54,1113.7 156.08,1114.09 156.62,1114.47 157.16,1114.83 157.7,1115.19 158.24,1115.55 158.78,1115.89 159.32,1116.23 159.86,1116.57 160.4,1116.9 160.91,1117.22 161.42,1117.53 161.93,1117.85 162.44,1118.16 162.96,1118.47 163.47,1118.76 163.98,1119.03 164.49,1119.28 165,1119.5 165.51,1119.7 166.02,1119.9 166.53,1120.09 167.03,1120.27 167.54,1120.44 168.05,1120.61 168.56,1120.78 169.07,1120.93 169.57,1121.09 170.08,1121.24 170.59,1121.38 171.1,1121.52 171.61,1121.66 172.12,1121.8 172.62,1121.93 173.13,1122.06 173.64,1122.19 174.15,1122.32 174.66,1122.45 175.17,1122.58 175.67,1122.71 176.18,1122.84 176.69,1122.97 177.2,1123.1 177.71,1123.23 178.22,1123.37 178.73,1123.5 179.24,1123.64 179.75,1123.78 180.26,1123.91 180.77,1124.05 181.28,1124.18 181.79,1124.32 182.3,1124.45 182.8,1124.57 183.31,1124.7 183.82,1124.82 184.33,1124.94 184.84,1125.05 185.35,1125.15 185.86,1125.26 186.37,1125.35 186.88,1125.44 187.39,1125.52 187.9,1125.6 188.4,1125.67 188.91,1125.74 189.41,1125.8 189.92,1125.86 190.42,1125.92 190.93,1125.98 191.43,1126.04 191.93,1126.09 192.44,1126.14 192.94,1126.19 193.45,1126.24 193.95,1126.29 194.45,1126.34 194.96,1126.38 195.46,1126.43 195.97,1126.47 196.47,1126.51 196.97,1126.56 197.48,1126.6 197.98,1126.64 198.49,1126.68 198.99,1126.72 199.5,1126.76 200,1126.8 200.5,1126.84 201,1126.88 201.5,1126.92 202,1126.96 202.5,1127 203,1127.04 203.5,1127.08 204,1127.11 204.5,1127.15 205,1127.19 205.5,1127.22 206,1127.26 206.5,1127.3 207,1127.33 207.5,1127.37 208,1127.4 208.5,1127.43 209,1127.47 209.5,1127.5 210,1127.53 210.5,1127.56 211,1127.59 211.5,1127.62 212,1127.65 212.5,1127.68 213,1127.7 213.5,1127.73 214,1127.75 214.5,1127.78 215,1127.8 215.5,1127.82 216,1127.84 216.5,1127.87 217,1127.89 217.5,1127.91 218,1127.93 218.5,1127.95 219,1127.97 219.5,1127.99 220,1128.01 220.5,1128.03 221,1128.05 221.5,1128.07 222,1128.09 222.5,1128.11 223,1128.12 223.5,1128.14 224,1128.16 224.5,1128.18 225,1128.2 225.5,1128.21 226,1128.23 226.5,1128.25 227,1128.26 227.5,1128.28 228,1128.3 228.5,1128.31 229,1128.33 229.5,1128.34 230,1128.36 230.5,1128.37 231,1128.39 231.5,1128.4 232,1128.41 232.5,1128.43 233,1128.44 233.5,1128.45 234,1128.47 234.5,1128.48 235,1128.49 235.5,1128.5 236,1128.52 236.5,1128.53 237,1128.54 237.5,1128.55 238,1128.56 238.5,1128.57 239,1128.58 239.5,1128.59 240,1128.6 240.5,1128.61 241,1128.62 241.5,1128.63 242,1128.64 242.5,1128.65 243,1128.66 243.5,1128.67 244,1128.67 244.5,1128.68 245,1128.69 245.5,1128.7 246,1128.71 246.5,1128.72 247,1128.73 247.5,1128.74 248,1128.74 248.5,1128.75 249,1128.76 249.5,1128.77 250,1128.78 250.5,1128.78 251,1128.79 251.5,1128.8 252,1128.81 252.5,1128.81 253,1128.82 253.5,1128.83 254,1128.84 254.5,1128.84 255,1128.85 255.5,1128.86 256,1128.86 256.5,1128.87 257,1128.88 257.5,1128.88 258,1128.89 258.5,1128.9 259,1128.9 259.5,1128.91 260,1128.91 260.5,1128.92 261,1128.93 261.5,1128.93 262,1128.94 262.5,1128.94 263,1128.95 263.5,1128.95 264,1128.96 264.5,1128.96 265,1128.96 265.5,1128.97 266,1128.97 266.5,1128.98 267,1128.98 267.5,1128.98 268,1128.99 268.5,1128.99 269,1128.99 269.5,1129 270,1129 270.5,1129 271,1129.01 271.5,1129.01 272,1129.01 272.5,1129.01 273,1129.02 273.5,1129.02 274,1129.02 274.5,1129.02 275,1129.03 275.5,1129.03 276,1129.03 276.5,1129.03 277,1129.04 277.5,1129.04 278,1129.04 278.5,1129.04 279,1129.05 279.5,1129.05 280,1129.05 280.5,1129.05 281,1129.06 281.5,1129.06 282,1129.06 282.5,1129.06 283,1129.06 283.5,1129.07 284,1129.07 284.5,1129.07 285,1129.07 285.5,1129.07 286,1129.08 286.5,1129.08 287,1129.08 287.5,1129.08 288,1129.08 288.5,1129.09 289,1129.09 289.5,1129.09 290,1129.09 290.5,1129.09 291,1129.1 291.5,1129.1 292,1129.1 292.5,1129.1 293,1129.1 293.5,1129.11 294,1129.11 294.5,1129.11 295,1129.11 295.5,1129.11 296,1129.11 296.5,1129.12 297,1129.12 297.5,1129.12 298,1129.12 298.5,1129.12 299,1129.12 299.5,1129.13 300,1129.13 300.5,1129.13 301,1129.13 301.5,1129.13 302,1129.13 302.5,1129.13 303,1129.14 303.5,1129.14 304,1129.14 304.5,1129.14 305,1129.14 305.5,1129.14 306,1129.15 306.5,1129.15 307,1129.15 307.5,1129.15 308,1129.15 308.5,1129.15 309,1129.15 309.5,1129.16 310,1129.16 310.5,1129.16 311,1129.16 311.5,1129.16 312,1129.16 312.5,1129.16 313,1129.16 313.5,1129.17 314,1129.17 314.5,1129.17 315,1129.17 315.5,1129.17 316,1129.17 316.5,1129.17 317,1129.17 317.5,1129.18 318,1129.18 318.5,1129.18 319,1129.18 319.5,1129.18 320,1129.18 320.5,1129.18 321,1129.18 321.5,1129.19 322,1129.19 322.5,1129.19 323,1129.19 323.5,1129.19 324,1129.19 324.5,1129.19 325,1129.19 325.5,1129.19 326,1129.2 326.5,1129.2 327,1129.2 327.5,1129.2 328,1129.2 328.5,1129.2 329,1129.2 329.5,1129.2 330,1129.2 330.5,1129.21 331,1129.21 331.5,1129.21 332,1129.21 332.5,1129.21 333,1129.21 333.5,1129.21 334,1129.21 334.5,1129.21 335,1129.22 335.5,1129.22 336,1129.22 336.5,1129.22 337,1129.22 337.5,1129.22 338,1129.22 338.5,1129.22 339,1129.22 339.5,1129.22 340,1129.23 340.5,1129.23 341,1129.23 341.5,1129.23 342,1129.23 342.5,1129.23 343,1129.23 343.5,1129.23 344,1129.23 344.5,1129.24 345,1129.24 345.5,1129.24 346,1129.24 346.5,1129.24 347,1129.24 347.5,1129.24 348,1129.24 348.5,1129.24 349,1129.25 349.5,1129.25 350,1129.25 350.5,1129.25 351,1129.25 351.5,1129.25 352,1129.25 352.5,1129.25 353,1129.26 353.5,1129.26 354,1129.26 354.5,1129.26 355,1129.26 355.5,1129.26 356,1129.26 356.5,1129.26 357,1129.26 357.5,1129.27 358,1129.27 358.5,1129.27 359,1129.27 359.5,1129.27 360,1129.27 360.5,1129.27 361,1129.27 361.5,1129.28 362,1129.28 362.5,1129.28 363,1129.28 363.5,1129.28 364,1129.28 364.5,1129.28 365,1129.29 365.5,1129.29 366,1129.29 366.5,1129.29 367,1129.29 367.5,1129.29 368,1129.29 368.5,1129.3 369,1129.3 369.5,1129.3 370,1129.3" fill="none" stroke="#ff7f0e" stroke-width="1.65" stroke-linejoin="round" stroke-linecap="round"/>
<polyline points="76,1129.6 76.5,1129.6 77,1129.6 77.5,1129.6 78,1129.6 78.5,1129.6 79,1129.6 79.5,1129.6 80,1129.6 80.5,1129.6 81,1129.6 81.5,1129.6 82,1129.6 82.5,1129.6 83,1129.6 83.5,1129.6 84,1129.6 84.5,1129.6 85,1129.6 85.5,1129.6 86,1129.6 86.5,1129.6 87,1129.6 87.5,1129.6 88,1129.6 88.5,1129.6 89,1129.6 89.5,1129.6 90,1129.6 90.5,1129.6 91,1129.6 91.5,1129.6 92,1129.6 92.5,1129.6 93,1129.6 93.5,1129.6 94,1129.6 94.5,1129.6 95,1129.6 95.5,1129.6 96,1129.6 96.5,1129.6 97,1129.6 97.5,1129.6 98,1129.6 98.5,1129.6 99,1129.6 99.5,1129.6 100,1129.6 100.5,1129.58 101,1129.5 101.5,1129.37 102,1129.18 102.5,1128.92 103,1128.6 103.5,1126.36 104,1121.25 104.5,1114.6 105.1,1097.54 105.7,1083.6 106.28,1082.08 106.85,1081.29 107.42,1080.64 108,1079.6 108.5,1078.3 109,1076.5 109.5,1073.6 110,1059.97 110.5,1034.56 111,1009.6 111.5,987.13 112,965.09 112.5,949.6 113.15,937.3 113.8,931.6 114.5,946.83 115.2,969.6 115.77,982.8 116.33,994.53 116.9,999.6 117.5,995.33 118.1,986.62 118.7,979.6 119.3,975.43 119.9,972.01 120.5,970.6 121,983.9 121.5,1009.6 122.3,1062.6 122.87,1066.09 123.43,1067.86 124,1069.6 124.5,1071.33 125,1073.6 125.5,1079.76 126,1089.62 126.5,1099.6 127,1110.56 127.5,1117.6 128.03,1118.49 128.56,1119.11 129.09,1119.53 129.61,1119.84 130.14,1120.1 130.67,1120.39 131.2,1120.8 131.71,1121.29 132.22,1121.82 132.74,1122.37 133.25,1122.92 133.76,1123.46 134.28,1123.98 134.79,1124.46 135.3,1124.9 135.82,1125.32 136.34,1125.75 136.87,1126.16 137.39,1126.56 137.91,1126.94 138.43,1127.28 138.96,1127.58 139.48,1127.82 140,1128 140.5,1128.14 141,1128.27 141.5,1128.4 142,1128.52 142.5,1128.64 143,1128.75 143.5,1128.86 144,1128.96 144.5,1129.06 145,1129.15 145.5,1129.23 146,1129.3 146.5,1129.37 147,1129.43 147.5,1129.48 148,1129.52 148.5,1129.56 149,1129.58 149.5,1129.59 150,1129.6 150.5,1129.6 151,1129.6 151.5,1129.6 152,1129.6 152.5,1129.6 153,1129.6 153.5,1129.6 154,1129.6 154.5,1129.6 155,1129.6 155.5,1129.6 156,1129.6 156.5,1129.6 157,1129.6 157.5,1129.6 158,1129.6 158.5,1129.6 159,1129.6 159.5,1129.6 160,1129.6 160.5,1129.6 161,1129.6 161.5,1129.6 162,1129.6 162.5,1129.6 163,1129.6 163.5,1129.6 164,1129.6 164.5,1129.6 165,1129.6 165.5,1129.6 166,1129.6 166.5,1129.6 167,1129.6 167.5,1129.6 168,1129.6 168.5,1129.6 169,1129.6 169.5,1129.6 170,1129.6 170.5,1129.6 171,1129.6 171.5,1129.6 172,1129.6 172.5,1129.6 173,1129.6 173.5,1129.6 174,1129.6 174.5,1129.6 175,1129.6 175.5,1129.6 176,1129.6 176.5,1129.6 177,1129.6 177.5,1129.6 178,1129.6 178.5,1129.6 179,1129.6 179.5,1129.6 180,1129.6 180.5,1129.6 181,1129.6 181.5,1129.6 182,1129.6 182.5,1129.6 183,1129.6 183.5,1129.6 184,1129.6 184.5,1129.6 185,1129.6 185.5,1129.6 186,1129.6 186.5,1129.6 187,1129.6 187.5,1129.6 188,1129.6 188.5,1129.6 189,1129.6 189.5,1129.6 190,1129.6 190.5,1129.6 191,1129.6 191.5,1129.6 192,1129.6 192.5,1129.6 193,1129.6 193.5,1129.6 194,1129.6 194.5,1129.6 195,1129.6 195.5,1129.6 196,1129.6 196.5,1129.6 197,1129.6 197.5,1129.6 198,1129.6 198.5,1129.6 199,1129.6 199.5,1129.6 200,1129.6 200.5,1129.6 201,1129.6 201.5,1129.6 202,1129.6 202.5,1129.6 203,1129.6 203.5,1129.6 204,1129.6 204.5,1129.6 205,1129.6 205.5,1129.6 206,1129.6 206.5,1129.6 207,1129.6 207.5,1129.6 208,1129.6 208.5,1129.6 209,1129.6 209.5,1129.6 210,1129.6 210.5,1129.6 211,1129.6 211.5,1129.6 212,1129.6 212.5,1129.6 213,1129.6 213.5,1129.6 214,1129.6 214.5,1129.6 215,1129.6 215.5,1129.6 216,1129.6 216.5,1129.6 217,1129.6 217.5,1129.6 218,1129.6 218.5,1129.6 219,1129.6 219.5,1129.6 220,1129.6 220.5,1129.6 221,1129.6 221.5,1129.6 222,1129.6 222.5,1129.6 223,1129.6 223.5,1129.6 224,1129.6 224.5,1129.6 225,1129.6 225.5,1129.6 226,1129.6 226.5,1129.6 227,1129.6 227.5,1129.6 228,1129.6 228.5,1129.6 229,1129.6 229.5,1129.6 230,1129.6 230.5,1129.6 231,1129.6 231.5,1129.6 232,1129.6 232.5,1129.6 233,1129.6 233.5,1129.6 234,1129.6 234.5,1129.6 235,1129.6 235.5,1129.6 236,1129.6 236.5,1129.6 237,1129.6 237.5,1129.6 238,1129.6 238.5,1129.6 239,1129.6 239.5,1129.6 240,1129.6 240.5,1129.6 241,1129.6 241.5,1129.6 242,1129.6 242.5,1129.6 243,1129.6 243.5,1129.6 244,1129.6 244.5,1129.6 245,1129.6 245.5,1129.6 246,1129.6 246.5,1129.6 247,1129.6 247.5,1129.6 248,1129.6 248.5,1129.6 249,1129.6 249.5,1129.6 250,1129.6 250.5,1129.6 251,1129.6 251.5,1129.6 252,1129.6 252.5,1129.6 253,1129.6 253.5,1129.6 254,1129.6 254.5,1129.6 255,1129.6 255.5,1129.6 256,1129.6 256.5,1129.6 257,1129.6 257.5,1129.6 258,1129.6 258.5,1129.6 259,1129.6 259.5,1129.6 260,1129.6 260.5,1129.6 261,1129.6 261.5,1129.6 262,1129.6 262.5,1129.6 263,1129.6 263.5,1129.6 264,1129.6 264.5,1129.6 265,1129.6 265.5,1129.6 266,1129.6 266.5,1129.6 267,1129.6 267.5,1129.6 268,1129.6 268.5,1129.6 269,1129.6 269.5,1129.6 270,1129.6 270.5,1129.6 271,1129.6 271.5,1129.6 272,1129.6 272.5,1129.6 273,1129.6 273.5,1129.6 274,1129.6 274.5,1129.6 275,1129.6 275.5,1129.6 276,1129.6 276.5,1129.6 277,1129.6 277.5,1129.6 278,1129.6 278.5,1129.6 279,1129.6 279.5,1129.6 280,1129.6 280.5,1129.6 281,1129.6 281.5,1129.6 282,1129.6 282.5,1129.6 283,1129.6 283.5,1129.6 284,1129.6 284.5,1129.6 285,1129.6 285.5,1129.6 286,1129.6 286.5,1129.6 287,1129.6 287.5,1129.6 288,1129.6 288.5,1129.6 289,1129.6 289.5,1129.6 290,1129.6 290.5,1129.6 291,1129.6 291.5,1129.6 292,1129.6 292.5,1129.6 293,1129.6 293.5,1129.6 294,1129.6 294.5,1129.6 295,1129.6 295.5,1129.6 296,1129.6 296.5,1129.6 297,1129.6 297.5,1129.6 298,1129.6 298.5,1129.6 299,1129.6 299.5,1129.6 300,1129.6 300.5,1129.6 301,1129.6 301.5,1129.6 302,1129.6 302.5,1129.6 303,1129.6 303.5,1129.6 304,1129.6 304.5,1129.6 305,1129.6 305.5,1129.6 306,1129.6 306.5,1129.6 307,1129.6 307.5,1129.6 308,1129.6 308.5,1129.6 309,1129.6 309.5,1129.6 310,1129.6 310.5,1129.6 311,1129.6 311.5,1129.6 312,1129.6 312.5,1129.6 313,1129.6 313.5,1129.6 314,1129.6 314.5,1129.6 315,1129.6 315.5,1129.6 316,1129.6 316.5,1129.6 317,1129.6 317.5,1129.6 318,1129.6 318.5,1129.6 319,1129.6 319.5,1129.6 320,1129.6 320.5,1129.6 321,1129.6 321.5,1129.6 322,1129.6 322.5,1129.6 323,1129.6 323.5,1129.6 324,1129.6 324.5,1129.6 325,1129.6 325.5,1129.6 326,1129.6 326.5,1129.6 327,1129.6 327.5,1129.6 328,1129.6 328.5,1129.6 329,1129.6 329.5,1129.6 330,1129.6 330.5,1129.6 331,1129.6 331.5,1129.6 332,1129.6 332.5,1129.6 333,1129.6 333.5,1129.6 334,1129.6 334.5,1129.6 335,1129.6 335.5,1129.6 336,1129.6 336.5,1129.6 337,1129.6 337.5,1129.6 338,1129.6 338.5,1129.6 339,1129.6 339.5,1129.6 340,1129.6 340.5,1129.6 341,1129.6 341.5,1129.6 342,1129.6 342.5,1129.6 343,1129.6 343.5,1129.6 344,1129.6 344.5,1129.6 345,1129.6 345.5,1129.6 346,1129.6 346.5,1129.6 347,1129.6 347.5,1129.6 348,1129.6 348.5,1129.6 349,1129.6 349.5,1129.6 350,1129.6 350.5,1129.6 351,1129.6 351.5,1129.6 352,1129.6 352.5,1129.6 353,1129.6 353.5,1129.6 354,1129.6 354.5,1129.6 355,1129.6 355.5,1129.6 356,1129.6 356.5,1129.6 357,1129.6 357.5,1129.6 358,1129.6 358.5,1129.6 359,1129.6 359.5,1129.6 360,1129.6 360.5,1129.6 361,1129.6 361.5,1129.6 362,1129.6 362.5,1129.6 363,1129.6 363.5,1129.6 364,1129.6 364.5,1129.6 365,1129.6 365.5,1129.6 366,1129.6 366.5,1129.6 367,1129.6 367.5,1129.6 368,1129.6 368.5,1129.6 369,1129.6 369.5,1129.6 370,1129.6" fill="none" stroke="#1f77b4" stroke-width="1.65" stroke-linejoin="round" stroke-linecap="round"/>
</g>
<rect x="61.5" y="889.3" width="322.8" height="240.3" fill="none" stroke="#555555" stroke-width="1.3"/>
<line x1="70.4" y1="1129.6" x2="70.4" y2="1133" stroke="#2a2a2a" stroke-width="1"/>
<text x="70.4" y="1143.9" text-anchor="middle" font-size="11.6">0</text>
<line x1="123.84" y1="1129.6" x2="123.84" y2="1133" stroke="#2a2a2a" stroke-width="1"/>
<text x="123.84" y="1143.9" text-anchor="middle" font-size="11.6">100</text>
<line x1="177.28" y1="1129.6" x2="177.28" y2="1133" stroke="#2a2a2a" stroke-width="1"/>
<text x="177.28" y="1143.9" text-anchor="middle" font-size="11.6">200</text>
<line x1="230.72" y1="1129.6" x2="230.72" y2="1133" stroke="#2a2a2a" stroke-width="1"/>
<text x="230.72" y="1143.9" text-anchor="middle" font-size="11.6">300</text>
<line x1="284.16" y1="1129.6" x2="284.16" y2="1133" stroke="#2a2a2a" stroke-width="1"/>
<text x="284.16" y="1143.9" text-anchor="middle" font-size="11.6">400</text>
<line x1="337.6" y1="1129.6" x2="337.6" y2="1133" stroke="#2a2a2a" stroke-width="1"/>
<text x="337.6" y="1143.9" text-anchor="middle" font-size="11.6">500</text>
<line x1="58.1" y1="1129.6" x2="61.5" y2="1129.6" stroke="#2a2a2a" stroke-width="1"/>
<text x="54.1" y="1133.6" text-anchor="end" font-size="11.6">0</text>
<line x1="58.1" y1="1095.38" x2="61.5" y2="1095.38" stroke="#2a2a2a" stroke-width="1"/>
<text x="54.1" y="1099.38" text-anchor="end" font-size="11.6">20</text>
<line x1="58.1" y1="1061.16" x2="61.5" y2="1061.16" stroke="#2a2a2a" stroke-width="1"/>
<text x="54.1" y="1065.16" text-anchor="end" font-size="11.6">40</text>
<line x1="58.1" y1="1026.94" x2="61.5" y2="1026.94" stroke="#2a2a2a" stroke-width="1"/>
<text x="54.1" y="1030.94" text-anchor="end" font-size="11.6">60</text>
<line x1="58.1" y1="992.72" x2="61.5" y2="992.72" stroke="#2a2a2a" stroke-width="1"/>
<text x="54.1" y="996.72" text-anchor="end" font-size="11.6">80</text>
<line x1="58.1" y1="958.5" x2="61.5" y2="958.5" stroke="#2a2a2a" stroke-width="1"/>
<text x="54.1" y="962.5" text-anchor="end" font-size="11.6">100</text>
<line x1="58.1" y1="924.28" x2="61.5" y2="924.28" stroke="#2a2a2a" stroke-width="1"/>
<text x="54.1" y="928.28" text-anchor="end" font-size="11.6">120</text>
<line x1="58.1" y1="890.06" x2="61.5" y2="890.06" stroke="#2a2a2a" stroke-width="1"/>
<text x="54.1" y="894.06" text-anchor="end" font-size="11.6">140</text>
<text x="222.9" y="1160.5" text-anchor="middle" font-size="15.4" textLength="37.5" lengthAdjust="spacingAndGlyphs">TPSA</text>
<text transform="translate(27.4 1009.45) rotate(-90)" x="0" y="0" text-anchor="middle" font-size="15.8" textLength="119.4" lengthAdjust="spacingAndGlyphs">No. of molecules</text>
<rect x="289.7" y="893.8" width="90.3" height="43.7" rx="2" ry="2" fill="#fff" fill-opacity="0.8" stroke="#d6d6d6" stroke-width="0.9"/>
<text x="307.2" y="903.9" font-size="9.2" textLength="54.3" lengthAdjust="spacingAndGlyphs">obj_function</text>
<rect x="293.1" y="911.3" width="18.2" height="6.6" fill="#8fbbd9" stroke="#1e2a33" stroke-width="1.1"/>
<rect x="293.1" y="924.9" width="18.2" height="6.6" fill="#ffbf86" stroke="#33291f" stroke-width="1.1"/>
<text x="318.7" y="917.6" font-size="9.8" textLength="53.9" lengthAdjust="spacingAndGlyphs">New SMILES</text>
<text x="318.7" y="931.2" font-size="9.8" textLength="56.7" lengthAdjust="spacingAndGlyphs">SureChEMBL</text>
</g>
</g>
</svg></body></html>
